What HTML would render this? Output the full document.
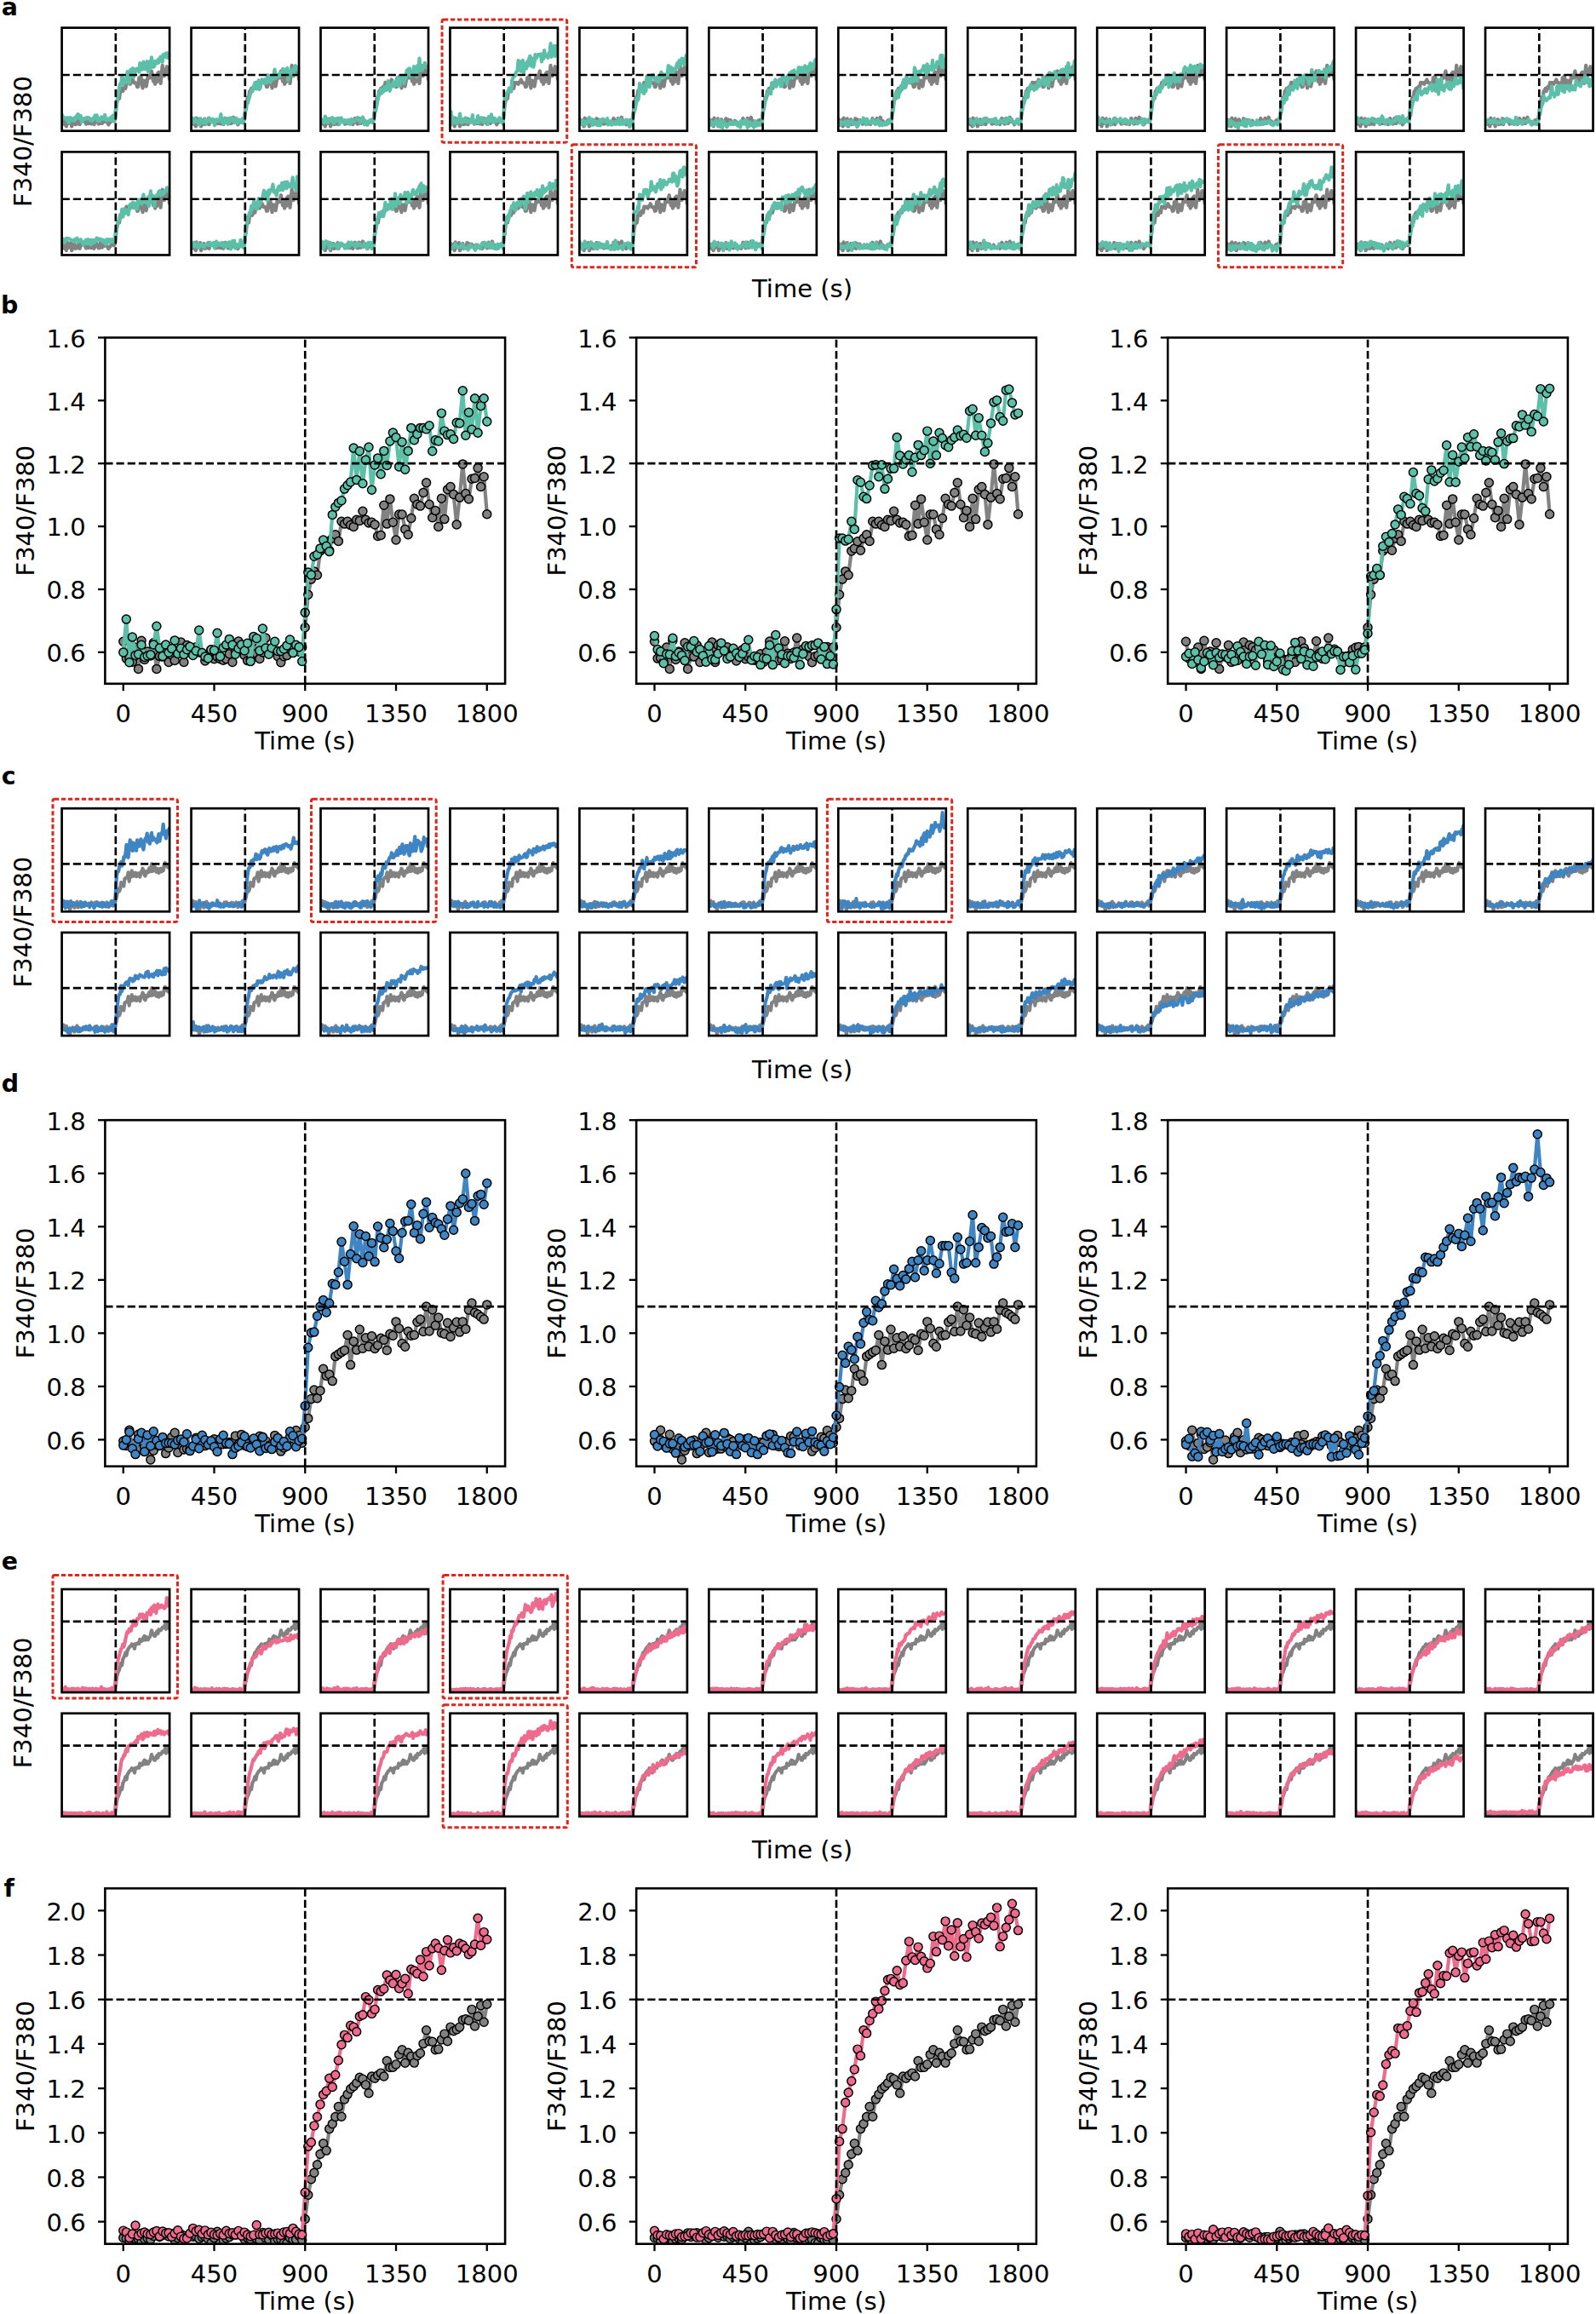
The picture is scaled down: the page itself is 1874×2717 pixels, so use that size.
<!DOCTYPE html>
<html><head><meta charset="utf-8"><title>Figure</title>
<style>html,body{margin:0;padding:0;background:#fff}svg{display:block}</style></head>
<body>
<svg width="1874" height="2717" viewBox="0 0 1874 2717" font-family='"DejaVu Sans","Liberation Sans",sans-serif' fill="#000">
<rect width="1874" height="2717" fill="#fff"/>
<defs>
<marker id="m828282" markerUnits="userSpaceOnUse" markerWidth="14" markerHeight="14" refX="7" refY="7" viewBox="0 0 14 14"><circle cx="7" cy="7" r="5" fill="#828282" stroke="#000" stroke-width="1.45"/></marker>
<marker id="m5cc0a9" markerUnits="userSpaceOnUse" markerWidth="14" markerHeight="14" refX="7" refY="7" viewBox="0 0 14 14"><circle cx="7" cy="7" r="5" fill="#5cc0a9" stroke="#000" stroke-width="1.45"/></marker>
<marker id="m3f85c4" markerUnits="userSpaceOnUse" markerWidth="14" markerHeight="14" refX="7" refY="7" viewBox="0 0 14 14"><circle cx="7" cy="7" r="5" fill="#3f85c4" stroke="#000" stroke-width="1.45"/></marker>
<marker id="mee6b8e" markerUnits="userSpaceOnUse" markerWidth="14" markerHeight="14" refX="7" refY="7" viewBox="0 0 14 14"><circle cx="7" cy="7" r="5" fill="#ee6b8e" stroke="#000" stroke-width="1.45"/></marker>
<polyline id="ga" points="0,106.3 1.1,112.3 2.1,112 3.2,113.5 4.2,108.4 5.3,115.9 6.3,106 7.4,112.7 8.4,109.8 9.5,111.3 10.5,106.8 11.6,115.9 12.7,111.5 13.7,111.7 14.8,107.6 15.8,113.5 16.9,111.1 17.9,113 19,110.5 20,106.6 21.1,113.5 22.1,107.6 23.2,108.3 24.2,109.3 25.3,108.3 26.4,110.1 27.4,110.4 28.5,113.1 29.5,111.3 30.6,109.2 31.6,112.5 32.7,111.7 33.7,112.5 34.8,112.9 35.8,112.4 36.9,110.7 37.9,113.5 39,110 40.1,106.3 41.1,108.7 42.2,111.1 43.2,113 44.3,112.6 45.3,106.2 46.4,110.5 47.4,112.3 48.5,110.1 49.5,105.1 50.6,110.3 51.7,109 52.7,109.8 53.8,111.6 54.8,113.7 55.9,111.6 56.9,111.2 58,109.1 59,108.4 60.1,108.2 61.1,109.9 62.2,108.3 63.2,101.4 64.3,89.9 65.4,84.5 66.4,81.8 67.5,83.1 68.5,74.6 69.6,73.8 70.6,71.3 71.7,74.4 72.7,70.2 73.8,68.9 74.8,71.2 75.9,64.3 77,65.2 78,64.3 79.1,65.6 80.1,66.2 81.2,63.7 82.2,64.1 83.3,60.8 84.3,63.7 85.4,64.8 86.4,64.6 87.5,65.4 88.5,69.5 89.6,69.1 90.7,58.7 91.7,65.2 92.8,56.5 93.8,64.6 94.9,70.8 95.9,61.9 97,61.9 98,67 99.1,68.9 100.1,63.2 101.2,56.3 102.3,58.3 103.3,58.9 104.4,54.3 105.4,50.8 106.5,58.3 107.5,63 108.6,60.5 109.6,66.2 110.7,56.3 111.7,63.5 112.8,53.2 113.9,52.2 114.9,54.8 116,65.4 117,55.9 118.1,44.3 119.1,54.6 120.2,56.5 121.2,49.4 122.3,49.2 123.3,45.6 124.4,52.2 125.4,48.7 126.5,61.8" fill="none" stroke="#828282" stroke-width="4.2" stroke-linejoin="round"/>
<polyline id="gc" points="0,112.3 1.1,113.9 2.1,108.5 3.2,113.7 4.2,113 5.3,109.9 6.3,115 7.4,114.4 8.4,112.8 9.5,118.8 10.5,115.6 11.6,113.6 12.7,113.9 13.7,111.9 14.8,116.6 15.8,114.6 16.9,110.8 17.9,109.4 19,116.3 20,111.9 21.1,115.2 22.1,114.9 23.2,115 24.2,114 25.3,111.1 26.4,111.7 27.4,112.4 28.5,113.9 29.5,113.2 30.6,113.4 31.6,111.6 32.7,114.5 33.7,113.2 34.8,113.4 35.8,113.3 36.9,112.7 37.9,112.8 39,110.4 40.1,113.4 41.1,110 42.2,113.8 43.2,114.2 44.3,113 45.3,112.5 46.4,112.6 47.4,110.5 48.5,110.8 49.5,112.2 50.6,113.9 51.7,113.4 52.7,110.3 53.8,112.7 54.8,115.9 55.9,114.6 56.9,112.7 58,110.8 59,111.4 60.1,108.6 61.1,110.3 62.2,112.9 63.2,107.4 64.3,104.3 65.4,97.5 66.4,94.4 67.5,97.3 68.5,94.6 69.6,87 70.6,89.4 71.7,89 72.7,91.3 73.8,82.6 74.8,81.9 75.9,81.1 77,80.5 78,75.2 79.1,85.6 80.1,77.4 81.2,80.4 82.2,73.2 83.3,79.8 84.3,76.1 85.4,79.2 86.4,75.5 87.5,79.9 88.5,78.7 89.6,76.3 90.7,76.9 91.7,80.5 92.8,74.8 93.8,75.4 94.9,70.5 95.9,72.8 97,78.2 98,79.3 99.1,73.9 100.1,75.4 101.2,75.2 102.3,70.6 103.3,69.7 104.4,74 105.4,65.2 106.5,73.8 107.5,66.3 108.6,71.8 109.6,69 110.7,74.4 111.7,74.8 112.8,70.9 113.9,75.7 114.9,72.7 116,70.6 117,74.2 118.1,70.5 119.1,73 120.2,66.4 121.2,64 122.3,67.4 123.3,67.9 124.4,68.8 125.4,69.7 126.5,64.6" fill="none" stroke="#828282" stroke-width="4.2" stroke-linejoin="round"/>
<polyline id="ge" points="0,119 1.1,119.2 2.1,120 3.2,119 4.2,119.3 5.3,119.4 6.3,120.4 7.4,119.4 8.4,119.2 9.5,119.6 10.5,118.4 11.6,117.4 12.7,118.7 13.7,118.1 14.8,117.3 15.8,118.6 16.9,117.6 17.9,119.8 19,119.1 20,117.8 21.1,118.4 22.1,119 23.2,118.1 24.2,118.6 25.3,118.5 26.4,119.3 27.4,118.8 28.5,118.7 29.5,119.4 30.6,120.8 31.6,119 32.7,116.9 33.7,120.8 34.8,119.8 35.8,119.2 36.9,118.7 37.9,118 39,118 40.1,117.8 41.1,117.7 42.2,119.5 43.2,119 44.3,119.4 45.3,118.6 46.4,119.3 47.4,119.8 48.5,117.2 49.5,119.1 50.6,119.6 51.7,118.2 52.7,120.1 53.8,119.4 54.8,119.6 55.9,120.8 56.9,120.8 58,119 59,119.6 60.1,119.6 61.1,118.3 62.2,119.8 63.2,112.6 64.3,104.4 65.4,99.1 66.4,96.9 67.5,94.2 68.5,90.5 69.6,86.9 70.6,89.3 71.7,81.9 72.7,80.2 73.8,77.8 74.8,74.3 75.9,77.7 77,71.8 78,70.2 79.1,68.3 80.1,67.4 81.2,66.3 82.2,64.4 83.3,64.9 84.3,66.9 85.4,69.8 86.4,64 87.5,64.7 88.5,63.7 89.6,62.9 90.7,64 91.7,58.7 92.8,61 93.8,60.9 94.9,59.9 95.9,56.6 97,54.9 98,59.5 99.1,56 100.1,57.2 101.2,59.4 102.3,57 103.3,56.2 104.4,52.9 105.4,48.3 106.5,52.1 107.5,52.2 108.6,54.9 109.6,54.8 110.7,51.5 111.7,49.6 112.8,52.1 113.9,47.2 114.9,48.6 116,48.1 117,47.2 118.1,44.8 119.1,44.5 120.2,45 121.2,41.2 122.3,46.9 123.3,43.6 124.4,39.9 125.4,45.6 126.5,39.4" fill="none" stroke="#828282" stroke-width="4.2" stroke-linejoin="round"/>
</defs>
<svg x="72.6" y="32.6" width="126.5" height="121.1" overflow="hidden">
<use href="#ga"/>
<polyline points="0,101.1 1.1,105.7 2.1,105.1 3.2,106 4.2,105.7 5.3,107.8 6.3,109 7.4,105.8 8.4,111.5 9.5,105.5 10.5,105.9 11.6,108.4 12.7,106.7 13.7,108.8 14.8,109.1 15.8,105 16.9,106.7 17.9,102.7 19,101.4 20,105.6 21.1,106.4 22.1,103.4 23.2,110.8 24.2,109.6 25.3,107.4 26.4,106.2 27.4,106.7 28.5,106.7 29.5,105.3 30.6,106.9 31.6,105.7 32.7,106.4 33.7,108.2 34.8,108.8 35.8,109.2 36.9,106 37.9,107.3 39,102.9 40.1,106.6 41.1,102.7 42.2,109.3 43.2,106.7 44.3,109.6 45.3,107.1 46.4,104.8 47.4,107.4 48.5,107.2 49.5,105.7 50.6,102.3 51.7,108.4 52.7,108.8 53.8,107.9 54.8,106.8 55.9,108.1 56.9,105.9 58,104.8 59,109.1 60.1,103 61.1,109.6 62.2,105.7 63.2,96.1 64.3,87.5 65.4,82.9 66.4,75.4 67.5,70 68.5,65.7 69.6,66.7 70.6,57.5 71.7,67.3 72.7,64.8 73.8,59.8 74.8,62.4 75.9,64 77,51.4 78,52.6 79.1,64.4 80.1,50.8 81.2,49.2 82.2,57.6 83.3,47.4 84.3,58 85.4,53.4 86.4,51.4 87.5,48.2 88.5,48 89.6,48.1 90.7,51.9 91.7,41.6 92.8,44.6 93.8,49 94.9,48.6 95.9,40 97,42.7 98,48.5 99.1,45.9 100.1,39.6 101.2,51.3 102.3,46.3 103.3,39.4 104.4,46.8 105.4,34.8 106.5,45.4 107.5,46.1 108.6,45.4 109.6,39.3 110.7,40.7 111.7,41.7 112.8,37.6 113.8,40.9 114.9,36.1 116,34 117,34.8 118.1,40.2 119.1,31.6 120.2,34.2 121.2,31 122.3,29.9 123.3,35 124.4,29.8 125.4,35.4 126.5,29.7" fill="none" stroke="#5cc0a9" stroke-width="4.2" stroke-linejoin="round" stroke-linecap="butt" />
</svg>
<line x1="72.6" y1="87.95" x2="199.1" y2="87.95" stroke="#000" stroke-width="2.65" stroke-dasharray="9.2 4"/>
<line x1="135.85" y1="153.7" x2="135.85" y2="32.6" stroke="#000" stroke-width="2.65" stroke-dasharray="9.2 4"/>
<rect x="72.6" y="32.6" width="126.5" height="121.1" fill="none" stroke="#000" stroke-width="2.7"/>
<svg x="224.55" y="32.6" width="126.5" height="121.1" overflow="hidden">
<use href="#ga"/>
<polyline points="0,105.4 1.1,107.1 2.1,106.8 3.2,111.1 4.2,106.2 5.3,108.4 6.3,110.2 7.4,111.1 8.4,109.4 9.5,114 10.5,106.9 11.6,109.1 12.7,110.2 13.7,111.5 14.8,110.3 15.8,106.8 16.9,112.9 17.9,108.8 19,110.1 20,109 21.1,105.9 22.1,107.8 23.2,110.8 24.2,110.5 25.3,107.1 26.4,108.7 27.4,114.6 28.5,108.2 29.5,107.5 30.6,109 31.6,109.7 32.7,108.4 33.7,106.9 34.8,101.5 35.8,110.4 36.9,109.5 38,113.2 39,105.9 40.1,108.2 41.1,110.6 42.2,106.5 43.2,112.6 44.3,107.3 45.3,110.4 46.4,105.7 47.4,107.5 48.5,106.9 49.5,109.4 50.6,111.4 51.7,106.5 52.7,106.1 53.8,110.8 54.8,111.9 55.9,107.9 56.9,109.2 58,108.6 59,111.3 60.1,106.7 61.1,111.8 62.2,105.8 63.2,98.1 64.3,96.1 65.4,88.4 66.4,88.4 67.5,83.9 68.5,81 69.6,76.9 70.6,73.4 71.7,74 72.7,72.4 73.8,67.4 74.8,64.7 75.9,67.7 77,71.8 78,69.6 79.1,61.7 80.1,72.3 81.2,70 82.2,63.8 83.3,61.6 84.3,64.6 85.4,63.2 86.4,60.8 87.5,64.9 88.5,64.9 89.6,55.6 90.7,56.7 91.7,57.1 92.8,64.2 93.8,59.7 94.9,57 95.9,60.8 97,55.3 98,49 99.1,59.4 100.1,57 101.2,55.7 102.3,57.3 103.3,54.3 104.4,56.2 105.4,53 106.5,54 107.5,48.2 108.6,49.3 109.6,53.4 110.7,52 111.7,48.6 112.8,47.5 113.8,61.9 114.9,51.9 116,53.2 117,49.5 118.1,51.4 119.1,53 120.2,56.1 121.2,46.3 122.3,44.7 123.3,48.7 124.4,46.6 125.4,49.3 126.5,48.8" fill="none" stroke="#5cc0a9" stroke-width="4.2" stroke-linejoin="round" stroke-linecap="butt" />
</svg>
<line x1="224.55" y1="87.95" x2="351.05" y2="87.95" stroke="#000" stroke-width="2.65" stroke-dasharray="9.2 4"/>
<line x1="287.8" y1="153.7" x2="287.8" y2="32.6" stroke="#000" stroke-width="2.65" stroke-dasharray="9.2 4"/>
<rect x="224.55" y="32.6" width="126.5" height="121.1" fill="none" stroke="#000" stroke-width="2.7"/>
<svg x="376.5" y="32.6" width="126.5" height="121.1" overflow="hidden">
<use href="#ga"/>
<polyline points="0,111.8 1.1,109.7 2.1,108.2 3.2,109.9 4.2,111.5 5.3,104 6.3,108.1 7.4,108.1 8.4,111.2 9.5,110.5 10.5,107.8 11.6,109.4 12.6,106.9 13.7,105.6 14.8,111.7 15.8,112.1 16.9,106.8 17.9,109.2 19,107.6 20,106.2 21.1,106.3 22.1,113 23.2,107.7 24.2,105.8 25.3,109.5 26.4,110.9 27.4,111.2 28.5,108.6 29.5,110.4 30.6,109.4 31.6,111.7 32.7,108.4 33.7,111.2 34.8,113.1 35.8,107.3 36.9,110.7 37.9,110.1 39,109 40.1,109.6 41.1,108.7 42.2,107.6 43.2,105.4 44.3,106.8 45.3,108.4 46.4,110.9 47.4,108.9 48.5,108.5 49.5,105.3 50.6,109.9 51.7,113.7 52.7,110.4 53.8,110.2 54.8,114 55.9,110 56.9,109.7 58,108.5 59,110.1 60.1,108.1 61.1,111.4 62.2,108.7 63.2,98.1 64.3,98.7 65.4,93.4 66.4,88.7 67.5,81 68.5,76.8 69.6,78 70.6,71.9 71.7,76.9 72.7,72.3 73.8,75 74.8,69.4 75.9,70.7 77,73.3 78,71.3 79.1,62.5 80.1,66.5 81.2,74.2 82.2,70.1 83.3,68.1 84.3,68.5 85.4,63.8 86.4,68.8 87.5,64.5 88.6,63.4 89.6,58.9 90.7,67.5 91.7,62.2 92.8,68.1 93.8,57.9 94.9,58.5 95.9,59.2 97,56.6 98,65.3 99.1,56 100.1,59.6 101.2,49.9 102.3,54.9 103.3,48.1 104.4,47.8 105.4,56.2 106.5,56.2 107.5,55.6 108.6,50.6 109.6,45.5 110.7,54.2 111.7,51.6 112.8,57.5 113.9,44.2 114.9,47.8 116,36 117,50.4 118.1,48.1 119.1,49.7 120.2,45.1 121.2,46.2 122.3,41.2 123.3,44.9 124.4,45.5 125.4,47.5 126.5,44.1" fill="none" stroke="#5cc0a9" stroke-width="4.2" stroke-linejoin="round" stroke-linecap="butt" />
</svg>
<line x1="376.5" y1="87.95" x2="503" y2="87.95" stroke="#000" stroke-width="2.65" stroke-dasharray="9.2 4"/>
<line x1="439.75" y1="153.7" x2="439.75" y2="32.6" stroke="#000" stroke-width="2.65" stroke-dasharray="9.2 4"/>
<rect x="376.5" y="32.6" width="126.5" height="121.1" fill="none" stroke="#000" stroke-width="2.7"/>
<svg x="528.45" y="32.6" width="126.5" height="121.1" overflow="hidden">
<use href="#ga"/>
<polyline points="0,110.1 1.1,98.5 2.1,113.6 3.2,104.8 4.2,111.1 5.3,110.8 6.3,107.6 7.4,111.8 8.4,111.3 9.5,111 10.5,107.4 11.6,101 12.6,108.7 13.7,111.5 14.8,107.5 15.8,110.2 16.9,108.8 17.9,105.9 19,110.6 20,108.7 21.1,110.9 22.1,109.1 23.2,108.1 24.2,111.2 25.3,109.6 26.4,102.4 27.4,110.3 28.5,111.6 29.5,112.2 30.6,109.1 31.6,109.4 32.7,103.4 33.7,111.6 34.8,108.5 35.8,107.5 36.9,105.5 38,107.6 39,110.8 40.1,108.8 41.1,107.5 42.2,109.5 43.2,106.9 44.3,113.3 45.3,104.6 46.4,105.2 47.4,109.6 48.5,101.8 49.5,108.7 50.6,110.8 51.7,108.6 52.7,106.3 53.8,109.7 54.8,109.7 55.9,109 56.9,107.7 58,105.7 59,110.3 60.1,107.5 61.1,108.2 62.2,113.3 63.2,96.2 64.3,82.1 65.4,83 66.4,76.5 67.5,76 68.5,73.8 69.6,70.8 70.6,73 71.7,74.9 72.7,62 73.8,59.2 74.8,57.8 75.9,57 77,53 78,51.6 79.1,50.5 80.1,38.6 81.2,49.8 82.2,39.7 83.3,51.1 84.3,42.8 85.4,38.3 86.4,53.3 87.5,44.6 88.5,42.2 89.6,47.8 90.7,39.6 91.7,44.7 92.8,36.2 93.8,33.2 94.9,34.9 95.9,45.1 97,36.6 98,46.1 99.1,39.6 100.1,31.6 101.2,35.9 102.3,33.8 103.3,31.6 104.4,31.6 105.4,32 106.5,30.8 107.5,39.7 108.6,35.9 109.6,36.2 110.7,26.4 111.7,32.7 112.8,34 113.9,33.8 114.9,35.4 116,29.7 117,29.9 118.1,18.6 119.1,34.2 120.2,26.2 121.2,32.1 122.3,21.2 123.3,33.4 124.4,23.9 125.4,21.2 126.5,29.4" fill="none" stroke="#5cc0a9" stroke-width="4.2" stroke-linejoin="round" stroke-linecap="butt" />
</svg>
<line x1="528.45" y1="87.95" x2="654.95" y2="87.95" stroke="#000" stroke-width="2.65" stroke-dasharray="9.2 4"/>
<line x1="591.7" y1="153.7" x2="591.7" y2="32.6" stroke="#000" stroke-width="2.65" stroke-dasharray="9.2 4"/>
<rect x="528.45" y="32.6" width="126.5" height="121.1" fill="none" stroke="#000" stroke-width="2.7"/>
<svg x="680.4" y="32.6" width="126.5" height="121.1" overflow="hidden">
<use href="#ga"/>
<polyline points="0,111.6 1.1,112.4 2.1,112.7 3.2,111 4.2,108.9 5.3,111.4 6.3,114.5 7.4,110.1 8.4,112.3 9.5,111.5 10.5,107.3 11.6,105.4 12.6,109.9 13.7,109 14.8,114.2 15.8,108 16.9,113.9 17.9,110.8 19,109.6 20,111.8 21.1,114.6 22.1,110.4 23.2,109.1 24.2,114.9 25.3,111.3 26.4,107.9 27.4,107.1 28.5,107.7 29.5,109.7 30.6,109.6 31.6,110.8 32.7,106.5 33.7,113.9 34.8,110.8 35.8,109.7 36.9,110.5 38,114 39,110.8 40.1,110.8 41.1,113 42.2,111.9 43.2,110.4 44.3,112.6 45.3,110.5 46.4,106.8 47.4,113.5 48.5,111.4 49.5,107.7 50.6,113.2 51.7,112.9 52.7,110.6 53.8,111.9 54.8,108 55.9,110.8 56.9,109 58,114.4 59,116.3 60.1,108.5 61.1,112.5 62.2,114 63.2,100.1 64.3,99.8 65.4,95 66.4,89.6 67.5,82.7 68.5,85.2 69.6,82 70.6,65.5 71.7,74 72.7,70 73.8,67.9 74.8,76.4 75.9,77.3 77,67.5 78,74.4 79.1,56.9 80.1,57.1 81.2,66 82.2,69.4 83.3,63.7 84.3,55.8 85.4,55.6 86.4,55.3 87.5,58.2 88.5,61 89.6,60.1 90.7,62.6 91.7,57.8 92.8,63.8 93.8,61.4 94.9,59.2 95.9,52.1 97,54.3 98,54.6 99.1,58.4 100.1,54.9 101.2,55.6 102.3,55.8 103.3,54.2 104.4,44.4 105.4,49 106.5,45.8 107.5,56.2 108.6,47.1 109.6,50.5 110.7,51.6 111.7,48.9 112.8,48.3 113.9,44.9 114.9,41.6 116,46.7 117,38.6 118.1,41 119.1,42.9 120.2,35.9 121.2,39 122.3,36.9 123.3,43.2 124.4,37.3 125.4,32.4 126.5,39.9" fill="none" stroke="#5cc0a9" stroke-width="4.2" stroke-linejoin="round" stroke-linecap="butt" />
</svg>
<line x1="680.4" y1="87.95" x2="806.9" y2="87.95" stroke="#000" stroke-width="2.65" stroke-dasharray="9.2 4"/>
<line x1="743.65" y1="153.7" x2="743.65" y2="32.6" stroke="#000" stroke-width="2.65" stroke-dasharray="9.2 4"/>
<rect x="680.4" y="32.6" width="126.5" height="121.1" fill="none" stroke="#000" stroke-width="2.7"/>
<svg x="832.35" y="32.6" width="126.5" height="121.1" overflow="hidden">
<use href="#ga"/>
<polyline points="0,107.3 1.1,114.3 2.1,111.1 3.2,110.6 4.2,114.7 5.3,113.4 6.3,111.5 7.4,111.7 8.4,108.6 9.5,112 10.5,115.3 11.6,112.3 12.6,108.7 13.7,116.4 14.8,111.4 15.8,117.5 16.9,109.5 17.9,111.2 19,113.6 20,114.1 21.1,116.6 22.1,114.1 23.2,112.7 24.2,113.1 25.3,110.8 26.4,113.3 27.4,112.2 28.5,110.4 29.5,111.9 30.6,112.9 31.6,113.3 32.7,110.3 33.7,115 34.8,111.9 35.8,111.4 36.9,117.1 38,109.5 39,111.3 40.1,111.8 41.1,112.9 42.2,108.6 43.2,111.7 44.3,108.5 45.3,117.2 46.4,111.3 47.4,115.3 48.5,110.7 49.5,114.3 50.6,112.8 51.7,115.2 52.7,117 53.8,109.6 54.8,115.5 55.9,111.3 56.9,113 58,114.7 59,111.7 60.1,112.8 61.1,114 62.2,113.3 63.2,101.1 64.3,96.1 65.4,91 66.4,85.4 67.5,81.5 68.5,79.6 69.6,74.1 70.6,75.6 71.7,74.1 72.7,77.6 73.8,64.8 74.8,68 75.9,66.4 77,68.8 78,60.9 79.1,69.1 80.1,63.2 81.2,62.9 82.2,61.7 83.3,63 84.3,68.8 85.4,68.6 86.4,57.1 87.5,56.2 88.5,61.6 89.6,59.7 90.7,62.6 91.7,66.1 92.8,58.2 93.8,57.4 94.9,53.4 95.9,58.9 97,51.6 98,51.5 99.1,57.6 100.1,49.7 101.2,54.1 102.3,52.8 103.3,53.7 104.4,54.3 105.4,46.5 106.5,47.4 107.5,56 108.6,46.7 109.6,54.5 110.7,47.8 111.7,50.8 112.8,44.8 113.9,52.1 114.9,55.1 116,46 117,46 118.1,49.9 119.1,41.6 120.2,42.5 121.2,48.7 122.3,47.2 123.3,45 124.4,38.9 125.4,37.4 126.5,41.6" fill="none" stroke="#5cc0a9" stroke-width="4.2" stroke-linejoin="round" stroke-linecap="butt" />
</svg>
<line x1="832.35" y1="87.95" x2="958.85" y2="87.95" stroke="#000" stroke-width="2.65" stroke-dasharray="9.2 4"/>
<line x1="895.6" y1="153.7" x2="895.6" y2="32.6" stroke="#000" stroke-width="2.65" stroke-dasharray="9.2 4"/>
<rect x="832.35" y="32.6" width="126.5" height="121.1" fill="none" stroke="#000" stroke-width="2.7"/>
<svg x="984.3" y="32.6" width="126.5" height="121.1" overflow="hidden">
<use href="#ga"/>
<polyline points="0,110 1.1,112.5 2.1,114.3 3.2,110.3 4.2,113.2 5.3,112 6.3,111.8 7.4,111.3 8.4,109.8 9.5,114.3 10.5,113 11.6,109.7 12.6,114.3 13.7,111.1 14.8,109.8 15.8,109.9 16.9,110.9 17.9,113 19,111.3 20,112.9 21.1,111.6 22.1,116.4 23.2,114.8 24.2,111.5 25.3,109.3 26.4,111.4 27.4,109 28.5,111 29.5,105.9 30.6,109.5 31.6,108.4 32.7,113.5 33.7,107 34.8,110.2 35.8,110 36.9,111.7 38,109.9 39,111.5 40.1,107.7 41.1,108.8 42.2,110.5 43.2,112.1 44.3,112.9 45.3,111.8 46.4,108 47.4,111.7 48.5,114.7 49.5,110.6 50.6,114 51.7,114.5 52.7,112 53.8,113.3 54.8,111.2 55.9,112.6 56.9,113.6 58,110.2 59,112.4 60.1,111.5 61.1,108 62.2,110.9 63.2,100.1 64.3,98.8 65.4,88.3 66.4,83.3 67.5,76.5 68.5,80 69.6,73.8 70.6,81.9 71.7,75.8 72.7,75 73.8,68.1 74.8,72.5 75.9,65.4 77,60.7 78,70.5 79.1,69.9 80.1,56.7 81.2,64.4 82.2,62.3 83.3,63.7 84.3,61.6 85.4,59 86.4,63.7 87.5,59.6 88.5,62.8 89.6,46.8 90.7,50.6 91.7,59.5 92.8,62.6 93.8,51.6 94.9,51.3 95.9,54.7 97,52.1 98,49.6 99.1,49.8 100.1,44.7 101.2,45 102.3,53.8 103.3,49 104.4,42.7 105.4,52.7 106.5,46.1 107.5,45.7 108.6,45.4 109.6,49.5 110.7,38.3 111.7,49.2 112.8,45.7 113.8,46.8 114.9,46.7 116,40 117,42.3 118.1,40 119.1,42 120.2,32.6 121.2,46.2 122.3,32.6 123.3,46.6 124.4,45.6 125.4,37.3 126.5,37" fill="none" stroke="#5cc0a9" stroke-width="4.2" stroke-linejoin="round" stroke-linecap="butt" />
</svg>
<line x1="984.3" y1="87.95" x2="1110.8" y2="87.95" stroke="#000" stroke-width="2.65" stroke-dasharray="9.2 4"/>
<line x1="1047.55" y1="153.7" x2="1047.55" y2="32.6" stroke="#000" stroke-width="2.65" stroke-dasharray="9.2 4"/>
<rect x="984.3" y="32.6" width="126.5" height="121.1" fill="none" stroke="#000" stroke-width="2.7"/>
<svg x="1136.25" y="32.6" width="126.5" height="121.1" overflow="hidden">
<use href="#ga"/>
<polyline points="0,112.4 1.1,109.6 2.1,107.6 3.2,107.6 4.2,111.4 5.3,109.8 6.3,111.2 7.4,114.4 8.4,109.9 9.5,108.1 10.5,107.2 11.6,108.4 12.7,111.3 13.7,110.7 14.8,112 15.8,109.2 16.9,112.6 17.9,108.9 19,106.9 20,107.4 21.1,109.6 22.1,106.1 23.2,109.3 24.2,110.5 25.3,109.3 26.4,110.5 27.4,110.3 28.5,107.9 29.5,108.5 30.6,110.3 31.6,107.2 32.7,106.6 33.7,113.2 34.8,110 35.8,112.1 36.9,110.1 38,108.8 39,108.7 40.1,111.5 41.1,111.1 42.2,110.7 43.2,107.1 44.3,107.1 45.3,112 46.4,107.1 47.4,107.4 48.5,106.4 49.5,109.1 50.6,107.5 51.7,107.2 52.7,110.7 53.8,110.7 54.8,110.5 55.9,112.4 56.9,111.4 58,107.5 59,107.5 60.1,113.6 61.1,111.5 62.2,110.5 63.2,99.1 64.3,96.4 65.4,90 66.4,88.1 67.5,82.7 68.5,75.7 69.6,77.8 70.6,81.5 71.7,72.1 72.7,72.4 73.8,67.2 74.8,71.1 75.9,68.8 77,70.8 78,73.1 79.1,70.7 80.1,68 81.2,71.6 82.2,65.7 83.3,62.3 84.3,68.5 85.4,63.4 86.4,66 87.5,64.7 88.5,56.5 89.6,65.5 90.7,67.2 91.7,61.3 92.8,60.7 93.8,59.6 94.9,68.3 95.9,52.8 97,59.9 98,53.5 99.1,60.8 100.1,57.1 101.2,55.7 102.3,51.6 103.3,58.8 104.4,55.4 105.4,58.3 106.5,53.6 107.5,59 108.6,56.9 109.6,49.7 110.7,53.2 111.7,48.9 112.8,49.2 113.8,50 114.9,52.1 116,45.5 117,58 118.1,41.6 119.1,58.5 120.2,48.6 121.2,51.2 122.3,50.8 123.3,52.3 124.4,49.2 125.4,39 126.5,45.1" fill="none" stroke="#5cc0a9" stroke-width="4.2" stroke-linejoin="round" stroke-linecap="butt" />
</svg>
<line x1="1136.25" y1="87.95" x2="1262.75" y2="87.95" stroke="#000" stroke-width="2.65" stroke-dasharray="9.2 4"/>
<line x1="1199.5" y1="153.7" x2="1199.5" y2="32.6" stroke="#000" stroke-width="2.65" stroke-dasharray="9.2 4"/>
<rect x="1136.25" y="32.6" width="126.5" height="121.1" fill="none" stroke="#000" stroke-width="2.7"/>
<svg x="1288.2" y="32.6" width="126.5" height="121.1" overflow="hidden">
<use href="#ga"/>
<polyline points="0,110.5 1.1,104.7 2.1,112.2 3.2,108.7 4.2,108.5 5.3,107.9 6.3,109.5 7.4,110.3 8.4,110.5 9.5,111.9 10.5,110.4 11.6,110.8 12.7,108.3 13.7,110.3 14.8,109 15.8,114 16.9,110.9 17.9,110.2 19,110.4 20,109.4 21.1,106.1 22.1,107 23.2,111.1 24.2,108.2 25.3,109.5 26.4,109 27.4,106.6 28.5,109.7 29.5,108.5 30.6,111.9 31.6,111.4 32.7,107.2 33.7,107.6 34.8,111.2 35.8,109.3 36.9,112.2 38,110.6 39,109.2 40.1,109.9 41.1,110 42.2,111.6 43.2,109.5 44.3,110.1 45.3,109.4 46.4,110 47.4,112.7 48.5,110.4 49.5,110.1 50.6,111.1 51.7,110.5 52.7,106.9 53.8,113.8 54.8,108.9 55.9,107.3 56.9,108 58,110.7 59,110.6 60.1,109.1 61.1,110.9 62.2,109.3 63.2,99.1 64.3,95.3 65.4,85.5 66.4,84 67.5,79.5 68.5,77.4 69.6,78.6 70.6,73.2 71.7,71 72.7,69.8 73.8,75.2 74.8,69.3 75.9,70.7 77,69.1 78,62 79.1,64.8 80.1,63.2 81.2,57.7 82.2,62.7 83.3,55.4 84.3,69.7 85.4,63 86.4,66 87.5,57.4 88.5,56.3 89.6,61.2 90.7,53.2 91.7,64 92.8,59.7 93.8,59 94.9,62.4 95.9,59.8 97,63.3 98,54.6 99.1,54.4 100.1,56.4 101.2,53.4 102.3,48 103.3,46.2 104.4,48.7 105.4,50.1 106.5,48 107.5,54.4 108.6,52.6 109.6,43.9 110.7,51.7 111.7,54.8 112.8,45.7 113.8,47.3 114.9,45.2 116,45.7 117,51.8 118.1,53.3 119.1,46.6 120.2,47.5 121.2,42.9 122.3,45.2 123.3,46.4 124.4,44.7 125.4,46.3 126.5,46.7" fill="none" stroke="#5cc0a9" stroke-width="4.2" stroke-linejoin="round" stroke-linecap="butt" />
</svg>
<line x1="1288.2" y1="87.95" x2="1414.7" y2="87.95" stroke="#000" stroke-width="2.65" stroke-dasharray="9.2 4"/>
<line x1="1351.45" y1="153.7" x2="1351.45" y2="32.6" stroke="#000" stroke-width="2.65" stroke-dasharray="9.2 4"/>
<rect x="1288.2" y="32.6" width="126.5" height="121.1" fill="none" stroke="#000" stroke-width="2.7"/>
<svg x="1440.15" y="32.6" width="126.5" height="121.1" overflow="hidden">
<use href="#ga"/>
<polyline points="0,111.4 1.1,113.8 2.1,109 3.2,115.5 4.2,109.5 5.3,109.6 6.3,111.8 7.4,111.1 8.4,114 9.5,112 10.5,115.4 11.6,113.9 12.7,112.6 13.7,117.9 14.8,112 15.8,112.9 16.9,112.4 17.9,113.7 19,109.7 20,113.7 21.1,115.3 22.1,108.1 23.2,115.7 24.2,112.2 25.3,111.6 26.4,108.6 27.4,108.6 28.5,114.8 29.5,110.9 30.6,113.9 31.6,111.9 32.7,113.2 33.7,113.5 34.8,113.8 35.8,108.6 36.9,113.7 38,111.6 39,111.7 40.1,113.6 41.1,110.9 42.2,113 43.2,110.5 44.3,112.2 45.3,109.9 46.4,110.1 47.4,112.1 48.5,110.6 49.5,109.5 50.6,109.6 51.7,112.8 52.7,113.6 53.8,112.4 54.8,114.5 55.9,111.1 56.9,112.8 58,111.2 59,111.8 60.1,113.9 61.1,111.8 62.2,107.8 63.2,101.1 64.3,99.1 65.4,88.8 66.4,83.3 67.5,88.2 68.5,80.5 69.6,78.8 70.6,84.3 71.7,71.9 72.7,74.6 73.8,78.2 74.8,69 75.9,71.1 77,70.3 78,73.1 79.1,70.5 80.1,61.9 81.2,68.1 82.2,65.4 83.3,71.3 84.3,60.2 85.4,60.5 86.4,56.7 87.5,63.9 88.5,59.5 89.6,66.4 90.7,56.8 91.7,55.7 92.8,56.4 93.8,55.3 94.9,58.5 95.9,61 97,66.2 98,58.2 99.1,62.5 100.1,49.4 101.2,54.3 102.3,61.2 103.3,61.9 104.4,57.8 105.4,56 106.5,55.3 107.5,51.5 108.6,50.3 109.6,54.1 110.7,52.2 111.7,56 112.8,52.1 113.8,53.1 114.9,48.9 116,58.7 117,52.6 118.1,48.7 119.1,51.8 120.2,46 121.2,48.1 122.3,50.2 123.3,45.2 124.4,43.8 125.4,39.7 126.5,42.9" fill="none" stroke="#5cc0a9" stroke-width="4.2" stroke-linejoin="round" stroke-linecap="butt" />
</svg>
<line x1="1440.15" y1="87.95" x2="1566.65" y2="87.95" stroke="#000" stroke-width="2.65" stroke-dasharray="9.2 4"/>
<line x1="1503.4" y1="153.7" x2="1503.4" y2="32.6" stroke="#000" stroke-width="2.65" stroke-dasharray="9.2 4"/>
<rect x="1440.15" y="32.6" width="126.5" height="121.1" fill="none" stroke="#000" stroke-width="2.7"/>
<svg x="1592.1" y="32.6" width="126.5" height="121.1" overflow="hidden">
<use href="#ga"/>
<polyline points="0,111.6 1.1,108.2 2.1,105.8 3.2,109.9 4.2,110.8 5.3,110.1 6.3,109.2 7.4,109.9 8.4,110.7 9.5,111.7 10.5,108.6 11.6,110.4 12.7,112.3 13.7,107.4 14.8,111.4 15.8,109.3 16.9,108 17.9,108.2 19,106.3 20,108.4 21.1,110 22.1,109.2 23.2,111.2 24.2,109.3 25.3,107.8 26.4,107.1 27.4,112.8 28.5,108 29.5,109.8 30.6,103.8 31.6,105.7 32.7,110.5 33.7,111.1 34.8,112.7 35.8,108.3 36.9,109.4 38,107.9 39,109.1 40.1,112.9 41.1,110.9 42.2,112 43.2,108.7 44.3,109.8 45.3,109.8 46.4,109.8 47.4,104.8 48.5,107.5 49.5,106.6 50.6,104.5 51.7,111.9 52.7,107.9 53.8,109.2 54.8,103.4 55.9,109.2 56.9,111.2 58,107.9 59,109.2 60.1,106.6 61.1,109.5 62.2,110.4 63.2,98.1 64.3,102.9 65.4,93.3 66.4,89.3 67.5,85.1 68.5,82.2 69.6,80.9 70.6,81.9 71.7,84.8 72.7,74.8 73.8,75.3 74.8,71.7 75.9,74.4 77,78.7 78,76.4 79.1,76.7 80.1,73.7 81.2,71.8 82.2,72.9 83.3,76.5 84.3,74.2 85.4,69.8 86.4,69.9 87.5,71.1 88.5,66.4 89.6,73.8 90.7,70 91.7,67.3 92.8,71.9 93.8,74.3 94.9,72.5 95.9,60.8 97,78 98,67.1 99.1,70 100.1,59.9 101.2,72.4 102.3,68.4 103.3,74.1 104.4,69.9 105.4,66.7 106.5,67 107.5,63.8 108.6,70.6 109.6,71.7 110.7,64 111.7,72.2 112.8,67.8 113.8,65.8 114.9,68.6 116,60.8 117,59.2 118.1,63.1 119.1,65.8 120.2,61.7 121.2,64.4 122.3,64.6 123.3,57.9 124.4,64.5 125.4,60.2 126.5,72.4" fill="none" stroke="#5cc0a9" stroke-width="4.2" stroke-linejoin="round" stroke-linecap="butt" />
</svg>
<line x1="1592.1" y1="87.95" x2="1718.6" y2="87.95" stroke="#000" stroke-width="2.65" stroke-dasharray="9.2 4"/>
<line x1="1655.35" y1="153.7" x2="1655.35" y2="32.6" stroke="#000" stroke-width="2.65" stroke-dasharray="9.2 4"/>
<rect x="1592.1" y="32.6" width="126.5" height="121.1" fill="none" stroke="#000" stroke-width="2.7"/>
<svg x="1744.05" y="32.6" width="126.5" height="121.1" overflow="hidden">
<use href="#ga"/>
<polyline points="0,106.8 1.1,113 2.1,108.8 3.2,109 4.2,109.3 5.3,108.8 6.3,111.6 7.4,110.7 8.4,111.2 9.5,107.8 10.5,107.3 11.6,111.3 12.7,109.9 13.7,112 14.8,111.2 15.8,111.9 16.9,110.4 17.9,110.8 19,108.5 20,109 21.1,112 22.1,108.8 23.2,110.1 24.2,109.8 25.3,106.6 26.4,110 27.4,107.6 28.5,108 29.5,108.6 30.6,111.7 31.6,109.7 32.7,111.6 33.7,113.4 34.8,111 35.8,105.2 36.9,107 38,112.7 39,109.7 40.1,111.9 41.1,109.5 42.2,110.1 43.2,112.3 44.3,109.6 45.3,110.2 46.4,110.7 47.4,109.8 48.5,110.8 49.5,109.4 50.6,107.7 51.7,108.9 52.7,110.2 53.8,113.6 54.8,110.8 55.9,110.3 56.9,111.3 58,111.3 59,113 60.1,111.1 61.1,113.4 62.2,110.3 63.2,99.1 64.3,101.6 65.4,93.7 66.4,91.3 67.5,88.3 68.5,79.9 69.6,84.5 70.6,84.2 71.7,85.3 72.7,84 73.8,82.5 74.8,81.6 75.9,82.3 77,75.7 78,69 79.1,77.6 80.1,78 81.2,80.9 82.2,77.4 83.3,76.9 84.3,68.8 85.4,78.2 86.4,73.8 87.5,68.6 88.5,70.1 89.6,68.1 90.7,74.2 91.7,68 92.8,75.5 93.8,69.5 94.9,68.5 95.9,71.5 97,67.6 98,71.9 99.1,73.9 100.1,69.6 101.2,67.8 102.3,72.5 103.3,68.8 104.4,70.9 105.4,72.8 106.5,61.7 107.5,63.7 108.6,66 109.6,67.1 110.7,67.1 111.7,68.8 112.8,64.2 113.8,61.7 114.9,63.9 116,61.7 117,58.3 118.1,63.8 119.1,56.3 120.2,64.5 121.2,60.3 122.3,68.7 123.3,61.3 124.4,62.8 125.4,68.1 126.5,58.6" fill="none" stroke="#5cc0a9" stroke-width="4.2" stroke-linejoin="round" stroke-linecap="butt" />
</svg>
<line x1="1744.05" y1="87.95" x2="1870.55" y2="87.95" stroke="#000" stroke-width="2.65" stroke-dasharray="9.2 4"/>
<line x1="1807.3" y1="153.7" x2="1807.3" y2="32.6" stroke="#000" stroke-width="2.65" stroke-dasharray="9.2 4"/>
<rect x="1744.05" y="32.6" width="126.5" height="121.1" fill="none" stroke="#000" stroke-width="2.7"/>
<svg x="72.6" y="178.35" width="126.5" height="121.1" overflow="hidden">
<use href="#ga"/>
<polyline points="0,104.4 1.1,102 2.1,103.6 3.2,106.4 4.2,104.6 5.3,101.5 6.3,101.7 7.4,101.6 8.4,101.9 9.5,102.5 10.5,103.3 11.6,103.8 12.7,103.7 13.7,104.6 14.8,105.2 15.8,102.5 16.9,103.8 17.9,101.4 19,106.1 20,104 21.1,103.6 22.1,102.8 23.2,105.2 24.2,105.4 25.3,109.6 26.4,106.8 27.4,104.6 28.5,103.3 29.5,107.6 30.6,102.7 31.6,107.8 32.7,103.7 33.7,108.4 34.8,103.4 35.8,107.6 36.9,103.5 37.9,106.4 39,106.2 40.1,103.1 41.1,101.2 42.2,102 43.2,103.4 44.3,102.1 45.3,102.4 46.4,104.1 47.4,103.2 48.5,105.9 49.5,103.9 50.6,104.1 51.7,108.5 52.7,102.7 53.8,106.3 54.8,103 55.9,102.8 56.9,106 58,105 59,102.9 60.1,105.5 61.1,103.6 62.2,104.6 63.2,93.1 64.3,90.8 65.4,85 66.4,81.2 67.5,80 68.5,74 69.6,76.9 70.6,67.5 71.7,76.4 72.7,66.9 73.8,72.4 74.8,68.2 75.9,71.3 77,68.7 78,73.7 79.1,66.7 80.1,61.7 81.2,62.9 82.2,60.9 83.3,59.3 84.3,65.8 85.4,60.3 86.4,62.5 87.5,60.4 88.5,67 89.6,55.9 90.7,56.2 91.7,58.8 92.8,59.9 93.8,61.1 94.9,54.4 95.9,50.1 97,58 98,57.4 99.1,60.2 100.1,59.5 101.2,53.1 102.3,63.6 103.3,54.1 104.4,46 105.4,57.2 106.5,58 107.5,51.7 108.6,63.5 109.6,56.4 110.7,53 111.7,50.5 112.8,49.7 113.8,46.9 114.9,45.8 116,50.9 117,49.6 118.1,47 119.1,49.6 120.2,46.8 121.2,46.8 122.3,46.1 123.3,42 124.4,45.5 125.4,43.5 126.5,41.6" fill="none" stroke="#5cc0a9" stroke-width="4.2" stroke-linejoin="round" stroke-linecap="butt" />
</svg>
<line x1="72.6" y1="233.7" x2="199.1" y2="233.7" stroke="#000" stroke-width="2.65" stroke-dasharray="9.2 4"/>
<line x1="135.85" y1="299.45" x2="135.85" y2="178.35" stroke="#000" stroke-width="2.65" stroke-dasharray="9.2 4"/>
<rect x="72.6" y="178.35" width="126.5" height="121.1" fill="none" stroke="#000" stroke-width="2.7"/>
<svg x="224.55" y="178.35" width="126.5" height="121.1" overflow="hidden">
<use href="#ga"/>
<polyline points="0,109.1 1.1,107.3 2.1,110.5 3.2,106.3 4.2,108.9 5.3,111.5 6.3,111.1 7.4,107.6 8.4,112 9.5,111.8 10.5,110.6 11.6,108.7 12.7,108.6 13.7,110.4 14.8,112.1 15.8,109.8 16.9,109.5 17.9,108.5 19,109 20,109.4 21.1,109.6 22.1,106.4 23.2,110 24.2,109.1 25.3,109.8 26.4,106.6 27.4,112.9 28.5,111 29.5,105.1 30.6,109.8 31.6,107.6 32.7,107.3 33.7,109.3 34.8,109.4 35.8,106.8 36.9,109.9 38,106.9 39,112.1 40.1,110.6 41.1,107.2 42.2,110.7 43.2,106.5 44.3,106.1 45.3,109 46.4,114 47.4,109 48.5,104.6 49.5,108.8 50.6,104.2 51.7,113.2 52.7,109.5 53.8,108.6 54.8,111.7 55.9,109.3 56.9,111 58,103.5 59,109.7 60.1,109.1 61.1,112.2 62.2,112.7 63.2,98.1 64.3,95.8 65.4,82.6 66.4,76.1 67.5,75.6 68.5,71.1 69.6,72 70.6,63.4 71.7,67.9 72.7,62.1 73.8,57.3 74.8,65.5 75.9,60.5 77,67.4 78,62.7 79.1,54.7 80.1,62.9 81.2,59.1 82.2,57 83.3,55.1 84.3,50.6 85.4,45.4 86.4,47 87.5,48.4 88.5,56.1 89.6,57 90.7,45.3 91.7,49.5 92.8,44.5 93.8,45.4 94.9,43.5 95.9,38.3 97,47.1 98,45.4 99.1,48.2 100.1,51.1 101.2,46.2 102.3,41.5 103.3,40.4 104.4,44.7 105.4,42.6 106.5,36.4 107.5,44.7 108.6,41.2 109.6,35.5 110.7,42 111.7,42.9 112.8,35.3 113.8,40 114.9,41 116,37.7 117,40.4 118.1,37.5 119.1,30.1 120.2,41.1 121.2,37.6 122.3,39.2 123.3,45.6 124.4,29.1 125.4,34.3 126.5,35.3" fill="none" stroke="#5cc0a9" stroke-width="4.2" stroke-linejoin="round" stroke-linecap="butt" />
</svg>
<line x1="224.55" y1="233.7" x2="351.05" y2="233.7" stroke="#000" stroke-width="2.65" stroke-dasharray="9.2 4"/>
<line x1="287.8" y1="299.45" x2="287.8" y2="178.35" stroke="#000" stroke-width="2.65" stroke-dasharray="9.2 4"/>
<rect x="224.55" y="178.35" width="126.5" height="121.1" fill="none" stroke="#000" stroke-width="2.7"/>
<svg x="376.5" y="178.35" width="126.5" height="121.1" overflow="hidden">
<use href="#ga"/>
<polyline points="0,107.7 1.1,111.1 2.1,105.5 3.2,113.1 4.2,110.9 5.3,107.8 6.3,104.9 7.4,106.4 8.4,105.9 9.5,108.6 10.5,114.1 11.6,106.9 12.6,108.6 13.7,110.1 14.8,110 15.8,110.1 16.9,108.4 17.9,108.6 19,109.4 20,113.4 21.1,107.8 22.1,108.4 23.2,110.7 24.2,107.2 25.3,109.6 26.4,109.4 27.4,109.4 28.5,112.4 29.5,109.7 30.6,111.1 31.6,113 32.7,106.1 33.7,111.1 34.8,109.3 35.8,106.2 36.9,106.9 37.9,107.5 39,109.7 40.1,110.2 41.1,111.6 42.2,107 43.2,108.3 44.3,110.1 45.3,107.9 46.4,108.4 47.4,109.7 48.5,110.9 49.5,110.3 50.6,111.6 51.7,107.2 52.7,108.6 53.8,110 54.8,113.6 55.9,106.4 56.9,106.5 58,108.8 59,106.6 60.1,113.8 61.1,107.5 62.2,110.6 63.2,98.1 64.3,93.1 65.4,87.6 66.4,79.1 67.5,77.1 68.5,71.4 69.6,74.5 70.6,75.8 71.7,70.5 72.7,70.7 73.8,75.7 74.8,69 75.9,59.4 77,65.2 78,67.9 79.1,62.5 80.1,65.2 81.2,66.2 82.2,57.1 83.3,55 84.3,67.6 85.4,55.8 86.4,60 87.5,49 88.6,63.9 89.6,54.2 90.7,59.5 91.7,53.7 92.8,60.9 93.8,50.3 94.9,56 95.9,56 97,54.8 98,54.1 99.1,47.6 100.1,56.9 101.2,59.8 102.3,47.5 103.3,54.7 104.4,54.1 105.4,57.6 106.5,51.9 107.5,47.3 108.6,44.5 109.6,49.7 110.7,49.6 111.7,47.3 112.8,49.4 113.9,44.2 114.9,45.9 116,40 117,40.3 118.1,37 119.1,48 120.2,42.1 121.2,40.1 122.3,46.6 123.3,42.1 124.4,41.8 125.4,45.3 126.5,41.6" fill="none" stroke="#5cc0a9" stroke-width="4.2" stroke-linejoin="round" stroke-linecap="butt" />
</svg>
<line x1="376.5" y1="233.7" x2="503" y2="233.7" stroke="#000" stroke-width="2.65" stroke-dasharray="9.2 4"/>
<line x1="439.75" y1="299.45" x2="439.75" y2="178.35" stroke="#000" stroke-width="2.65" stroke-dasharray="9.2 4"/>
<rect x="376.5" y="178.35" width="126.5" height="121.1" fill="none" stroke="#000" stroke-width="2.7"/>
<svg x="528.45" y="178.35" width="126.5" height="121.1" overflow="hidden">
<use href="#ga"/>
<polyline points="0,114.4 1.1,113.8 2.1,111.2 3.2,112.4 4.2,110.9 5.3,111.2 6.3,107.8 7.4,111.6 8.4,111.2 9.5,111.8 10.5,111.4 11.6,111.8 12.6,110.3 13.7,108.5 14.8,112.3 15.8,110 16.9,112.7 17.9,112.7 19,112.5 20,112.4 21.1,115.1 22.1,110 23.2,112.8 24.2,109.2 25.3,111.3 26.4,111.4 27.4,112.3 28.5,112.1 29.5,115.4 30.6,109.7 31.6,112.5 32.7,109.2 33.7,112.3 34.8,112.1 35.8,113.5 36.9,110.1 38,106.7 39,107.8 40.1,106.8 41.1,110.1 42.2,112.3 43.2,107.3 44.3,110.6 45.3,107.8 46.4,111.9 47.4,111.2 48.5,107.3 49.5,112.8 50.6,107.6 51.7,112.4 52.7,113.6 53.8,112.2 54.8,113.3 55.9,108.3 56.9,113.3 58,109.8 59,109.2 60.1,111 61.1,107 62.2,113.4 63.2,100.1 64.3,96.9 65.4,84 66.4,76.4 67.5,77.1 68.5,80.2 69.6,74.9 70.6,69.3 71.7,66.9 72.7,63.2 73.8,64.4 74.8,59.9 75.9,68.2 77,68.4 78,62 79.1,59.6 80.1,60.4 81.2,58.4 82.2,63.3 83.3,58.9 84.3,54.8 85.4,58.9 86.4,52.2 87.5,53.1 88.5,66.8 89.6,58.8 90.7,48.4 91.7,58.7 92.8,52.2 93.8,51.3 94.9,47 95.9,55.5 97,53.4 98,53.1 99.1,48.3 100.1,47.3 101.2,50.7 102.3,44.6 103.3,45.5 104.4,54 105.4,51.4 106.5,44.5 107.5,52.5 108.6,39.9 109.6,48.3 110.7,43.6 111.7,46.6 112.8,45.4 113.9,42.4 114.9,41.9 116,42.4 117,36.5 118.1,40.1 119.1,43.5 120.2,37.7 121.2,39.4 122.3,41 123.3,42.8 124.4,33.4 125.4,34.2 126.5,39.4" fill="none" stroke="#5cc0a9" stroke-width="4.2" stroke-linejoin="round" stroke-linecap="butt" />
</svg>
<line x1="528.45" y1="233.7" x2="654.95" y2="233.7" stroke="#000" stroke-width="2.65" stroke-dasharray="9.2 4"/>
<line x1="591.7" y1="299.45" x2="591.7" y2="178.35" stroke="#000" stroke-width="2.65" stroke-dasharray="9.2 4"/>
<rect x="528.45" y="178.35" width="126.5" height="121.1" fill="none" stroke="#000" stroke-width="2.7"/>
<svg x="680.4" y="178.35" width="126.5" height="121.1" overflow="hidden">
<use href="#ga"/>
<polyline points="0,104.4 1.1,109.1 2.1,109.9 3.2,113.9 4.2,110.7 5.3,110.9 6.3,105.1 7.4,111.5 8.4,110.2 9.5,111.1 10.5,113 11.6,108.1 12.6,108.2 13.7,106.1 14.8,110 15.8,109.1 16.9,111.3 17.9,113.5 19,107.9 20,112.5 21.1,112.7 22.1,110.5 23.2,106.8 24.2,109.6 25.3,112.3 26.4,111.7 27.4,108.7 28.5,110.4 29.5,111.8 30.6,110.6 31.6,108.5 32.7,105.7 33.7,112.8 34.8,111.5 35.8,111.9 36.9,114.5 38,112.1 39,112.3 40.1,107.6 41.1,114.5 42.2,104 43.2,108.7 44.3,110.9 45.3,113.9 46.4,111.4 47.4,111.4 48.5,112 49.5,110 50.6,114.5 51.7,110.7 52.7,107.9 53.8,108.2 54.8,107.7 55.9,107.6 56.9,106.8 58,112.6 59,108.2 60.1,114.2 61.1,111.4 62.2,114.3 63.2,95.1 64.3,70.2 65.4,70.2 66.4,71.1 67.5,70.6 68.5,64.3 69.6,67 70.6,49.9 71.7,50.6 72.7,55.7 73.8,56.4 74.8,51.7 75.9,44.7 77,44.5 78,48.7 79.1,44.5 80.1,53 81.2,49.4 82.2,45.8 83.3,45.8 84.3,34.9 85.4,41.3 86.4,44.3 87.5,42.7 88.5,41.2 89.6,47 90.7,41.9 91.7,37.5 92.8,41.2 93.8,39.4 94.9,32.7 95.9,44 97,36.2 98,41.2 99.1,33.4 100.1,35.2 101.2,37.7 102.3,38.3 103.3,35.9 104.4,34.9 105.4,32.4 106.5,34.3 107.5,33.9 108.6,35.1 109.6,25.7 110.7,25 111.7,34.2 112.8,28.1 113.9,34.2 114.9,40 116,36.9 117,29.9 118.1,22.6 119.1,21.9 120.2,27.7 121.2,29.2 122.3,18.4 123.3,18.1 124.4,22.8 125.4,27 126.5,26.4" fill="none" stroke="#5cc0a9" stroke-width="4.2" stroke-linejoin="round" stroke-linecap="butt" />
</svg>
<line x1="680.4" y1="233.7" x2="806.9" y2="233.7" stroke="#000" stroke-width="2.65" stroke-dasharray="9.2 4"/>
<line x1="743.65" y1="299.45" x2="743.65" y2="178.35" stroke="#000" stroke-width="2.65" stroke-dasharray="9.2 4"/>
<rect x="680.4" y="178.35" width="126.5" height="121.1" fill="none" stroke="#000" stroke-width="2.7"/>
<svg x="832.35" y="178.35" width="126.5" height="121.1" overflow="hidden">
<use href="#ga"/>
<polyline points="0,109.8 1.1,108.7 2.1,108.9 3.2,109.7 4.2,109.6 5.3,112.4 6.3,105.3 7.4,109.3 8.4,109.3 9.5,107.7 10.5,108.5 11.6,109.6 12.6,110.6 13.7,108.2 14.8,107.2 15.8,107.8 16.9,115.7 17.9,110.9 19,111.9 20,107.7 21.1,110.6 22.1,107.6 23.2,108.7 24.2,115 25.3,111.4 26.4,105 27.4,110.7 28.5,110.5 29.5,110.7 30.6,107 31.6,112.2 32.7,109 33.7,114.3 34.8,111.6 35.8,112.5 36.9,110.7 38,110.8 39,110.5 40.1,108.3 41.1,111.3 42.2,107.9 43.2,106.1 44.3,111.9 45.3,108.6 46.4,109.2 47.4,110.5 48.5,106.4 49.5,111.9 50.6,112.3 51.7,104.5 52.7,107.2 53.8,109.7 54.8,114.8 55.9,107 56.9,110.5 58,110.8 59,110.8 60.1,109.4 61.1,109.6 62.2,113.6 63.2,99.1 64.3,96.7 65.4,91.1 66.4,83.6 67.5,79.6 68.5,80.2 69.6,72.9 70.6,79.4 71.7,69.9 72.7,70.1 73.8,67.2 74.8,63.4 75.9,65.9 77,59.7 78,66.1 79.1,66.2 80.1,60.2 81.2,60.6 82.2,65.6 83.3,63.5 84.3,60.1 85.4,67.9 86.4,53.1 87.5,56.4 88.5,57.2 89.6,52.8 90.7,51.7 91.7,60.3 92.8,57.9 93.8,50.8 94.9,55.8 95.9,58.3 97,55.2 98,50.3 99.1,54.7 100.1,56.9 101.2,49.4 102.3,48 103.3,49.4 104.4,50.4 105.4,44.1 106.5,49.8 107.5,44.9 108.6,42.3 109.6,41.3 110.7,44.7 111.7,47.1 112.8,49.4 113.9,51.2 114.9,44.7 116,47.3 117,51.2 118.1,46.3 119.1,46.6 120.2,44.6 121.2,48.6 122.3,43.7 123.3,42 124.4,45.2 125.4,38.8 126.5,45.8" fill="none" stroke="#5cc0a9" stroke-width="4.2" stroke-linejoin="round" stroke-linecap="butt" />
</svg>
<line x1="832.35" y1="233.7" x2="958.85" y2="233.7" stroke="#000" stroke-width="2.65" stroke-dasharray="9.2 4"/>
<line x1="895.6" y1="299.45" x2="895.6" y2="178.35" stroke="#000" stroke-width="2.65" stroke-dasharray="9.2 4"/>
<rect x="832.35" y="178.35" width="126.5" height="121.1" fill="none" stroke="#000" stroke-width="2.7"/>
<svg x="984.3" y="178.35" width="126.5" height="121.1" overflow="hidden">
<use href="#ga"/>
<polyline points="0,111.1 1.1,108.4 2.1,109.7 3.2,112.8 4.2,112.3 5.3,110.7 6.3,111.3 7.4,112.3 8.4,110.8 9.5,113.4 10.5,112.2 11.6,108.3 12.6,111.7 13.7,111.3 14.8,109.9 15.8,115.5 16.9,107.3 17.9,110.2 19,106.7 20,108.2 21.1,110.1 22.1,110.3 23.2,112.5 24.2,109.3 25.3,113.4 26.4,110.6 27.4,112.3 28.5,110.9 29.5,112.4 30.6,109.2 31.6,111.3 32.7,112.2 33.7,108.8 34.8,112.8 35.8,111.1 36.9,112.9 38,107.5 39,112.5 40.1,114 41.1,108.4 42.2,113.8 43.2,112.8 44.3,106.2 45.3,109.8 46.4,111.9 47.4,111.7 48.5,113.3 49.5,111 50.6,109.4 51.7,112.8 52.7,113.3 53.8,110.9 54.8,110.6 55.9,113 56.9,114.6 58,109.3 59,110.4 60.1,110.7 61.1,107.1 62.2,110.8 63.2,100.1 64.3,98 65.4,91 66.4,82.8 67.5,75.2 68.5,85.1 69.6,80.6 70.6,77.9 71.7,75.1 72.7,69.4 73.8,67.9 74.8,70.1 75.9,64.2 77,65.7 78,68.1 79.1,57.3 80.1,55.9 81.2,66.8 82.2,68.2 83.3,58.6 84.3,59.6 85.4,60.7 86.4,68.2 87.5,56.3 88.5,49.9 89.6,53.9 90.7,60.9 91.7,57.6 92.8,52.9 93.8,56.2 94.9,53.6 95.9,62 97,47.7 98,51.4 99.1,54.4 100.1,55.8 101.2,51 102.3,51.6 103.3,56.9 104.4,52.1 105.4,53.7 106.5,49 107.5,44.4 108.6,50.9 109.6,45.5 110.7,48.4 111.7,48 112.8,41.3 113.8,43.6 114.9,48.9 116,46.6 117,49.8 118.1,53.1 119.1,42.3 120.2,36.6 121.2,46.1 122.3,33.2 123.3,32.2 124.4,36.4 125.4,40 126.5,35.9" fill="none" stroke="#5cc0a9" stroke-width="4.2" stroke-linejoin="round" stroke-linecap="butt" />
</svg>
<line x1="984.3" y1="233.7" x2="1110.8" y2="233.7" stroke="#000" stroke-width="2.65" stroke-dasharray="9.2 4"/>
<line x1="1047.55" y1="299.45" x2="1047.55" y2="178.35" stroke="#000" stroke-width="2.65" stroke-dasharray="9.2 4"/>
<rect x="984.3" y="178.35" width="126.5" height="121.1" fill="none" stroke="#000" stroke-width="2.7"/>
<svg x="1136.25" y="178.35" width="126.5" height="121.1" overflow="hidden">
<use href="#ga"/>
<polyline points="0,110.8 1.1,106.6 2.1,112 3.2,106 4.2,109.7 5.3,111.2 6.3,114 7.4,110.2 8.4,111.5 9.5,111.3 10.5,108.2 11.6,109.1 12.7,110.2 13.7,111.4 14.8,112.8 15.8,110.9 16.9,111.9 17.9,112 19,104 20,110 21.1,114.5 22.1,110.7 23.2,107.6 24.2,109.3 25.3,112.1 26.4,110.6 27.4,113.6 28.5,110.8 29.5,110.5 30.6,113 31.6,111.8 32.7,112.7 33.7,113.1 34.8,113.1 35.8,111.5 36.9,108.2 38,109.4 39,109.6 40.1,111.2 41.1,112.7 42.2,109.4 43.2,112.1 44.3,108.5 45.3,113.5 46.4,108.9 47.4,112.4 48.5,108 49.5,109.1 50.6,112.9 51.7,112 52.7,113.6 53.8,106.4 54.8,112.8 55.9,113 56.9,110.2 58,108.6 59,112.6 60.1,111.6 61.1,109.6 62.2,114.6 63.2,100.1 64.3,96.1 65.4,90.7 66.4,81.2 67.5,78.8 68.5,77.5 69.6,70.9 70.6,74.5 71.7,62.3 72.7,69.4 73.8,70.7 74.8,66.9 75.9,61.2 77,58.7 78,59.4 79.1,64.5 80.1,58.7 81.2,60.4 82.2,59.1 83.3,63 84.3,57.9 85.4,55.9 86.4,60.9 87.5,56.7 88.5,55.4 89.6,51.9 90.7,57.9 91.7,49.3 92.8,56.3 93.8,52.9 94.9,52.4 95.9,44.6 97,43.7 98,48.2 99.1,50.8 100.1,41.8 101.2,44.2 102.3,43 103.3,50.8 104.4,38.8 105.4,48.6 106.5,45 107.5,43.3 108.6,46.3 109.6,37.3 110.7,41.2 111.7,30.4 112.8,31.7 113.8,41.7 114.9,40.6 116,39.9 117,42.6 118.1,32.6 119.1,42.9 120.2,34.6 121.2,40.7 122.3,32.8 123.3,32.2 124.4,32.7 125.4,30.1 126.5,23.7" fill="none" stroke="#5cc0a9" stroke-width="4.2" stroke-linejoin="round" stroke-linecap="butt" />
</svg>
<line x1="1136.25" y1="233.7" x2="1262.75" y2="233.7" stroke="#000" stroke-width="2.65" stroke-dasharray="9.2 4"/>
<line x1="1199.5" y1="299.45" x2="1199.5" y2="178.35" stroke="#000" stroke-width="2.65" stroke-dasharray="9.2 4"/>
<rect x="1136.25" y="178.35" width="126.5" height="121.1" fill="none" stroke="#000" stroke-width="2.7"/>
<svg x="1288.2" y="178.35" width="126.5" height="121.1" overflow="hidden">
<use href="#ga"/>
<polyline points="0,110.6 1.1,110.7 2.1,111.4 3.2,111.1 4.2,110.8 5.3,107.5 6.3,106.5 7.4,109.3 8.4,110.1 9.5,108.7 10.5,106.3 11.6,113 12.7,109.2 13.7,110.5 14.8,107 15.8,114.4 16.9,111.8 17.9,111.7 19,109.9 20,111.2 21.1,109 22.1,108.8 23.2,107.5 24.2,108.3 25.3,116.9 26.4,107.5 27.4,107.7 28.5,109 29.5,112.8 30.6,114.2 31.6,109 32.7,109.2 33.7,110.6 34.8,109.9 35.8,106.3 36.9,107.8 38,115.5 39,110.3 40.1,112.2 41.1,115.5 42.2,107.8 43.2,109.6 44.3,108.5 45.3,110 46.4,113.1 47.4,109 48.5,109.4 49.5,109.5 50.6,112.2 51.7,112.1 52.7,108.2 53.8,108 54.8,108.5 55.9,108.7 56.9,110.1 58,107 59,108.6 60.1,107.7 61.1,110.2 62.2,111.6 63.2,99.1 64.3,94.1 65.4,78.6 66.4,71.2 67.5,70.2 68.5,62.3 69.6,65.5 70.6,67.1 71.7,61.1 72.7,60.6 73.8,52.8 74.8,58.7 75.9,54.2 77,52.5 78,52.4 79.1,60.8 80.1,50.8 81.2,50.8 82.2,42.4 83.3,52.1 84.3,45.2 85.4,41.9 86.4,50 87.5,44.4 88.5,45.2 89.6,46.7 90.7,43.9 91.7,41.9 92.8,40 93.8,39.1 94.9,51.2 95.9,42.6 97,38.5 98,39.4 99.1,48.6 100.1,39.4 101.2,42.1 102.3,36.5 103.3,46.2 104.4,39.9 105.4,44.5 106.5,41.7 107.5,41.8 108.6,36.7 109.6,39.5 110.7,45.3 111.7,34.3 112.8,37.9 113.8,40.8 114.9,42 116,39.9 117,37.1 118.1,36.2 119.1,40.2 120.2,32.6 121.2,40.6 122.3,33.6 123.3,35.7 124.4,35.6 125.4,34.8 126.5,34.9" fill="none" stroke="#5cc0a9" stroke-width="4.2" stroke-linejoin="round" stroke-linecap="butt" />
</svg>
<line x1="1288.2" y1="233.7" x2="1414.7" y2="233.7" stroke="#000" stroke-width="2.65" stroke-dasharray="9.2 4"/>
<line x1="1351.45" y1="299.45" x2="1351.45" y2="178.35" stroke="#000" stroke-width="2.65" stroke-dasharray="9.2 4"/>
<rect x="1288.2" y="178.35" width="126.5" height="121.1" fill="none" stroke="#000" stroke-width="2.7"/>
<svg x="1440.15" y="178.35" width="126.5" height="121.1" overflow="hidden">
<use href="#ga"/>
<polyline points="0,111.6 1.1,110.5 2.1,114.2 3.2,110.1 4.2,112.8 5.3,115.6 6.3,113.3 7.4,110.3 8.4,110.9 9.5,114.5 10.5,110.2 11.6,112 12.7,110.7 13.7,110.9 14.8,112.3 15.8,110.9 16.9,113.2 17.9,108 19,110 20,111.6 21.1,114.1 22.1,111.6 23.2,111.4 24.2,114.7 25.3,106.4 26.4,110.8 27.4,107.6 28.5,114.4 29.5,107.8 30.6,115 31.6,113.3 32.7,110.4 33.7,116.1 34.8,116.6 35.8,114.4 36.9,109.7 38,106.7 39,109.5 40.1,112.4 41.1,109.8 42.2,114.5 43.2,110.5 44.3,115 45.3,111.8 46.4,111.4 47.4,109.8 48.5,112.5 49.5,108.8 50.6,110.6 51.7,109.7 52.7,109.8 53.8,116.2 54.8,111.7 55.9,111.7 56.9,113.6 58,111.3 59,116.1 60.1,110.4 61.1,110.5 62.2,109.2 63.2,103.5 64.3,83.6 65.4,83.1 66.4,80.8 67.5,83.1 68.5,73 69.6,69.7 70.6,71.6 71.7,68.6 72.7,65.4 73.8,60.1 74.8,62 75.9,55.7 77,56.4 78,58.1 79.1,47.1 80.1,54.6 81.2,55.3 82.2,59.7 83.3,60.8 84.3,49.5 85.4,46.3 86.4,50.2 87.5,49.3 88.5,47.3 89.6,46.5 90.7,37.7 91.7,50.5 92.8,41.1 93.8,50.6 94.9,43.4 95.9,38.3 97,42.2 98,34.9 99.1,38.2 100.1,33.8 101.2,38.2 102.3,41.2 103.3,39.6 104.4,43 105.4,39.7 106.5,40.2 107.5,42.8 108.6,36.6 109.6,33.5 110.7,44.1 111.7,36.2 112.8,35.3 113.8,35.2 114.9,30.8 116,31.2 117,27 118.1,30.6 119.1,28.5 120.2,32.9 121.2,26.9 122.3,27.5 123.3,17.9 124.4,29.4 125.4,19.5 126.5,17.8" fill="none" stroke="#5cc0a9" stroke-width="4.2" stroke-linejoin="round" stroke-linecap="butt" />
</svg>
<line x1="1440.15" y1="233.7" x2="1566.65" y2="233.7" stroke="#000" stroke-width="2.65" stroke-dasharray="9.2 4"/>
<line x1="1503.4" y1="299.45" x2="1503.4" y2="178.35" stroke="#000" stroke-width="2.65" stroke-dasharray="9.2 4"/>
<rect x="1440.15" y="178.35" width="126.5" height="121.1" fill="none" stroke="#000" stroke-width="2.7"/>
<svg x="1592.1" y="178.35" width="126.5" height="121.1" overflow="hidden">
<use href="#ga"/>
<polyline points="0,112.5 1.1,107.9 2.1,109.5 3.2,113.4 4.2,111.4 5.3,106.5 6.3,115.4 7.4,111 8.4,107.3 9.5,112 10.5,111.6 11.6,110.3 12.7,106.8 13.7,111.5 14.8,111.1 15.8,111 16.9,105.2 17.9,105.3 19,107.9 20,109.2 21.1,108.5 22.1,106.8 23.2,112.2 24.2,107.5 25.3,112.9 26.4,111.5 27.4,108.1 28.5,113.2 29.5,110.4 30.6,112 31.6,110.7 32.7,116.3 33.7,114 34.8,111.6 35.8,108 36.9,110.5 38,110.1 39,108.6 40.1,112 41.1,109.5 42.2,111.9 43.2,113.9 44.3,111 45.3,108.8 46.4,109.3 47.4,110.1 48.5,104.8 49.5,109.2 50.6,107.9 51.7,105.2 52.7,112.9 53.8,112.4 54.8,106.3 55.9,111.8 56.9,110 58,107.7 59,108.1 60.1,106.2 61.1,106.8 62.2,107.7 63.2,99.1 64.3,95.6 65.4,88.5 66.4,87.5 67.5,76.5 68.5,75.5 69.6,75.8 70.6,75.2 71.7,77.8 72.7,70.8 73.8,68.6 74.8,72.8 75.9,63.7 77,72 78,75.3 79.1,61.6 80.1,66.7 81.2,64.9 82.2,67 83.3,69.5 84.3,57.2 85.4,64.4 86.4,54.2 87.5,57.1 88.5,61 89.6,63.6 90.7,61.6 91.7,63 92.8,49 93.8,56.2 94.9,51.7 95.9,61 97,54.5 98,50 99.1,55.6 100.1,49.5 101.2,57.6 102.3,58.2 103.3,50.6 104.4,53.2 105.4,48.5 106.5,58.7 107.5,47.2 108.6,39 109.6,49.2 110.7,48.4 111.7,47.3 112.8,55.2 113.8,45.3 114.9,53.1 116,47.8 117,40.5 118.1,48.1 119.1,42.5 120.2,39.9 121.2,42.4 122.3,48.6 123.3,43.9 124.4,34.1 125.4,49.8 126.5,42.2" fill="none" stroke="#5cc0a9" stroke-width="4.2" stroke-linejoin="round" stroke-linecap="butt" />
</svg>
<line x1="1592.1" y1="233.7" x2="1718.6" y2="233.7" stroke="#000" stroke-width="2.65" stroke-dasharray="9.2 4"/>
<line x1="1655.35" y1="299.45" x2="1655.35" y2="178.35" stroke="#000" stroke-width="2.65" stroke-dasharray="9.2 4"/>
<rect x="1592.1" y="178.35" width="126.5" height="121.1" fill="none" stroke="#000" stroke-width="2.7"/>
<text x="942" y="349.05" text-anchor="middle" font-size="29" font-weight="normal">Time (s)</text>
<text x="37.2" y="166.03" text-anchor="middle" font-size="29" font-weight="normal" transform="rotate(-90 37.2 166.03)">F340/F380</text>
<svg x="72.6" y="949.2" width="126.5" height="121.1" overflow="hidden">
<use href="#gc"/>
<polyline points="0,113.8 1.1,111.8 2.1,109.1 3.2,114.9 4.2,116.9 5.3,111.5 6.3,109.4 7.4,116 8.4,110.1 9.5,114 10.5,108.9 11.6,112.1 12.7,113.8 13.7,110.9 14.8,113 15.8,112.9 16.9,113 17.9,113.5 19,112 20,111.7 21.1,112.5 22.1,109.8 23.2,115.7 24.2,114 25.3,111.6 26.4,114.9 27.4,110.3 28.5,111.9 29.5,113.5 30.6,112.2 31.6,114.3 32.7,115.9 33.7,111.6 34.8,110.3 35.8,113 36.9,113.2 37.9,116.9 39,114.7 40.1,114 41.1,112.7 42.2,110.6 43.2,114.2 44.3,114.6 45.3,111.4 46.4,113.4 47.4,115.7 48.5,110.9 49.5,114.8 50.6,114.2 51.7,115.1 52.7,112.5 53.8,111.2 54.8,113.9 55.9,112.4 56.9,114.1 58,108.9 59,110.4 60.1,114.3 61.1,112.2 62.2,111.4 63.2,100 64.3,79.6 65.4,74.3 66.4,74.2 67.5,68.6 68.5,65.2 69.6,63 70.6,67.3 71.7,64.1 72.7,57.2 73.8,57.6 74.8,53.2 75.9,42.6 77,49.5 78,57.6 79.1,46.9 80.1,37.1 81.2,48.4 82.2,39.9 83.3,49.8 84.3,40.6 85.4,47.6 86.4,42.9 87.5,49.6 88.5,37.2 89.6,41.2 90.7,44.5 91.7,41.7 92.8,36.1 93.8,38.8 94.9,45.8 95.9,48.3 97,39.4 98,35.4 99.1,35.2 100.1,29.4 101.2,39.4 102.3,36.8 103.3,41.5 104.4,32.8 105.4,28.7 106.5,37.5 107.5,34.1 108.6,35.9 109.6,36.3 110.7,38.1 111.7,40.2 112.8,34.7 113.8,30 114.9,38.5 116,32.2 117,29.1 118.1,27.7 119.1,18.6 120.2,30.5 121.2,29.3 122.3,35.2 123.3,26.5 124.4,26 125.4,29.5 126.5,22.1" fill="none" stroke="#3f85c4" stroke-width="4.2" stroke-linejoin="round" stroke-linecap="butt" />
</svg>
<line x1="72.6" y1="1014.41" x2="199.1" y2="1014.41" stroke="#000" stroke-width="2.65" stroke-dasharray="9.2 4"/>
<line x1="135.85" y1="1070.3" x2="135.85" y2="949.2" stroke="#000" stroke-width="2.65" stroke-dasharray="9.2 4"/>
<rect x="72.6" y="949.2" width="126.5" height="121.1" fill="none" stroke="#000" stroke-width="2.7"/>
<svg x="224.55" y="949.2" width="126.5" height="121.1" overflow="hidden">
<use href="#gc"/>
<polyline points="0,114.5 1.1,113.2 2.1,114.9 3.2,112.6 4.2,112.6 5.3,113.9 6.3,118.1 7.4,112.8 8.4,113.9 9.5,108.2 10.5,114.8 11.6,113.9 12.7,113 13.7,111 14.8,111 15.8,112.9 16.9,114.1 17.9,114.7 19,113.5 20,112.4 21.1,117.6 22.1,113.9 23.2,113.8 24.2,111.5 25.3,113.9 26.4,113.4 27.4,112.7 28.5,113.6 29.5,114.1 30.6,108 31.6,113.1 32.7,115 33.7,111.4 34.8,115.6 35.8,114.6 36.9,114 38,115.6 39,113.3 40.1,114.1 41.1,113.7 42.2,113.2 43.2,111.7 44.3,114.8 45.3,112 46.4,114.4 47.4,114.6 48.5,114 49.5,115.2 50.6,114.8 51.7,112.6 52.7,112.5 53.8,112.3 54.8,112.6 55.9,110.8 56.9,113.1 58,114.2 59,115.6 60.1,115.4 61.1,111 62.2,112.5 63.2,103.9 64.3,97.3 65.4,84.7 66.4,75.6 67.5,70.1 68.5,69.7 69.6,66.9 70.6,61.8 71.7,67 72.7,60.1 73.8,60.6 74.8,59.5 75.9,53.7 77,60 78,55 79.1,58.7 80.1,59.4 81.2,57.9 82.2,52.6 83.3,49.8 84.3,52.2 85.4,50.5 86.4,48.1 87.5,48.4 88.5,52.7 89.6,54.6 90.7,51.3 91.7,46.8 92.8,49.5 93.8,50.4 94.9,47.2 95.9,49.6 97,45.5 98,49.2 99.1,49.1 100.1,44.8 101.2,51.1 102.3,47.7 103.3,45.2 104.4,44.7 105.4,47.7 106.5,46.4 107.5,43.3 108.6,46.3 109.6,43.1 110.7,41.9 111.7,41.9 112.8,43.1 113.8,44.8 114.9,43.7 116,43.8 117,47.6 118.1,43 119.1,41.4 120.2,34.3 121.2,40.9 122.3,40.1 123.3,39.7 124.4,41.2 125.4,39.5 126.5,40.6" fill="none" stroke="#3f85c4" stroke-width="4.2" stroke-linejoin="round" stroke-linecap="butt" />
</svg>
<line x1="224.55" y1="1014.41" x2="351.05" y2="1014.41" stroke="#000" stroke-width="2.65" stroke-dasharray="9.2 4"/>
<line x1="287.8" y1="1070.3" x2="287.8" y2="949.2" stroke="#000" stroke-width="2.65" stroke-dasharray="9.2 4"/>
<rect x="224.55" y="949.2" width="126.5" height="121.1" fill="none" stroke="#000" stroke-width="2.7"/>
<svg x="376.5" y="949.2" width="126.5" height="121.1" overflow="hidden">
<use href="#gc"/>
<polyline points="0,110 1.1,114.1 2.1,111.9 3.2,112.4 4.2,114.7 5.3,113.2 6.3,113.2 7.4,116.5 8.4,111.3 9.5,112.1 10.5,114.3 11.6,113.5 12.6,112.2 13.7,113.7 14.8,113.6 15.8,115.9 16.9,110.5 17.9,113 19,112.6 20,116 21.1,110.1 22.1,112.9 23.2,113.9 24.2,109.4 25.3,113.3 26.4,115.9 27.4,113.9 28.5,116.9 29.5,111.2 30.6,114 31.6,114.6 32.7,111.2 33.7,116.3 34.8,112.2 35.8,116.9 36.9,114.4 37.9,115.4 39,110.5 40.1,109.9 41.1,113.8 42.2,111.6 43.2,113.5 44.3,112.1 45.3,114.6 46.4,116.4 47.4,116.5 48.5,112.5 49.5,109 50.6,112.7 51.7,114.2 52.7,109.6 53.8,112.7 54.8,108.8 55.9,112.7 56.9,113.4 58,113.8 59,115.9 60.1,112.2 61.1,113.4 62.2,111 63.2,103.3 64.3,93.3 65.4,82.3 66.4,85 67.5,79.2 68.5,80.4 69.6,83.6 70.6,75.7 71.7,78.2 72.7,70.9 73.8,67.1 74.8,69.8 75.9,70.1 77,63.2 78,65.5 79.1,64.3 80.1,59.8 81.2,57.4 82.2,57.7 83.3,52.2 84.3,55.5 85.4,57.9 86.4,54.3 87.5,55.6 88.6,52 89.6,49.5 90.7,55 91.7,49 92.8,45.7 93.8,52.6 94.9,49 95.9,42.1 97,49 98,53.6 99.1,50.2 100.1,44 101.2,44 102.3,44 103.3,53.3 104.4,55.3 105.4,41 106.5,45.2 107.5,50.3 108.6,49.9 109.6,42.4 110.7,33.2 111.7,49.9 112.8,44.4 113.9,37.6 114.9,38.6 116,41.2 117,40.6 118.1,50.3 119.1,47.9 120.2,44.4 121.2,34 122.3,39.1 123.3,38.8 124.4,36.2 125.4,44.4 126.5,36.8" fill="none" stroke="#3f85c4" stroke-width="4.2" stroke-linejoin="round" stroke-linecap="butt" />
</svg>
<line x1="376.5" y1="1014.41" x2="503" y2="1014.41" stroke="#000" stroke-width="2.65" stroke-dasharray="9.2 4"/>
<line x1="439.75" y1="1070.3" x2="439.75" y2="949.2" stroke="#000" stroke-width="2.65" stroke-dasharray="9.2 4"/>
<rect x="376.5" y="949.2" width="126.5" height="121.1" fill="none" stroke="#000" stroke-width="2.7"/>
<svg x="528.45" y="949.2" width="126.5" height="121.1" overflow="hidden">
<use href="#gc"/>
<polyline points="0,114.2 1.1,113.1 2.1,112.1 3.2,114.4 4.2,114.8 5.3,113 6.3,110 7.4,114.1 8.4,113.8 9.5,109.4 10.5,114.3 11.6,112.8 12.6,111.5 13.7,113.3 14.8,112.7 15.8,114.6 16.9,112.5 17.9,113.6 19,115.2 20,112 21.1,116.2 22.1,113.4 23.2,114.3 24.2,111.1 25.3,113 26.4,112.2 27.4,110.2 28.5,115.5 29.5,113.6 30.6,112.6 31.6,115.9 32.7,109.7 33.7,114.1 34.8,114 35.8,114.2 36.9,113.2 38,111.2 39,113.7 40.1,115.8 41.1,114.2 42.2,112.3 43.2,114.7 44.3,115.6 45.3,113 46.4,109.9 47.4,114.2 48.5,109.7 49.5,113 50.6,115 51.7,115.7 52.7,111.1 53.8,114.9 54.8,114.1 55.9,114.3 56.9,113.8 58,113.9 59,116.5 60.1,113.1 61.1,114.6 62.2,115.5 63.2,103.9 64.3,96.2 65.4,87.3 66.4,81.2 67.5,75.5 68.5,71.7 69.6,70.1 70.6,63.6 71.7,65.9 72.7,59.3 73.8,64.3 74.8,65.4 75.9,57.3 77,62.8 78,58.1 79.1,57.6 80.1,61.3 81.2,55.1 82.2,58.5 83.3,58.1 84.3,57.4 85.4,57.4 86.4,55.9 87.5,53.8 88.5,53.3 89.6,57.6 90.7,56.7 91.7,51.1 92.8,49.1 93.8,49.9 94.9,51.6 95.9,50.4 97,54.4 98,47.6 99.1,49.3 100.1,47.7 101.2,51.4 102.3,45 103.3,48.9 104.4,49.5 105.4,46.4 106.5,48.5 107.5,47.3 108.6,45.6 109.6,44.6 110.7,48.3 111.7,46.1 112.8,44.3 113.9,46 114.9,45.7 116,42.2 117,45.5 118.1,41.9 119.1,42.3 120.2,43.1 121.2,41.2 122.3,41.2 123.3,43.3 124.4,44.6 125.4,42.6 126.5,43.4" fill="none" stroke="#3f85c4" stroke-width="4.2" stroke-linejoin="round" stroke-linecap="butt" />
</svg>
<line x1="528.45" y1="1014.41" x2="654.95" y2="1014.41" stroke="#000" stroke-width="2.65" stroke-dasharray="9.2 4"/>
<line x1="591.7" y1="1070.3" x2="591.7" y2="949.2" stroke="#000" stroke-width="2.65" stroke-dasharray="9.2 4"/>
<rect x="528.45" y="949.2" width="126.5" height="121.1" fill="none" stroke="#000" stroke-width="2.7"/>
<svg x="680.4" y="949.2" width="126.5" height="121.1" overflow="hidden">
<use href="#gc"/>
<polyline points="0,113.9 1.1,112 2.1,111.9 3.2,115.5 4.2,112.3 5.3,110.7 6.3,114.7 7.4,113.8 8.4,114.4 9.5,113.8 10.5,115.9 11.6,112.1 12.6,112.9 13.7,116.7 14.8,112.5 15.8,112.9 16.9,112.6 17.9,114.3 19,113.1 20,112.6 21.1,110.4 22.1,112.1 23.2,113.5 24.2,112.9 25.3,112.9 26.4,111.6 27.4,114.9 28.5,111.2 29.5,112.5 30.6,114.8 31.6,112.7 32.7,113.3 33.7,116 34.8,114.3 35.8,112.2 36.9,114 38,115 39,112 40.1,111.7 41.1,112.2 42.2,111.6 43.2,111.6 44.3,114.5 45.3,114.6 46.4,115.6 47.4,112.3 48.5,113.8 49.5,115.8 50.6,110.3 51.7,112.4 52.7,109.5 53.8,112.8 54.8,113 55.9,113.3 56.9,114.1 58,112.2 59,112.9 60.1,110.4 61.1,112.8 62.2,114.3 63.2,103.9 64.3,99.6 65.4,89.5 66.4,82.4 67.5,78.6 68.5,75.3 69.6,74.2 70.6,70.4 71.7,69.4 72.7,68.2 73.8,61.2 74.8,65.8 75.9,70.9 77,64.2 78,65.6 79.1,58 80.1,65.8 81.2,63.2 82.2,63.5 83.3,63 84.3,63 85.4,64.8 86.4,60.8 87.5,61.1 88.5,57.5 89.6,60 90.7,58.9 91.7,56.7 92.8,56.4 93.8,60.4 94.9,59.5 95.9,56 97,60.2 98,61.5 99.1,60.1 100.1,52.8 101.2,57 102.3,56 103.3,59.2 104.4,52.3 105.4,50.4 106.5,59 107.5,51.8 108.6,56.7 109.6,52.5 110.7,52.4 111.7,51.7 112.8,55.2 113.9,49.3 114.9,48.6 116,52.8 117,53.7 118.1,49.9 119.1,48.6 120.2,51.3 121.2,52.4 122.3,50.2 123.3,48.8 124.4,49.2 125.4,49.5 126.5,47.9" fill="none" stroke="#3f85c4" stroke-width="4.2" stroke-linejoin="round" stroke-linecap="butt" />
</svg>
<line x1="680.4" y1="1014.41" x2="806.9" y2="1014.41" stroke="#000" stroke-width="2.65" stroke-dasharray="9.2 4"/>
<line x1="743.65" y1="1070.3" x2="743.65" y2="949.2" stroke="#000" stroke-width="2.65" stroke-dasharray="9.2 4"/>
<rect x="680.4" y="949.2" width="126.5" height="121.1" fill="none" stroke="#000" stroke-width="2.7"/>
<svg x="832.35" y="949.2" width="126.5" height="121.1" overflow="hidden">
<use href="#gc"/>
<polyline points="0,116.2 1.1,112.3 2.1,114.6 3.2,112.8 4.2,113.2 5.3,112.3 6.3,113.7 7.4,115.4 8.4,114.4 9.5,114.2 10.5,113.9 11.6,111.6 12.6,113.5 13.7,110.6 14.8,110.4 15.8,115.5 16.9,115.5 17.9,113.6 19,110.5 20,113.3 21.1,113.7 22.1,114.2 23.2,110.9 24.2,114 25.3,113.9 26.4,115.1 27.4,112.9 28.5,112.1 29.5,114.8 30.6,111.9 31.6,114.6 32.7,113.8 33.7,114.2 34.8,114.3 35.8,114.8 36.9,112 38,112.8 39,114.2 40.1,113.8 41.1,116.7 42.2,113.4 43.2,116.1 44.3,113.7 45.3,112.7 46.4,113.8 47.4,113.2 48.5,115.1 49.5,116.5 50.6,114.5 51.7,115.8 52.7,112.3 53.8,113.7 54.8,112.9 55.9,114.2 56.9,113.8 58,111.4 59,113.6 60.1,110.4 61.1,111.2 62.2,113.6 63.2,103.9 64.3,95.3 65.4,80.9 66.4,76 67.5,72.5 68.5,65.9 69.6,63.7 70.6,64.6 71.7,62.7 72.7,60.3 73.8,59.4 74.8,56.1 75.9,62.9 77,53.7 78,52.2 79.1,56 80.1,53.8 81.2,51.7 82.2,51.8 83.3,51.2 84.3,47.2 85.4,45.9 86.4,49.4 87.5,51.3 88.5,47.5 89.6,47.7 90.7,50.2 91.7,49.6 92.8,46.2 93.8,44 94.9,48.7 95.9,52.3 97,48.1 98,49 99.1,44.7 100.1,49 101.2,47.2 102.3,45.6 103.3,44.3 104.4,47.9 105.4,47.6 106.5,45.7 107.5,42.9 108.6,45.6 109.6,46.7 110.7,44.9 111.7,46.5 112.8,42.8 113.9,43 114.9,41.1 116,48.1 117,42.7 118.1,43.5 119.1,42 120.2,43.7 121.2,42.5 122.3,44.3 123.3,40 124.4,39.3 125.4,45.6 126.5,38.6" fill="none" stroke="#3f85c4" stroke-width="4.2" stroke-linejoin="round" stroke-linecap="butt" />
</svg>
<line x1="832.35" y1="1014.41" x2="958.85" y2="1014.41" stroke="#000" stroke-width="2.65" stroke-dasharray="9.2 4"/>
<line x1="895.6" y1="1070.3" x2="895.6" y2="949.2" stroke="#000" stroke-width="2.65" stroke-dasharray="9.2 4"/>
<rect x="832.35" y="949.2" width="126.5" height="121.1" fill="none" stroke="#000" stroke-width="2.7"/>
<svg x="984.3" y="949.2" width="126.5" height="121.1" overflow="hidden">
<use href="#gc"/>
<polyline points="0,113.5 1.1,111.4 2.1,117.6 3.2,116.5 4.2,117.7 5.3,108.9 6.3,110.1 7.4,109.1 8.4,112 9.5,110.3 10.5,116.1 11.6,109.7 12.6,115.9 13.7,115 14.8,114.4 15.8,115.3 16.9,111.9 17.9,114.1 19,113.8 20,114.1 21.1,106 22.1,114.9 23.2,114 24.2,112.8 25.3,117 26.4,113.8 27.4,112.6 28.5,111.3 29.5,113.3 30.6,115 31.6,110.7 32.7,114.1 33.7,113.6 34.8,113.3 35.8,113.8 36.9,114.8 38,112.7 39,116 40.1,114.7 41.1,114.5 42.2,115.6 43.2,113.5 44.3,113.4 45.3,113.5 46.4,114 47.4,112.5 48.5,110.2 49.5,111 50.6,117.7 51.7,111.3 52.7,117.5 53.8,117.3 54.8,113.4 55.9,116.4 56.9,110.5 58,112.2 59,115.3 60.1,117 61.1,113 62.2,111.1 63.2,103.6 64.3,96.1 65.4,94.6 66.4,85.1 67.5,82.4 68.5,77.2 69.6,79.2 70.6,73.4 71.7,70.5 72.7,68.7 73.8,64.6 74.8,68.2 75.9,63.8 77,60.1 78,59.7 79.1,55.2 80.1,55.5 81.2,53 82.2,53.3 83.3,48 84.3,48.2 85.4,49.6 86.4,48.5 87.5,49.6 88.5,47.1 89.6,44.4 90.7,42.4 91.7,38.1 92.8,41.2 93.8,41.7 94.9,39.7 95.9,44.2 97,40.2 98,34.3 99.1,42.4 100.1,31 101.2,29 102.3,31 103.3,38.6 104.4,26.7 105.4,29.1 106.5,28.9 107.5,33.5 108.6,26.9 109.6,20 110.7,29.1 111.7,25.4 112.8,22.5 113.8,16.7 114.9,21.5 116,20 117,20.3 118.1,19.7 119.1,26.7 120.2,20.2 121.2,17.2 122.3,4.9 123.3,18.3 124.4,22.7 125.4,20.3 126.5,21.7" fill="none" stroke="#3f85c4" stroke-width="4.2" stroke-linejoin="round" stroke-linecap="butt" />
</svg>
<line x1="984.3" y1="1014.41" x2="1110.8" y2="1014.41" stroke="#000" stroke-width="2.65" stroke-dasharray="9.2 4"/>
<line x1="1047.55" y1="1070.3" x2="1047.55" y2="949.2" stroke="#000" stroke-width="2.65" stroke-dasharray="9.2 4"/>
<rect x="984.3" y="949.2" width="126.5" height="121.1" fill="none" stroke="#000" stroke-width="2.7"/>
<svg x="1136.25" y="949.2" width="126.5" height="121.1" overflow="hidden">
<use href="#gc"/>
<polyline points="0,112.3 1.1,112.9 2.1,110.2 3.2,115.5 4.2,114.6 5.3,112.5 6.3,114.7 7.4,114.7 8.4,111 9.5,113.7 10.5,114.5 11.6,110.6 12.7,115.8 13.7,113.8 14.8,114.8 15.8,112.8 16.9,112.4 17.9,115.8 19,113.1 20,109.2 21.1,114.6 22.1,113.9 23.2,116.1 24.2,112.7 25.3,115.4 26.4,112.5 27.4,112.8 28.5,111.4 29.5,115 30.6,111.4 31.6,113.9 32.7,112.6 33.7,110.1 34.8,115.6 35.8,115.4 36.9,113.7 38,108.7 39,112.3 40.1,110.9 41.1,112.6 42.2,113.7 43.2,111.9 44.3,111.9 45.3,111.7 46.4,116.2 47.4,109.6 48.5,115.3 49.5,111.8 50.6,111.7 51.7,113.4 52.7,111.2 53.8,116 54.8,114.3 55.9,114.6 56.9,113 58,111 59,109.1 60.1,113.3 61.1,112.1 62.2,115.7 63.2,103.9 64.3,98.3 65.4,85.9 66.4,81.5 67.5,73.5 68.5,75.5 69.6,72.9 70.6,67.6 71.7,74.6 72.7,67.5 73.8,68.4 74.8,66.3 75.9,65.2 77,60.7 78,64.5 79.1,58.2 80.1,61.4 81.2,66.9 82.2,59.1 83.3,59.1 84.3,59.6 85.4,58.9 86.4,59.2 87.5,57.2 88.5,54.5 89.6,56.7 90.7,59.5 91.7,54.8 92.8,57.9 93.8,55.4 94.9,54.4 95.9,58.6 97,55.8 98,54.9 99.1,58.9 100.1,58.8 101.2,53.4 102.3,54.9 103.3,57.7 104.4,51.9 105.4,56.9 106.5,55.6 107.5,51.1 108.6,52.2 109.6,52.7 110.7,57.6 111.7,57.1 112.8,55.9 113.8,52.4 114.9,50 116,51.7 117,51.4 118.1,50.2 119.1,48.8 120.2,50.6 121.2,52.5 122.3,53.3 123.3,51.8 124.4,55.9 125.4,48.3 126.5,51.8" fill="none" stroke="#3f85c4" stroke-width="4.2" stroke-linejoin="round" stroke-linecap="butt" />
</svg>
<line x1="1136.25" y1="1014.41" x2="1262.75" y2="1014.41" stroke="#000" stroke-width="2.65" stroke-dasharray="9.2 4"/>
<line x1="1199.5" y1="1070.3" x2="1199.5" y2="949.2" stroke="#000" stroke-width="2.65" stroke-dasharray="9.2 4"/>
<rect x="1136.25" y="949.2" width="126.5" height="121.1" fill="none" stroke="#000" stroke-width="2.7"/>
<svg x="1288.2" y="949.2" width="126.5" height="121.1" overflow="hidden">
<use href="#gc"/>
<polyline points="0,114.2 1.1,110.8 2.1,112.3 3.2,112.1 4.2,114.2 5.3,111 6.3,113.4 7.4,112.5 8.4,114.7 9.5,113 10.5,113.4 11.6,112.3 12.7,113.9 13.7,116.9 14.8,113.8 15.8,111.5 16.9,114.4 17.9,114.3 19,114.6 20,114.5 21.1,114.7 22.1,115.3 23.2,114.7 24.2,113 25.3,113 26.4,112.3 27.4,115.1 28.5,111.9 29.5,115.9 30.6,113.1 31.6,114.5 32.7,113.6 33.7,109.5 34.8,112.9 35.8,112.6 36.9,114.7 38,113.3 39,113.2 40.1,114.6 41.1,112.7 42.2,112.3 43.2,114.8 44.3,111.7 45.3,114.2 46.4,110.9 47.4,113.7 48.5,112.2 49.5,114.1 50.6,113.5 51.7,114.6 52.7,113.3 53.8,113.5 54.8,113.8 55.9,113.4 56.9,113.1 58,112.5 59,112.3 60.1,112.6 61.1,114.3 62.2,111.6 63.2,103.9 64.3,102.6 65.4,97.4 66.4,92.2 67.5,93 68.5,88 69.6,87.9 70.6,84.3 71.7,91 72.7,78.8 73.8,87.5 74.8,81.6 75.9,80.1 77,77.3 78,80.2 79.1,81 80.1,77.8 81.2,79.3 82.2,79.4 83.3,77.6 84.3,73.4 85.4,77.6 86.4,76.3 87.5,73.9 88.5,73.9 89.6,70.3 90.7,77.8 91.7,71.6 92.8,72.1 93.8,73.5 94.9,68.7 95.9,72.7 97,69.9 98,66.1 99.1,69.9 100.1,66.6 101.2,71.8 102.3,63.6 103.3,68.3 104.4,65.1 105.4,67.5 106.5,69 107.5,67.9 108.6,65.1 109.6,61.5 110.7,63.4 111.7,65.3 112.8,63.1 113.8,63.5 114.9,64.6 116,61.2 117,61.1 118.1,58.4 119.1,63 120.2,58.4 121.2,63.2 122.3,60.7 123.3,58.1 124.4,57.5 125.4,55.8 126.5,54.1" fill="none" stroke="#3f85c4" stroke-width="4.2" stroke-linejoin="round" stroke-linecap="butt" />
</svg>
<line x1="1288.2" y1="1014.41" x2="1414.7" y2="1014.41" stroke="#000" stroke-width="2.65" stroke-dasharray="9.2 4"/>
<line x1="1351.45" y1="1070.3" x2="1351.45" y2="949.2" stroke="#000" stroke-width="2.65" stroke-dasharray="9.2 4"/>
<rect x="1288.2" y="949.2" width="126.5" height="121.1" fill="none" stroke="#000" stroke-width="2.7"/>
<svg x="1440.15" y="949.2" width="126.5" height="121.1" overflow="hidden">
<use href="#gc"/>
<polyline points="0,115.1 1.1,113.6 2.1,110.1 3.2,114 4.2,114.4 5.3,115 6.3,111.4 7.4,112.9 8.4,112.1 9.5,113.5 10.5,111.2 11.6,114.5 12.7,112.4 13.7,112.8 14.8,113.5 15.8,115.1 16.9,117.3 17.9,117.1 19,107.1 20,113.9 21.1,115.2 22.1,113.9 23.2,112.9 24.2,113.3 25.3,111.6 26.4,112.5 27.4,112.5 28.5,115.2 29.5,110.8 30.6,114.9 31.6,112.8 32.7,110.9 33.7,115.8 34.8,112.7 35.8,110.5 36.9,114.7 38,116.4 39,115.1 40.1,112.5 41.1,117.6 42.2,111.5 43.2,112.6 44.3,116.9 45.3,114.1 46.4,112.9 47.4,115 48.5,112.7 49.5,112.7 50.6,114.8 51.7,113.8 52.7,115.7 53.8,111.6 54.8,112.3 55.9,111.2 56.9,115.3 58,113.8 59,115.3 60.1,115.1 61.1,113.1 62.2,114.8 63.2,103.9 64.3,97 65.4,86 66.4,79.7 67.5,77.8 68.5,73.4 69.6,72.3 70.6,68.9 71.7,64.9 72.7,64.2 73.8,67.3 74.8,61.7 75.9,63.2 77,59.1 78,64.7 79.1,61.4 80.1,61.8 81.2,66.6 82.2,61.1 83.3,55.2 84.3,56.7 85.4,61 86.4,57.7 87.5,57.4 88.5,57.7 89.6,60.2 90.7,55.9 91.7,54.8 92.8,55.5 93.8,58.7 94.9,57.3 95.9,54.2 97,57.1 98,53.4 99.1,49.2 100.1,54.7 101.2,53.7 102.3,50.2 103.3,51.6 104.4,52 105.4,50.8 106.5,53.5 107.5,56.9 108.6,51.6 109.6,51.3 110.7,58.1 111.7,52.3 112.8,50.7 113.8,50.4 114.9,51.9 116,51.6 117,48.7 118.1,49.7 119.1,52.2 120.2,48.4 121.2,51.8 122.3,51.4 123.3,52.9 124.4,51.2 125.4,46.7 126.5,46.1" fill="none" stroke="#3f85c4" stroke-width="4.2" stroke-linejoin="round" stroke-linecap="butt" />
</svg>
<line x1="1440.15" y1="1014.41" x2="1566.65" y2="1014.41" stroke="#000" stroke-width="2.65" stroke-dasharray="9.2 4"/>
<line x1="1503.4" y1="1070.3" x2="1503.4" y2="949.2" stroke="#000" stroke-width="2.65" stroke-dasharray="9.2 4"/>
<rect x="1440.15" y="949.2" width="126.5" height="121.1" fill="none" stroke="#000" stroke-width="2.7"/>
<svg x="1592.1" y="949.2" width="126.5" height="121.1" overflow="hidden">
<use href="#gc"/>
<polyline points="0,113.6 1.1,110.7 2.1,111.5 3.2,112.6 4.2,111.7 5.3,112.6 6.3,111.4 7.4,110.9 8.4,114.4 9.5,114.8 10.5,111.4 11.6,114.3 12.7,114 13.7,116.1 14.8,112.5 15.8,112.5 16.9,114.9 17.9,110.7 19,114.2 20,115.5 21.1,113.1 22.1,110.8 23.2,112.1 24.2,111.6 25.3,111.4 26.4,113.4 27.4,112.8 28.5,114.6 29.5,114.2 30.6,112.3 31.6,113 32.7,112.8 33.7,113.8 34.8,114.8 35.8,111.3 36.9,112.5 38,114.9 39,110.9 40.1,114.2 41.1,115.5 42.2,113.3 43.2,115.7 44.3,117.1 45.3,114.1 46.4,112.5 47.4,114.5 48.5,116.2 49.5,114.3 50.6,113.9 51.7,113.5 52.7,112.3 53.8,109.9 54.8,113.4 55.9,110.9 56.9,111.8 58,111.4 59,109.6 60.1,114.3 61.1,112.7 62.2,114.2 63.2,103.9 64.3,98.2 65.4,90.7 66.4,86.3 67.5,81.8 68.5,74.8 69.6,77.2 70.6,74.1 71.7,71.8 72.7,72.4 73.8,63.5 74.8,69.4 75.9,65.1 77,64.8 78,63.9 79.1,65.9 80.1,61.4 81.2,57.6 82.2,58.8 83.3,49.8 84.3,54.2 85.4,59.3 86.4,53.5 87.5,52.3 88.5,50.5 89.6,53.2 90.7,52.5 91.7,48.6 92.8,47.9 93.8,47 94.9,48.8 95.9,46.8 97,48.9 98,48.7 99.1,39.7 100.1,42.1 101.2,38.2 102.3,43.8 103.3,35.4 104.4,41.4 105.4,37 106.5,38.2 107.5,39.9 108.6,33.3 109.6,29.9 110.7,32.2 111.7,36.4 112.8,34.6 113.8,32 114.9,37.4 116,29.6 117,27.9 118.1,29.9 119.1,29 120.2,28 121.2,27.9 122.3,28.6 123.3,30.8 124.4,24.6 125.4,24.4 126.5,19.2" fill="none" stroke="#3f85c4" stroke-width="4.2" stroke-linejoin="round" stroke-linecap="butt" />
</svg>
<line x1="1592.1" y1="1014.41" x2="1718.6" y2="1014.41" stroke="#000" stroke-width="2.65" stroke-dasharray="9.2 4"/>
<line x1="1655.35" y1="1070.3" x2="1655.35" y2="949.2" stroke="#000" stroke-width="2.65" stroke-dasharray="9.2 4"/>
<rect x="1592.1" y="949.2" width="126.5" height="121.1" fill="none" stroke="#000" stroke-width="2.7"/>
<svg x="1744.05" y="949.2" width="126.5" height="121.1" overflow="hidden">
<use href="#gc"/>
<polyline points="0,115.5 1.1,111 2.1,112.5 3.2,113.7 4.2,114.2 5.3,112.4 6.3,112.2 7.4,113.1 8.4,114.9 9.5,113.8 10.5,115.3 11.6,114 12.7,113 13.7,113.9 14.8,114.5 15.8,114.1 16.9,112.2 17.9,113.6 19,109.9 20,110.3 21.1,111.8 22.1,113.1 23.2,113.4 24.2,114 25.3,113 26.4,111.9 27.4,113.1 28.5,113 29.5,112.5 30.6,110.9 31.6,115.2 32.7,116.5 33.7,114.3 34.8,113 35.8,112.9 36.9,113.7 38,111.1 39,115.1 40.1,113.5 41.1,108.8 42.2,111.9 43.2,112.5 44.3,111 45.3,112.9 46.4,116.6 47.4,114.2 48.5,113.2 49.5,112.2 50.6,112.8 51.7,111.1 52.7,113.9 53.8,112.4 54.8,111.7 55.9,112.8 56.9,111.3 58,113.2 59,116.2 60.1,111.9 61.1,115.9 62.2,113 63.2,103.9 64.3,102.8 65.4,96.1 66.4,92 67.5,88.8 68.5,87.7 69.6,87.3 70.6,82.7 71.7,85.8 72.7,84.1 73.8,84.4 74.8,87 75.9,80.3 77,84.3 78,78.1 79.1,75.2 80.1,78 81.2,79.5 82.2,75.8 83.3,80.1 84.3,79.4 85.4,74.6 86.4,79.1 87.5,77.9 88.5,72.7 89.6,76 90.7,76.2 91.7,78.5 92.8,72.4 93.8,73.4 94.9,75.6 95.9,73.7 97,73.2 98,73.7 99.1,69.7 100.1,72.4 101.2,72.4 102.3,69.1 103.3,73.6 104.4,69.9 105.4,72.9 106.5,69.3 107.5,68 108.6,68.6 109.6,66.8 110.7,69.2 111.7,67.9 112.8,69.6 113.8,66.9 114.9,68.8 116,68.4 117,66.5 118.1,64.8 119.1,69 120.2,66.9 121.2,67.1 122.3,63.9 123.3,64.6 124.4,63.1 125.4,65.7 126.5,59.5" fill="none" stroke="#3f85c4" stroke-width="4.2" stroke-linejoin="round" stroke-linecap="butt" />
</svg>
<line x1="1744.05" y1="1014.41" x2="1870.55" y2="1014.41" stroke="#000" stroke-width="2.65" stroke-dasharray="9.2 4"/>
<line x1="1807.3" y1="1070.3" x2="1807.3" y2="949.2" stroke="#000" stroke-width="2.65" stroke-dasharray="9.2 4"/>
<rect x="1744.05" y="949.2" width="126.5" height="121.1" fill="none" stroke="#000" stroke-width="2.7"/>
<svg x="72.6" y="1094.95" width="126.5" height="121.1" overflow="hidden">
<use href="#gc"/>
<polyline points="0,113.5 1.1,113.5 2.1,114.1 3.2,113.9 4.2,114.5 5.3,115.5 6.3,113.8 7.4,117.4 8.4,114.3 9.5,112.5 10.5,113.4 11.6,114.9 12.7,111.5 13.7,114.5 14.8,114.9 15.8,113 16.9,113.8 17.9,113 19,114.9 20,112.3 21.1,116.1 22.1,113 23.2,113 24.2,113.4 25.3,112 26.4,113.6 27.4,111.3 28.5,110.2 29.5,113.4 30.6,111 31.6,113.9 32.7,109.4 33.7,112.7 34.8,113.1 35.8,112.5 36.9,113.4 37.9,112.6 39,116.8 40.1,114.3 41.1,110.7 42.2,116 43.2,114.7 44.3,112.4 45.3,114.8 46.4,110.6 47.4,115 48.5,114 49.5,113.2 50.6,116.8 51.7,113.2 52.7,114.9 53.8,113.2 54.8,112.5 55.9,111.5 56.9,110.8 58,114.7 59,108.2 60.1,111.1 61.1,116.5 62.2,115.8 63.2,103.9 64.3,95.5 65.4,83.8 66.4,75.7 67.5,72.7 68.5,72.4 69.6,62.3 70.6,68.9 71.7,63.2 72.7,62.7 73.8,61.3 74.8,59.3 75.9,58.3 77,60.6 78,61.9 79.1,55.4 80.1,53.8 81.2,54.3 82.2,54.6 83.3,57.4 84.3,54.3 85.4,55.6 86.4,50.6 87.5,53.3 88.5,51.7 89.6,54 90.7,51.4 91.7,49.6 92.8,50.6 93.8,50.6 94.9,52 95.9,52.1 97,52.5 98,50.5 99.1,46.7 100.1,50.5 101.2,45.6 102.3,52.4 103.3,49.7 104.4,49.8 105.4,49.3 106.5,51.5 107.5,52 108.6,48.3 109.6,47.5 110.7,49.1 111.7,44.9 112.8,50.5 113.8,45.2 114.9,44.9 116,46.4 117,49.2 118.1,49.4 119.1,48.1 120.2,42.4 121.2,49 122.3,41.7 123.3,43 124.4,43.5 125.4,45.3 126.5,41.9" fill="none" stroke="#3f85c4" stroke-width="4.2" stroke-linejoin="round" stroke-linecap="butt" />
</svg>
<line x1="72.6" y1="1160.16" x2="199.1" y2="1160.16" stroke="#000" stroke-width="2.65" stroke-dasharray="9.2 4"/>
<line x1="135.85" y1="1216.05" x2="135.85" y2="1094.95" stroke="#000" stroke-width="2.65" stroke-dasharray="9.2 4"/>
<rect x="72.6" y="1094.95" width="126.5" height="121.1" fill="none" stroke="#000" stroke-width="2.7"/>
<svg x="224.55" y="1094.95" width="126.5" height="121.1" overflow="hidden">
<use href="#gc"/>
<polyline points="0,111.1 1.1,111.2 2.1,104.8 3.2,114.4 4.2,113.9 5.3,111.3 6.3,111.7 7.4,111.3 8.4,113.1 9.5,111.1 10.5,112.6 11.6,114.7 12.7,112.9 13.7,111.3 14.8,110.8 15.8,113.4 16.9,116.2 17.9,112.8 19,112.3 20,109.4 21.1,110.6 22.1,115.5 23.2,112.8 24.2,112.8 25.3,110.4 26.4,112.5 27.4,116.5 28.5,112.1 29.5,115.2 30.6,114.2 31.6,114.4 32.7,113.5 33.7,114 34.8,113.7 35.8,111 36.9,111.3 38,115 39,112.5 40.1,110.9 41.1,113.7 42.2,116.6 43.2,112.4 44.3,115.5 45.3,113.2 46.4,109.9 47.4,110.4 48.5,113.6 49.5,116.2 50.6,111.7 51.7,111 52.7,114.1 53.8,110.4 54.8,112.9 55.9,115.5 56.9,112.3 58,115.9 59,111.4 60.1,116 61.1,113.4 62.2,115 63.2,103.9 64.3,94.9 65.4,86.4 66.4,78.6 67.5,74.5 68.5,67.4 69.6,65.3 70.6,68 71.7,65.6 72.7,62.7 73.8,62.4 74.8,62.5 75.9,60.9 77,61.9 78,56.9 79.1,58.4 80.1,57.2 81.2,58.7 82.2,56.9 83.3,58.7 84.3,57 85.4,55.3 86.4,51.9 87.5,54 88.5,55.2 89.6,54.4 90.7,53.6 91.7,49.2 92.8,53.2 93.8,50.8 94.9,51.7 95.9,52.7 97,50.2 98,50.9 99.1,50.6 100.1,53 101.2,49 102.3,45.8 103.3,50 104.4,52.3 105.4,47.5 106.5,48.2 107.5,47.9 108.6,52.8 109.6,45.7 110.7,48.4 111.7,47.4 112.8,44.1 113.8,49 114.9,49.4 116,46.5 117,49.5 118.1,46.2 119.1,45.3 120.2,42.3 121.2,43.8 122.3,42.5 123.3,45.8 124.4,41.1 125.4,39.6 126.5,43.2" fill="none" stroke="#3f85c4" stroke-width="4.2" stroke-linejoin="round" stroke-linecap="butt" />
</svg>
<line x1="224.55" y1="1160.16" x2="351.05" y2="1160.16" stroke="#000" stroke-width="2.65" stroke-dasharray="9.2 4"/>
<line x1="287.8" y1="1216.05" x2="287.8" y2="1094.95" stroke="#000" stroke-width="2.65" stroke-dasharray="9.2 4"/>
<rect x="224.55" y="1094.95" width="126.5" height="121.1" fill="none" stroke="#000" stroke-width="2.7"/>
<svg x="376.5" y="1094.95" width="126.5" height="121.1" overflow="hidden">
<use href="#gc"/>
<polyline points="0,111.6 1.1,111.3 2.1,112.6 3.2,113.4 4.2,115.5 5.3,114 6.3,113.1 7.4,111.7 8.4,114.2 9.5,113.5 10.5,114.5 11.6,114.8 12.6,112.3 13.7,112.9 14.8,113.8 15.8,114 16.9,114 17.9,114.2 19,111.9 20,112.4 21.1,112.7 22.1,114.7 23.2,117.8 24.2,114.7 25.3,109.9 26.4,112 27.4,114.1 28.5,115.8 29.5,113.4 30.6,108.8 31.6,114.1 32.7,114.6 33.7,112.5 34.8,114 35.8,116.7 36.9,114.3 37.9,110.6 39,115.1 40.1,111.4 41.1,112.7 42.2,112.6 43.2,112.8 44.3,113.1 45.3,109.4 46.4,111.7 47.4,112 48.5,116.5 49.5,115.7 50.6,111.5 51.7,115.7 52.7,111.4 53.8,114.8 54.8,112 55.9,112.7 56.9,112.5 58,116 59,110.3 60.1,111.2 61.1,112.5 62.2,114.8 63.2,103.9 64.3,98.6 65.4,85.3 66.4,83.4 67.5,79.6 68.5,73.8 69.6,69.1 70.6,67.2 71.7,72.2 72.7,71.1 73.8,65.1 74.8,64.6 75.9,68.4 77,64.4 78,58.9 79.1,60.2 80.1,62.3 81.2,61.6 82.2,62.1 83.3,56.8 84.3,58.7 85.4,59.6 86.4,56.8 87.5,58.2 88.6,63 89.6,57.2 90.7,56.9 91.7,55 92.8,56.4 93.8,57.8 94.9,50.5 95.9,51.1 97,52 98,53.2 99.1,54.7 100.1,51.2 101.2,48.7 102.3,46.7 103.3,46.2 104.4,48.1 105.4,44.4 106.5,48.3 107.5,48.3 108.6,43.2 109.6,43.4 110.7,44.3 111.7,45.4 112.8,45 113.9,47.9 114.9,45.2 116,46.3 117,43.3 118.1,40 119.1,40.9 120.2,42.9 121.2,41.6 122.3,41.5 123.3,42.3 124.4,41.6 125.4,40.9 126.5,42.7" fill="none" stroke="#3f85c4" stroke-width="4.2" stroke-linejoin="round" stroke-linecap="butt" />
</svg>
<line x1="376.5" y1="1160.16" x2="503" y2="1160.16" stroke="#000" stroke-width="2.65" stroke-dasharray="9.2 4"/>
<line x1="439.75" y1="1216.05" x2="439.75" y2="1094.95" stroke="#000" stroke-width="2.65" stroke-dasharray="9.2 4"/>
<rect x="376.5" y="1094.95" width="126.5" height="121.1" fill="none" stroke="#000" stroke-width="2.7"/>
<svg x="528.45" y="1094.95" width="126.5" height="121.1" overflow="hidden">
<use href="#gc"/>
<polyline points="0,110.1 1.1,113.3 2.1,113.7 3.2,113.7 4.2,115.1 5.3,114.7 6.3,113.7 7.4,113.6 8.4,113.5 9.5,114.6 10.5,115.6 11.6,112.8 12.6,116.3 13.7,110 14.8,113.2 15.8,113.1 16.9,118.5 17.9,112.3 19,110.8 20,113 21.1,114.7 22.1,113.5 23.2,115.3 24.2,112.6 25.3,112 26.4,116.5 27.4,111.9 28.5,112.4 29.5,113 30.6,111.9 31.6,110.1 32.7,114.5 33.7,114.6 34.8,112.2 35.8,111 36.9,113.4 38,113.5 39,114.2 40.1,115.6 41.1,108.7 42.2,111.2 43.2,113.6 44.3,113.3 45.3,112.5 46.4,112.6 47.4,114.1 48.5,116.4 49.5,115.5 50.6,114.5 51.7,111.7 52.7,113.4 53.8,114.5 54.8,112.8 55.9,113.6 56.9,112.9 58,112.8 59,115.8 60.1,113 61.1,114.1 62.2,115.6 63.2,103.9 64.3,98.1 65.4,90 66.4,83.1 67.5,80.5 68.5,77.7 69.6,76.7 70.6,73.5 71.7,70.8 72.7,69.6 73.8,68.9 74.8,66.3 75.9,68.4 77,68.3 78,67.5 79.1,67.2 80.1,66.2 81.2,65.4 82.2,62 83.3,69.6 84.3,61.5 85.4,62.9 86.4,61.6 87.5,62.4 88.5,59.6 89.6,61.2 90.7,58.6 91.7,64.6 92.8,58.8 93.8,61.8 94.9,62.3 95.9,60.1 97,60.1 98,60.1 99.1,55.1 100.1,56.7 101.2,52 102.3,56.4 103.3,59.1 104.4,57.2 105.4,58.6 106.5,54.6 107.5,56.3 108.6,53.3 109.6,55.5 110.7,52.1 111.7,54 112.8,52.7 113.9,52.7 114.9,53 116,53.6 117,50.1 118.1,54.9 119.1,52 120.2,50.3 121.2,49.1 122.3,46.8 123.3,49.4 124.4,49.6 125.4,52.1 126.5,47.1" fill="none" stroke="#3f85c4" stroke-width="4.2" stroke-linejoin="round" stroke-linecap="butt" />
</svg>
<line x1="528.45" y1="1160.16" x2="654.95" y2="1160.16" stroke="#000" stroke-width="2.65" stroke-dasharray="9.2 4"/>
<line x1="591.7" y1="1216.05" x2="591.7" y2="1094.95" stroke="#000" stroke-width="2.65" stroke-dasharray="9.2 4"/>
<rect x="528.45" y="1094.95" width="126.5" height="121.1" fill="none" stroke="#000" stroke-width="2.7"/>
<svg x="680.4" y="1094.95" width="126.5" height="121.1" overflow="hidden">
<use href="#gc"/>
<polyline points="0,114.1 1.1,112.6 2.1,112.8 3.2,114.7 4.2,113.2 5.3,111.3 6.3,114.2 7.4,113.7 8.4,114.5 9.5,110.8 10.5,110 11.6,113.1 12.6,113.7 13.7,112.7 14.8,111.4 15.8,113.1 16.9,114.4 17.9,114.1 19,116.4 20,114.6 21.1,114.4 22.1,112.4 23.2,109 24.2,111.9 25.3,113.6 26.4,107.6 27.4,113.2 28.5,114.2 29.5,111.4 30.6,115.2 31.6,110.9 32.7,113 33.7,112.5 34.8,112.9 35.8,112.9 36.9,114.4 38,113.3 39,115.3 40.1,110 41.1,112.4 42.2,111.6 43.2,114.6 44.3,113.4 45.3,110.9 46.4,114.4 47.4,114.4 48.5,111.3 49.5,112.1 50.6,113.9 51.7,112.3 52.7,113.1 53.8,118 54.8,114.3 55.9,112.2 56.9,115.4 58,115.3 59,111.7 60.1,116.2 61.1,110.2 62.2,115 63.2,103.9 64.3,99.6 65.4,91.9 66.4,84 67.5,78.9 68.5,78 69.6,80.3 70.6,78.1 71.7,72.5 72.7,77.2 73.8,73.2 74.8,73.7 75.9,73.9 77,69.2 78,66.3 79.1,67.5 80.1,67.3 81.2,70 82.2,69.9 83.3,66.7 84.3,64.8 85.4,64.5 86.4,67.7 87.5,70.2 88.5,61.3 89.6,63 90.7,63.1 91.7,60.9 92.8,62.3 93.8,65.2 94.9,64.9 95.9,67.1 97,65.1 98,62.3 99.1,63.7 100.1,61.1 101.2,63.1 102.3,59 103.3,67.3 104.4,62.3 105.4,63.6 106.5,63.7 107.5,61.9 108.6,61.5 109.6,59.9 110.7,59 111.7,55.4 112.8,60.6 113.9,57.1 114.9,55.9 116,56 117,60.5 118.1,54.5 119.1,55.8 120.2,56.9 121.2,52.5 122.3,53.7 123.3,58.6 124.4,53.9 125.4,53.3 126.5,52.6" fill="none" stroke="#3f85c4" stroke-width="4.2" stroke-linejoin="round" stroke-linecap="butt" />
</svg>
<line x1="680.4" y1="1160.16" x2="806.9" y2="1160.16" stroke="#000" stroke-width="2.65" stroke-dasharray="9.2 4"/>
<line x1="743.65" y1="1216.05" x2="743.65" y2="1094.95" stroke="#000" stroke-width="2.65" stroke-dasharray="9.2 4"/>
<rect x="680.4" y="1094.95" width="126.5" height="121.1" fill="none" stroke="#000" stroke-width="2.7"/>
<svg x="832.35" y="1094.95" width="126.5" height="121.1" overflow="hidden">
<use href="#gc"/>
<polyline points="0,113.1 1.1,111.6 2.1,113.4 3.2,114.2 4.2,114.6 5.3,112.3 6.3,113 7.4,113.7 8.4,113.3 9.5,113.1 10.5,113.1 11.6,113.8 12.6,114.3 13.7,112 14.8,117.3 15.8,113.8 16.9,113.7 17.9,108.9 19,115.4 20,111.4 21.1,112.8 22.1,113.8 23.2,112.5 24.2,110.3 25.3,112.9 26.4,113.1 27.4,114 28.5,112.3 29.5,113.9 30.6,114.9 31.6,116.6 32.7,113.1 33.7,117.3 34.8,112.4 35.8,113.2 36.9,117 38,114 39,117.7 40.1,111.6 41.1,110.4 42.2,112.1 43.2,108.1 44.3,117.2 45.3,115.6 46.4,112.5 47.4,114.6 48.5,113.6 49.5,110.8 50.6,113.7 51.7,112 52.7,114.3 53.8,116.4 54.8,110.3 55.9,111.1 56.9,113.9 58,112 59,115.2 60.1,115.4 61.1,112.4 62.2,112.4 63.2,103.9 64.3,96.5 65.4,87.1 66.4,81.9 67.5,78.2 68.5,74.5 69.6,67.9 70.6,70.4 71.7,70 72.7,62 73.8,67.1 74.8,66.5 75.9,66.2 77,64.4 78,60.5 79.1,59.1 80.1,58.8 81.2,60.7 82.2,66.7 83.3,58 84.3,57.9 85.4,60.8 86.4,60.5 87.5,60 88.5,59.8 89.6,59.3 90.7,52.8 91.7,65.7 92.8,58.2 93.8,58.5 94.9,54.8 95.9,53.4 97,56.2 98,54.8 99.1,54 100.1,53.9 101.2,50.9 102.3,57.2 103.3,54.1 104.4,53.8 105.4,58.2 106.5,54.5 107.5,53.7 108.6,52.9 109.6,50 110.7,54.8 111.7,55.8 112.8,54.2 113.9,48.3 114.9,49.4 116,54.3 117,53.8 118.1,50.8 119.1,49.3 120.2,46.2 121.2,52.2 122.3,48.1 123.3,48.8 124.4,51 125.4,50.5 126.5,47" fill="none" stroke="#3f85c4" stroke-width="4.2" stroke-linejoin="round" stroke-linecap="butt" />
</svg>
<line x1="832.35" y1="1160.16" x2="958.85" y2="1160.16" stroke="#000" stroke-width="2.65" stroke-dasharray="9.2 4"/>
<line x1="895.6" y1="1216.05" x2="895.6" y2="1094.95" stroke="#000" stroke-width="2.65" stroke-dasharray="9.2 4"/>
<rect x="832.35" y="1094.95" width="126.5" height="121.1" fill="none" stroke="#000" stroke-width="2.7"/>
<svg x="984.3" y="1094.95" width="126.5" height="121.1" overflow="hidden">
<use href="#gc"/>
<polyline points="0,112.9 1.1,111.5 2.1,111.3 3.2,112.3 4.2,113.8 5.3,113.7 6.3,113.9 7.4,110.4 8.4,110.8 9.5,114.2 10.5,114.2 11.6,112.3 12.6,113.8 13.7,114.6 14.8,111.4 15.8,112.7 16.9,115.5 17.9,109.7 19,112.4 20,112.6 21.1,112.3 22.1,109.8 23.2,108.3 24.2,115.7 25.3,112.7 26.4,110 27.4,112.3 28.5,110.3 29.5,112.2 30.6,114.5 31.6,114 32.7,111.7 33.7,113.5 34.8,111.7 35.8,113.9 36.9,111.2 38,119.1 39,112.8 40.1,114.7 41.1,116.6 42.2,115.8 43.2,114.2 44.3,111.3 45.3,113 46.4,116.1 47.4,112.3 48.5,110.7 49.5,114.2 50.6,114.6 51.7,116.9 52.7,111.2 53.8,117.6 54.8,113.5 55.9,112.5 56.9,112.3 58,110.6 59,112.8 60.1,116.1 61.1,115.2 62.2,116.5 63.2,103.9 64.3,102.1 65.4,94.4 66.4,91.7 67.5,88.3 68.5,85.8 69.6,85.9 70.6,81.5 71.7,83.6 72.7,80.9 73.8,77.8 74.8,77.5 75.9,83.6 77,75.2 78,78.9 79.1,85 80.1,76.9 81.2,75.3 82.2,74.9 83.3,79.2 84.3,67.9 85.4,74.8 86.4,73.5 87.5,72.4 88.5,78.9 89.6,71 90.7,77.4 91.7,72.7 92.8,77.5 93.8,71.8 94.9,72.3 95.9,68.8 97,69.1 98,71.5 99.1,72.9 100.1,71.7 101.2,68.9 102.3,71.2 103.3,71.8 104.4,68.5 105.4,71.6 106.5,64.8 107.5,71 108.6,72.2 109.6,70.8 110.7,73.5 111.7,69.2 112.8,66.8 113.8,63.8 114.9,66 116,70.1 117,69.8 118.1,67.2 119.1,66.7 120.2,67.5 121.2,61.5 122.3,66.9 123.3,66.9 124.4,65.4 125.4,66.4 126.5,64.5" fill="none" stroke="#3f85c4" stroke-width="4.2" stroke-linejoin="round" stroke-linecap="butt" />
</svg>
<line x1="984.3" y1="1160.16" x2="1110.8" y2="1160.16" stroke="#000" stroke-width="2.65" stroke-dasharray="9.2 4"/>
<line x1="1047.55" y1="1216.05" x2="1047.55" y2="1094.95" stroke="#000" stroke-width="2.65" stroke-dasharray="9.2 4"/>
<rect x="984.3" y="1094.95" width="126.5" height="121.1" fill="none" stroke="#000" stroke-width="2.7"/>
<svg x="1136.25" y="1094.95" width="126.5" height="121.1" overflow="hidden">
<use href="#gc"/>
<polyline points="0,114.7 1.1,110.9 2.1,117.8 3.2,115.1 4.2,111.3 5.3,112.8 6.3,114.1 7.4,114 8.4,113.7 9.5,114.1 10.5,114.4 11.6,112.9 12.7,116.6 13.7,111.7 14.8,114 15.8,113.6 16.9,114.4 17.9,112.7 19,112.4 20,115.3 21.1,112.3 22.1,113.4 23.2,113.7 24.2,112.3 25.3,112.5 26.4,112.5 27.4,113.3 28.5,110.8 29.5,113.5 30.6,115.8 31.6,114.6 32.7,112.2 33.7,111.4 34.8,114.4 35.8,112 36.9,111 38,114 39,115.8 40.1,116.7 41.1,112 42.2,111.7 43.2,116.1 44.3,113.2 45.3,115.4 46.4,113 47.4,112.6 48.5,115 49.5,114.1 50.6,113.7 51.7,115.3 52.7,115.3 53.8,115 54.8,111.2 55.9,112.7 56.9,110.5 58,114.8 59,115.7 60.1,111.7 61.1,112.8 62.2,115.3 63.2,103.9 64.3,97.5 65.4,94.2 66.4,89.1 67.5,81.5 68.5,82.4 69.6,80.8 70.6,76.6 71.7,81 72.7,82.3 73.8,77.2 74.8,74.4 75.9,71.1 77,75.3 78,74.3 79.1,76.6 80.1,69.9 81.2,71.5 82.2,72.6 83.3,71.8 84.3,69.2 85.4,72.7 86.4,72.6 87.5,71 88.5,68.9 89.6,71.5 90.7,66.4 91.7,67.2 92.8,70.9 93.8,67.6 94.9,70.2 95.9,68 97,66.9 98,64.8 99.1,63.7 100.1,64.6 101.2,64.1 102.3,65.9 103.3,64.6 104.4,63.8 105.4,62.2 106.5,60.4 107.5,65.7 108.6,62.3 109.6,63.1 110.7,56.5 111.7,66.7 112.8,61.2 113.8,54.7 114.9,61.1 116,57.3 117,60.5 118.1,60.4 119.1,57.6 120.2,59.8 121.2,58.8 122.3,58.8 123.3,60.9 124.4,58.2 125.4,55.4 126.5,60.1" fill="none" stroke="#3f85c4" stroke-width="4.2" stroke-linejoin="round" stroke-linecap="butt" />
</svg>
<line x1="1136.25" y1="1160.16" x2="1262.75" y2="1160.16" stroke="#000" stroke-width="2.65" stroke-dasharray="9.2 4"/>
<line x1="1199.5" y1="1216.05" x2="1199.5" y2="1094.95" stroke="#000" stroke-width="2.65" stroke-dasharray="9.2 4"/>
<rect x="1136.25" y="1094.95" width="126.5" height="121.1" fill="none" stroke="#000" stroke-width="2.7"/>
<svg x="1288.2" y="1094.95" width="126.5" height="121.1" overflow="hidden">
<use href="#gc"/>
<polyline points="0,115.6 1.1,113.4 2.1,113.1 3.2,109.7 4.2,110.6 5.3,113.5 6.3,115.4 7.4,111.3 8.4,114.7 9.5,112.8 10.5,114.4 11.6,111.6 12.7,116 13.7,111.6 14.8,110.9 15.8,117.3 16.9,113.1 17.9,112.6 19,112.1 20,112.6 21.1,112.2 22.1,111.2 23.2,116.4 24.2,113.5 25.3,113.6 26.4,115.3 27.4,109.1 28.5,115.4 29.5,112.1 30.6,114.7 31.6,111.7 32.7,113.3 33.7,112.8 34.8,112 35.8,114.2 36.9,112.9 38,113.7 39,112.7 40.1,110.9 41.1,115.8 42.2,112.8 43.2,113.6 44.3,113.9 45.3,113.5 46.4,109.5 47.4,111.2 48.5,116.2 49.5,115.6 50.6,116.5 51.7,115.4 52.7,113.6 53.8,114 54.8,113.7 55.9,112.7 56.9,114.7 58,113.3 59,113.7 60.1,113.8 61.1,114.3 62.2,113.8 63.2,103.9 64.3,103.7 65.4,100.2 66.4,96 67.5,95.4 68.5,92.3 69.6,94.2 70.6,91 71.7,93.4 72.7,91 73.8,91.5 74.8,86.5 75.9,87.5 77,83.9 78,87.3 79.1,84.7 80.1,84 81.2,86.2 82.2,86 83.3,84.4 84.3,82.5 85.4,84.9 86.4,84 87.5,84.2 88.5,80.4 89.6,86.8 90.7,83.3 91.7,84.8 92.8,84.3 93.8,84.9 94.9,83.5 95.9,79.4 97,78.7 98,77.6 99.1,76.4 100.1,85.1 101.2,78.4 102.3,77.2 103.3,76 104.4,77.4 105.4,77.8 106.5,82.4 107.5,78 108.6,82 109.6,75.6 110.7,75.5 111.7,79.9 112.8,76.3 113.8,72.2 114.9,72.3 116,73 117,72 118.1,72.3 119.1,74.9 120.2,71.4 121.2,74.7 122.3,72.3 123.3,70.4 124.4,74.4 125.4,72.1 126.5,74.7" fill="none" stroke="#3f85c4" stroke-width="4.2" stroke-linejoin="round" stroke-linecap="butt" />
</svg>
<line x1="1288.2" y1="1160.16" x2="1414.7" y2="1160.16" stroke="#000" stroke-width="2.65" stroke-dasharray="9.2 4"/>
<line x1="1351.45" y1="1216.05" x2="1351.45" y2="1094.95" stroke="#000" stroke-width="2.65" stroke-dasharray="9.2 4"/>
<rect x="1288.2" y="1094.95" width="126.5" height="121.1" fill="none" stroke="#000" stroke-width="2.7"/>
<svg x="1440.15" y="1094.95" width="126.5" height="121.1" overflow="hidden">
<use href="#gc"/>
<polyline points="0,114.7 1.1,113.1 2.1,110.9 3.2,111.9 4.2,116.3 5.3,111.4 6.3,113.3 7.4,109.6 8.4,113 9.5,112 10.5,115 11.6,109.9 12.7,110.1 13.7,117.6 14.8,111.3 15.8,113.5 16.9,112.8 17.9,114.5 19,114.5 20,113.7 21.1,114.4 22.1,114.8 23.2,113.4 24.2,114.7 25.3,114.2 26.4,115.4 27.4,113.7 28.5,118.2 29.5,110.4 30.6,114.7 31.6,111.9 32.7,111.8 33.7,112.3 34.8,112.6 35.8,111.6 36.9,113.1 38,115.9 39,114.3 40.1,114.8 41.1,111.3 42.2,111.5 43.2,113.1 44.3,110.1 45.3,113.6 46.4,111.1 47.4,115.2 48.5,111.5 49.5,111.8 50.6,113.4 51.7,108.5 52.7,117.4 53.8,112.5 54.8,113.4 55.9,113.1 56.9,109.1 58,112 59,116.1 60.1,113.9 61.1,116.4 62.2,113.9 63.2,103.9 64.3,104.9 65.4,99.6 66.4,94.3 67.5,93.8 68.5,91.6 69.6,91.7 70.6,85 71.7,85 72.7,86.5 73.8,84.2 74.8,78.3 75.9,87.1 77,83.7 78,82.3 79.1,84.1 80.1,82.7 81.2,81.1 82.2,82.9 83.3,80.3 84.3,84.6 85.4,77.8 86.4,83.2 87.5,80.7 88.5,76 89.6,78.5 90.7,77.2 91.7,80.4 92.8,77.5 93.8,78.4 94.9,75.4 95.9,79 97,73.1 98,76.3 99.1,74.1 100.1,73.7 101.2,78.7 102.3,76.7 103.3,76.3 104.4,71.2 105.4,71.7 106.5,70.7 107.5,75.4 108.6,72.4 109.6,73.7 110.7,74 111.7,71.3 112.8,68.9 113.8,74 114.9,69.3 116,72.7 117,71.4 118.1,67.2 119.1,72.6 120.2,67.7 121.2,68.3 122.3,67.4 123.3,67.8 124.4,68.1 125.4,63.3 126.5,70.3" fill="none" stroke="#3f85c4" stroke-width="4.2" stroke-linejoin="round" stroke-linecap="butt" />
</svg>
<line x1="1440.15" y1="1160.16" x2="1566.65" y2="1160.16" stroke="#000" stroke-width="2.65" stroke-dasharray="9.2 4"/>
<line x1="1503.4" y1="1216.05" x2="1503.4" y2="1094.95" stroke="#000" stroke-width="2.65" stroke-dasharray="9.2 4"/>
<rect x="1440.15" y="1094.95" width="126.5" height="121.1" fill="none" stroke="#000" stroke-width="2.7"/>
<text x="942" y="1265.65" text-anchor="middle" font-size="29" font-weight="normal">Time (s)</text>
<text x="37.2" y="1082.62" text-anchor="middle" font-size="29" font-weight="normal" transform="rotate(-90 37.2 1082.62)">F340/F380</text>
<svg x="72.6" y="1866" width="126.5" height="121.1" overflow="hidden">
<use href="#ge"/>
<polyline points="0,116.6 1.1,117.1 2.1,119 3.2,117.7 4.2,114.8 5.3,118.3 6.3,117.5 7.4,117.1 8.4,117.7 9.5,117.8 10.5,117.1 11.6,116.7 12.7,118.5 13.7,116.8 14.8,117.5 15.8,117.3 16.9,118.6 17.9,117.6 19,116.5 20,118.6 21.1,119.3 22.1,119.1 23.2,117.5 24.2,115.8 25.3,116.8 26.4,116.3 27.4,117.6 28.5,116.5 29.5,117.9 30.6,117.2 31.6,117.9 32.7,118.2 33.7,117.6 34.8,118.1 35.8,116.6 36.9,117.5 37.9,117.4 39,118 40.1,116.6 41.1,118.3 42.2,117.1 43.2,118 44.3,118.5 45.3,118.1 46.4,114.7 47.4,117.9 48.5,118 49.5,117.4 50.6,117.2 51.7,117.8 52.7,117.7 53.8,117.5 54.8,118.1 55.9,117.1 56.9,117 58,117.5 59,115.8 60.1,116.9 61.1,117.8 62.2,118 63.2,103.5 64.3,87.9 65.4,86.5 66.4,80.8 67.5,77.8 68.5,73.6 69.6,70.2 70.6,69 71.7,64.7 72.7,67.7 73.8,63.5 74.8,58.6 75.9,53.2 77,50 78,50.9 79.1,46.7 80.1,47.2 81.2,48.8 82.2,43.6 83.3,43.1 84.3,36.9 85.4,38 86.4,42.7 87.5,41.2 88.5,34.6 89.6,35.1 90.7,34.2 91.7,29.5 92.8,31.3 93.8,32.4 94.9,29.4 95.9,34.1 97,32.4 98,30.7 99.1,35.9 100.1,27.6 101.2,28.1 102.3,29.1 103.3,24.3 104.4,30 105.4,21.6 106.5,26.3 107.5,20.4 108.6,18.8 109.6,20.3 110.7,27.9 111.7,21.2 112.8,17.6 113.8,21.9 114.9,20.1 116,21.3 117,18.8 118.1,19.3 119.1,20.5 120.2,22.5 121.2,21.6 122.3,19.1 123.3,10.1 124.4,19.5 125.4,14.9 126.5,17.4" fill="none" stroke="#ee6b8e" stroke-width="4.2" stroke-linejoin="round" stroke-linecap="butt" />
</svg>
<line x1="72.6" y1="1903.84" x2="199.1" y2="1903.84" stroke="#000" stroke-width="2.65" stroke-dasharray="9.2 4"/>
<line x1="135.85" y1="1987.1" x2="135.85" y2="1866" stroke="#000" stroke-width="2.65" stroke-dasharray="9.2 4"/>
<rect x="72.6" y="1866" width="126.5" height="121.1" fill="none" stroke="#000" stroke-width="2.7"/>
<svg x="224.55" y="1866" width="126.5" height="121.1" overflow="hidden">
<use href="#ge"/>
<polyline points="0,116.6 1.1,118.8 2.1,118.2 3.2,117.8 4.2,115.6 5.3,118.1 6.3,116.5 7.4,117 8.4,117.7 9.5,117.9 10.5,117.3 11.6,118.2 12.7,118.3 13.7,118.1 14.8,118.1 15.8,118.5 16.9,117.3 17.9,117.7 19,117.9 20,117.3 21.1,117.9 22.1,118.8 23.2,117.8 24.2,116.1 25.3,117.9 26.4,118.4 27.4,118.1 28.5,117.5 29.5,116.9 30.6,117.7 31.6,117.4 32.7,119.7 33.7,117.8 34.8,118.2 35.8,117.7 36.9,117.2 38,116.9 39,116.6 40.1,117.8 41.1,118.8 42.2,116.9 43.2,117.7 44.3,118.9 45.3,117.6 46.4,117.8 47.4,118.4 48.5,119.1 49.5,118 50.6,117.5 51.7,118.4 52.7,117.6 53.8,118 54.8,118 55.9,117.8 56.9,116.6 58,117.4 59,117.3 60.1,118.7 61.1,117.8 62.2,116.5 63.2,106.3 64.3,108.1 65.4,101.8 66.4,96.8 67.5,93.2 68.5,92.2 69.6,87.5 70.6,86.6 71.7,82.5 72.7,79.6 73.8,79.9 74.8,80.1 75.9,79.3 77,75.6 78,75.2 79.1,72.5 80.1,71.8 81.2,73.7 82.2,75.7 83.3,72.3 84.3,66.3 85.4,68.9 86.4,68 87.5,69.8 88.5,67.5 89.6,66.6 90.7,66.6 91.7,64.7 92.8,66.5 93.8,62.7 94.9,63.8 95.9,61.3 97,61.5 98,60.2 99.1,59.3 100.1,62.8 101.2,59.8 102.3,62.1 103.3,59.3 104.4,60.3 105.4,60.6 106.5,60.7 107.5,60 108.6,60 109.6,58.7 110.7,56.7 111.7,57.1 112.8,60.6 113.8,60.1 114.9,57.2 116,59.9 117,53.6 118.1,57 119.1,57.9 120.2,57.7 121.2,54.5 122.3,55.8 123.3,55.8 124.4,53.4 125.4,57.4 126.5,54.6" fill="none" stroke="#ee6b8e" stroke-width="4.2" stroke-linejoin="round" stroke-linecap="butt" />
</svg>
<line x1="224.55" y1="1903.84" x2="351.05" y2="1903.84" stroke="#000" stroke-width="2.65" stroke-dasharray="9.2 4"/>
<line x1="287.8" y1="1987.1" x2="287.8" y2="1866" stroke="#000" stroke-width="2.65" stroke-dasharray="9.2 4"/>
<rect x="224.55" y="1866" width="126.5" height="121.1" fill="none" stroke="#000" stroke-width="2.7"/>
<svg x="376.5" y="1866" width="126.5" height="121.1" overflow="hidden">
<use href="#ge"/>
<polyline points="0,118.5 1.1,117.5 2.1,116.3 3.2,116.7 4.2,117.6 5.3,117.8 6.3,117.3 7.4,116.4 8.4,118.8 9.5,117.2 10.5,118.2 11.6,118.8 12.6,118 13.7,118.5 14.8,119.2 15.8,116.2 16.9,116.3 17.9,118 19,117.6 20,115 21.1,118.4 22.1,119 23.2,117.4 24.2,118.6 25.3,117.9 26.4,117.2 27.4,116.6 28.5,117.4 29.5,116.5 30.6,117.4 31.6,116.8 32.7,117.8 33.7,117.8 34.8,117.6 35.8,118.1 36.9,117.4 37.9,117.8 39,116.7 40.1,117.4 41.1,116.7 42.2,116 43.2,117.1 44.3,117.7 45.3,118.1 46.4,118.5 47.4,117.1 48.5,117.6 49.5,118.4 50.6,117.2 51.7,117.2 52.7,118.6 53.8,116.7 54.8,118.1 55.9,118.5 56.9,117.4 58,118.1 59,117.4 60.1,117.2 61.1,118.6 62.2,118 63.2,106.3 64.3,107.5 65.4,101 66.4,95.2 67.5,88.2 68.5,86.8 69.6,83.7 70.6,79.6 71.7,81.7 72.7,80 73.8,75.1 74.8,76.8 75.9,74.3 77,74.8 78,72.1 79.1,69.5 80.1,66.9 81.2,75.2 82.2,66.7 83.3,64.3 84.3,67.8 85.4,66.6 86.4,64.7 87.5,65.8 88.6,68.3 89.6,62.4 90.7,59.6 91.7,62.5 92.8,60 93.8,64 94.9,63.1 95.9,58.7 97,57.3 98,64 99.1,56.1 100.1,59.1 101.2,61.6 102.3,59.5 103.3,57.8 104.4,55.7 105.4,57.9 106.5,56 107.5,53.9 108.6,54.1 109.6,52.9 110.7,55.8 111.7,52 112.8,51.5 113.9,52.6 114.9,55.4 116,51.4 117,54.2 118.1,51.2 119.1,49 120.2,51 121.2,52.4 122.3,48.3 123.3,52.2 124.4,47.5 125.4,46 126.5,47.3" fill="none" stroke="#ee6b8e" stroke-width="4.2" stroke-linejoin="round" stroke-linecap="butt" />
</svg>
<line x1="376.5" y1="1903.84" x2="503" y2="1903.84" stroke="#000" stroke-width="2.65" stroke-dasharray="9.2 4"/>
<line x1="439.75" y1="1987.1" x2="439.75" y2="1866" stroke="#000" stroke-width="2.65" stroke-dasharray="9.2 4"/>
<rect x="376.5" y="1866" width="126.5" height="121.1" fill="none" stroke="#000" stroke-width="2.7"/>
<svg x="528.45" y="1866" width="126.5" height="121.1" overflow="hidden">
<use href="#ge"/>
<polyline points="0,116.6 1.1,118.1 2.1,118.3 3.2,119.4 4.2,117.9 5.3,118.2 6.3,118.3 7.4,117.7 8.4,117.6 9.5,118.7 10.5,118.6 11.6,118.3 12.6,117.4 13.7,117.5 14.8,118.9 15.8,118.8 16.9,117.4 17.9,116.7 19,117.9 20,118.4 21.1,116.9 22.1,118.2 23.2,117.4 24.2,116.7 25.3,117.4 26.4,117.9 27.4,117 28.5,118.4 29.5,118.1 30.6,118.4 31.6,118.1 32.7,118.3 33.7,118.1 34.8,118.2 35.8,117.9 36.9,117.9 38,117.7 39,116.9 40.1,119.1 41.1,116.9 42.2,118.1 43.2,118.9 44.3,118.1 45.3,117.9 46.4,117.1 47.4,118.7 48.5,117.8 49.5,117.8 50.6,119.2 51.7,118.8 52.7,117.5 53.8,117.4 54.8,117.1 55.9,117.3 56.9,117.6 58,117.8 59,117 60.1,118.6 61.1,118 62.2,117.6 63.2,105.7 64.3,86.2 65.4,81.9 66.4,73 67.5,69.6 68.5,65.6 69.6,61.7 70.6,54.8 71.7,57 72.7,48.3 73.8,49.3 74.8,45 75.9,42.7 77,38.5 78,41.1 79.1,38.3 80.1,34.9 81.2,31.1 82.2,30.8 83.3,31.8 84.3,28 85.4,32.8 86.4,32.2 87.5,24.6 88.5,18.1 89.6,23.4 90.7,24.4 91.7,20 92.8,23.2 93.8,24.8 94.9,27.2 95.9,25.6 97,16.3 98,21.6 99.1,16.2 100.1,17.6 101.2,11.2 102.3,19.6 103.3,14.2 104.4,23.1 105.4,11.7 106.5,19.8 107.5,17.2 108.6,23.4 109.6,15.7 110.7,12.6 111.7,14.8 112.8,17 113.9,11.8 114.9,12.4 116,11.2 117,9.8 118.1,12.7 119.1,6.6 120.2,19.8 121.2,16.3 122.3,13.3 123.3,10.7 124.4,5.2 125.4,8.5 126.5,14.3" fill="none" stroke="#ee6b8e" stroke-width="4.2" stroke-linejoin="round" stroke-linecap="butt" />
</svg>
<line x1="528.45" y1="1903.84" x2="654.95" y2="1903.84" stroke="#000" stroke-width="2.65" stroke-dasharray="9.2 4"/>
<line x1="591.7" y1="1987.1" x2="591.7" y2="1866" stroke="#000" stroke-width="2.65" stroke-dasharray="9.2 4"/>
<rect x="528.45" y="1866" width="126.5" height="121.1" fill="none" stroke="#000" stroke-width="2.7"/>
<svg x="680.4" y="1866" width="126.5" height="121.1" overflow="hidden">
<use href="#ge"/>
<polyline points="0,117.9 1.1,117.4 2.1,117.4 3.2,117.3 4.2,117.6 5.3,116.2 6.3,117.5 7.4,118.3 8.4,117.7 9.5,117.8 10.5,118.7 11.6,118.1 12.6,118 13.7,116.4 14.8,115.7 15.8,118.7 16.9,116.2 17.9,118.8 19,117.8 20,119.2 21.1,117.3 22.1,118.6 23.2,117.7 24.2,119.3 25.3,118.2 26.4,119 27.4,116.7 28.5,117.7 29.5,119.7 30.6,117.1 31.6,117 32.7,117 33.7,117.8 34.8,117.8 35.8,117.9 36.9,118.5 38,117.5 39,117.7 40.1,116.7 41.1,116.8 42.2,117.1 43.2,116.7 44.3,117.9 45.3,117.2 46.4,117.9 47.4,118 48.5,118.8 49.5,117.8 50.6,117.9 51.7,118 52.7,117.4 53.8,118.2 54.8,118.2 55.9,117.9 56.9,116.8 58,117.7 59,116.6 60.1,117.8 61.1,118.1 62.2,118.1 63.2,106.3 64.3,107.8 65.4,101.9 66.4,98.2 67.5,93.3 68.5,88.5 69.6,87.2 70.6,83.3 71.7,84.9 72.7,81.5 73.8,77.4 74.8,81.3 75.9,77.3 77,76.9 78,73.6 79.1,73.2 80.1,73.9 81.2,67.3 82.2,68.4 83.3,71.9 84.3,68.4 85.4,64.9 86.4,68.3 87.5,66.8 88.5,68.5 89.6,64.7 90.7,64.1 91.7,67.6 92.8,63 93.8,62.9 94.9,60.3 95.9,62.6 97,57.2 98,60.8 99.1,57.2 100.1,60.8 101.2,58 102.3,60.5 103.3,53.6 104.4,54.7 105.4,56.8 106.5,56.8 107.5,51.3 108.6,55.9 109.6,52.7 110.7,52.1 111.7,54.1 112.8,52.5 113.9,49.1 114.9,52.6 116,53.4 117,46.8 118.1,49.7 119.1,51 120.2,49.5 121.2,46.3 122.3,51.2 123.3,44.1 124.4,49.3 125.4,43.9 126.5,47.7" fill="none" stroke="#ee6b8e" stroke-width="4.2" stroke-linejoin="round" stroke-linecap="butt" />
</svg>
<line x1="680.4" y1="1903.84" x2="806.9" y2="1903.84" stroke="#000" stroke-width="2.65" stroke-dasharray="9.2 4"/>
<line x1="743.65" y1="1987.1" x2="743.65" y2="1866" stroke="#000" stroke-width="2.65" stroke-dasharray="9.2 4"/>
<rect x="680.4" y="1866" width="126.5" height="121.1" fill="none" stroke="#000" stroke-width="2.7"/>
<svg x="832.35" y="1866" width="126.5" height="121.1" overflow="hidden">
<use href="#ge"/>
<polyline points="0,118.2 1.1,117.3 2.1,116.9 3.2,118.2 4.2,116.6 5.3,117.4 6.3,116.7 7.4,119.7 8.4,116.7 9.5,116.3 10.5,117.8 11.6,117.3 12.6,117.6 13.7,117.1 14.8,117 15.8,117.7 16.9,118.2 17.9,117.6 19,118.7 20,117.3 21.1,117.6 22.1,117.1 23.2,117.7 24.2,117.4 25.3,118.8 26.4,116.5 27.4,117.7 28.5,117.4 29.5,117 30.6,117.5 31.6,117.6 32.7,118 33.7,117.5 34.8,117.2 35.8,117.6 36.9,117.4 38,117.8 39,117.9 40.1,117.8 41.1,117.8 42.2,118.5 43.2,117.9 44.3,117.4 45.3,117.4 46.4,116.9 47.4,118.7 48.5,117.3 49.5,118.6 50.6,117.7 51.7,117.6 52.7,118.5 53.8,117.8 54.8,119 55.9,116.7 56.9,117 58,117.2 59,117.5 60.1,117 61.1,116.8 62.2,117.9 63.2,106.3 64.3,107.6 65.4,100.2 66.4,94.7 67.5,88.9 68.5,84.6 69.6,84.6 70.6,83.5 71.7,78.5 72.7,77.6 73.8,79.6 74.8,74.4 75.9,72.2 77,72.6 78,68.9 79.1,68.8 80.1,67.9 81.2,64.2 82.2,69.7 83.3,65.7 84.3,66.4 85.4,65.6 86.4,62.5 87.5,62.8 88.5,62.6 89.6,59.7 90.7,61.3 91.7,60.2 92.8,61.6 93.8,61.3 94.9,57.7 95.9,54 97,55.2 98,54 99.1,56.1 100.1,56.6 101.2,54 102.3,52.7 103.3,54.1 104.4,53.3 105.4,47.7 106.5,50.7 107.5,52.8 108.6,47.8 109.6,49.4 110.7,49.4 111.7,48.9 112.8,41.6 113.9,49.7 114.9,41.7 116,45.5 117,47.8 118.1,43.5 119.1,47.8 120.2,43.8 121.2,44.7 122.3,48.3 123.3,42.9 124.4,41.3 125.4,41.1 126.5,40.8" fill="none" stroke="#ee6b8e" stroke-width="4.2" stroke-linejoin="round" stroke-linecap="butt" />
</svg>
<line x1="832.35" y1="1903.84" x2="958.85" y2="1903.84" stroke="#000" stroke-width="2.65" stroke-dasharray="9.2 4"/>
<line x1="895.6" y1="1987.1" x2="895.6" y2="1866" stroke="#000" stroke-width="2.65" stroke-dasharray="9.2 4"/>
<rect x="832.35" y="1866" width="126.5" height="121.1" fill="none" stroke="#000" stroke-width="2.7"/>
<svg x="984.3" y="1866" width="126.5" height="121.1" overflow="hidden">
<use href="#ge"/>
<polyline points="0,117.8 1.1,117.9 2.1,118.4 3.2,119 4.2,117.9 5.3,118.1 6.3,118.1 7.4,117.3 8.4,118.9 9.5,117.6 10.5,116.2 11.6,118.3 12.6,117.1 13.7,117.8 14.8,116.7 15.8,116.9 16.9,119.5 17.9,116.8 19,117.9 20,118.3 21.1,117.9 22.1,117.3 23.2,118.2 24.2,118.4 25.3,117.6 26.4,118 27.4,117 28.5,118.1 29.5,118 30.6,116.9 31.6,119.3 32.7,116 33.7,117.2 34.8,119 35.8,118.7 36.9,118.7 38,118.2 39,118 40.1,117.2 41.1,118.2 42.2,117.4 43.2,118.3 44.3,119.2 45.3,117.4 46.4,117.7 47.4,117.5 48.5,118.8 49.5,117.7 50.6,117.7 51.7,117.4 52.7,117.5 53.8,117.1 54.8,117 55.9,117.4 56.9,117.8 58,117.3 59,118.6 60.1,119.1 61.1,117.1 62.2,119.4 63.2,106.3 64.3,104.7 65.4,93.3 66.4,87.2 67.5,80.7 68.5,77.5 69.6,70.3 70.6,72.5 71.7,64.2 72.7,64.8 73.8,65.6 74.8,62.2 75.9,62.1 77,60.1 78,59.5 79.1,53.8 80.1,54.1 81.2,52.1 82.2,51.9 83.3,51.6 84.3,48.9 85.4,46.7 86.4,46.5 87.5,45.9 88.5,44.6 89.6,46 90.7,39.2 91.7,42.2 92.8,41.3 93.8,40.7 94.9,41.4 95.9,38.4 97,43.7 98,37 99.1,38.4 100.1,36.4 101.2,36.7 102.3,38.6 103.3,38.5 104.4,40.6 105.4,34.7 106.5,32.7 107.5,34 108.6,36.7 109.6,34.5 110.7,32 111.7,29 112.8,34.2 113.8,34.6 114.9,30.4 116,28.2 117,29.9 118.1,29.6 119.1,30.8 120.2,28.7 121.2,26.9 122.3,28.5 123.3,29.1 124.4,28.7 125.4,28.2 126.5,26.9" fill="none" stroke="#ee6b8e" stroke-width="4.2" stroke-linejoin="round" stroke-linecap="butt" />
</svg>
<line x1="984.3" y1="1903.84" x2="1110.8" y2="1903.84" stroke="#000" stroke-width="2.65" stroke-dasharray="9.2 4"/>
<line x1="1047.55" y1="1987.1" x2="1047.55" y2="1866" stroke="#000" stroke-width="2.65" stroke-dasharray="9.2 4"/>
<rect x="984.3" y="1866" width="126.5" height="121.1" fill="none" stroke="#000" stroke-width="2.7"/>
<svg x="1136.25" y="1866" width="126.5" height="121.1" overflow="hidden">
<use href="#ge"/>
<polyline points="0,117.6 1.1,118.6 2.1,118.2 3.2,117.7 4.2,116.6 5.3,117.7 6.3,117.7 7.4,118.8 8.4,119.1 9.5,117.6 10.5,117.2 11.6,116.7 12.7,118 13.7,116.6 14.8,117.2 15.8,116.3 16.9,118 17.9,118 19,118.6 20,117.5 21.1,116.6 22.1,117.3 23.2,118.6 24.2,115.5 25.3,117.7 26.4,118.3 27.4,118.2 28.5,118.5 29.5,118.2 30.6,118.2 31.6,117.7 32.7,117.1 33.7,118.4 34.8,117.4 35.8,117.7 36.9,118.4 38,117.7 39,118.3 40.1,117.7 41.1,116.9 42.2,118.4 43.2,116.5 44.3,115.8 45.3,117.4 46.4,117.5 47.4,117.3 48.5,118 49.5,117.3 50.6,118.3 51.7,116 52.7,117.3 53.8,118.6 54.8,117.7 55.9,118 56.9,117.6 58,118.2 59,117.3 60.1,117.5 61.1,118.6 62.2,119.6 63.2,106.3 64.3,104.2 65.4,94.9 66.4,87 67.5,83.3 68.5,79.2 69.6,74.3 70.6,70.9 71.7,67.5 72.7,67.9 73.8,65.9 74.8,63 75.9,62.1 77,58.3 78,58.4 79.1,57.6 80.1,54 81.2,53.7 82.2,51.5 83.3,50.8 84.3,48.5 85.4,49.6 86.4,48.5 87.5,49.9 88.5,45.3 89.6,46.8 90.7,43.9 91.7,45.8 92.8,45.5 93.8,42.5 94.9,46.4 95.9,39.3 97,39.1 98,37.9 99.1,42.2 100.1,40.5 101.2,34.9 102.3,35.5 103.3,36.2 104.4,35.1 105.4,38.3 106.5,33.7 107.5,31.9 108.6,36.5 109.6,33.7 110.7,35 111.7,35.8 112.8,31.9 113.8,29.6 114.9,33.8 116,32.9 117,30 118.1,33.3 119.1,33 120.2,27.8 121.2,30.3 122.3,26.6 123.3,27.4 124.4,29.3 125.4,27.1 126.5,26.4" fill="none" stroke="#ee6b8e" stroke-width="4.2" stroke-linejoin="round" stroke-linecap="butt" />
</svg>
<line x1="1136.25" y1="1903.84" x2="1262.75" y2="1903.84" stroke="#000" stroke-width="2.65" stroke-dasharray="9.2 4"/>
<line x1="1199.5" y1="1987.1" x2="1199.5" y2="1866" stroke="#000" stroke-width="2.65" stroke-dasharray="9.2 4"/>
<rect x="1136.25" y="1866" width="126.5" height="121.1" fill="none" stroke="#000" stroke-width="2.7"/>
<svg x="1288.2" y="1866" width="126.5" height="121.1" overflow="hidden">
<use href="#ge"/>
<polyline points="0,115.9 1.1,117.6 2.1,117.6 3.2,117.6 4.2,117.2 5.3,116.5 6.3,117.5 7.4,116.9 8.4,117.5 9.5,117.9 10.5,117 11.6,119.5 12.7,117.1 13.7,117.4 14.8,118.2 15.8,117.1 16.9,117.1 17.9,116.8 19,118.3 20,117.4 21.1,118.3 22.1,117.6 23.2,117.9 24.2,117.3 25.3,117.9 26.4,117.8 27.4,116.7 28.5,117.1 29.5,117.1 30.6,117.2 31.6,117.4 32.7,118.8 33.7,118 34.8,117.5 35.8,117.2 36.9,116.3 38,117 39,118.4 40.1,117.8 41.1,116.4 42.2,118.2 43.2,118 44.3,117.5 45.3,117.5 46.4,116 47.4,118.4 48.5,118.7 49.5,118.5 50.6,118.3 51.7,118.3 52.7,118.1 53.8,117 54.8,118.1 55.9,116.5 56.9,117 58,118.6 59,118.7 60.1,117 61.1,117.5 62.2,117.5 63.2,106.3 64.3,105.8 65.4,98.5 66.4,90.2 67.5,85.7 68.5,83.2 69.6,79 70.6,76.4 71.7,73.9 72.7,73.2 73.8,69.4 74.8,67.1 75.9,65.9 77,68.9 78,60.7 79.1,62.2 80.1,66.7 81.2,59.3 82.2,51.4 83.3,57 84.3,57.6 85.4,56.9 86.4,56 87.5,52.1 88.5,54.7 89.6,49.9 90.7,51.9 91.7,54 92.8,49.3 93.8,49.1 94.9,46.7 95.9,47.5 97,46.1 98,47 99.1,48.8 100.1,46.3 101.2,40.1 102.3,46.2 103.3,44.7 104.4,40.8 105.4,44.3 106.5,42.3 107.5,42.9 108.6,38.2 109.6,39.5 110.7,40 111.7,43.1 112.8,35.4 113.8,37.1 114.9,40.8 116,38.3 117,34.7 118.1,38.3 119.1,38.1 120.2,35.2 121.2,34.5 122.3,36.7 123.3,32 124.4,33.8 125.4,33.4 126.5,35.6" fill="none" stroke="#ee6b8e" stroke-width="4.2" stroke-linejoin="round" stroke-linecap="butt" />
</svg>
<line x1="1288.2" y1="1903.84" x2="1414.7" y2="1903.84" stroke="#000" stroke-width="2.65" stroke-dasharray="9.2 4"/>
<line x1="1351.45" y1="1987.1" x2="1351.45" y2="1866" stroke="#000" stroke-width="2.65" stroke-dasharray="9.2 4"/>
<rect x="1288.2" y="1866" width="126.5" height="121.1" fill="none" stroke="#000" stroke-width="2.7"/>
<svg x="1440.15" y="1866" width="126.5" height="121.1" overflow="hidden">
<use href="#ge"/>
<polyline points="0,117.2 1.1,117.5 2.1,117.4 3.2,118.5 4.2,117.8 5.3,118.9 6.3,117.1 7.4,119.6 8.4,117.1 9.5,117.3 10.5,116.6 11.6,117.7 12.7,116.6 13.7,118.2 14.8,116.4 15.8,118.3 16.9,117.7 17.9,117.9 19,118.5 20,117.4 21.1,118.4 22.1,118.9 23.2,117.4 24.2,117.6 25.3,117.7 26.4,117.3 27.4,117 28.5,118.5 29.5,118.4 30.6,117.7 31.6,118.2 32.7,116.3 33.7,118.2 34.8,117.3 35.8,118.4 36.9,117.5 38,117.8 39,117.6 40.1,117.8 41.1,118.9 42.2,118.3 43.2,118.1 44.3,117.6 45.3,118 46.4,117.6 47.4,118.1 48.5,116.6 49.5,116.8 50.6,117.2 51.7,118.8 52.7,118.4 53.8,119.1 54.8,117.9 55.9,116.6 56.9,118.7 58,118.2 59,117.2 60.1,118.7 61.1,117.7 62.2,117.5 63.2,106.3 64.3,103.4 65.4,92.5 66.4,84.7 67.5,81.4 68.5,75.5 69.6,67.5 70.6,68.5 71.7,62.9 72.7,63.4 73.8,60.5 74.8,60.4 75.9,59 77,55.7 78,52.3 79.1,54 80.1,52.3 81.2,48.9 82.2,49.3 83.3,47.9 84.3,49.1 85.4,41.1 86.4,43.4 87.5,46.8 88.5,40.6 89.6,40.4 90.7,43.8 91.7,38.5 92.8,44.6 93.8,38.7 94.9,40.2 95.9,44.5 97,39 98,41.2 99.1,34.3 100.1,35.2 101.2,35.1 102.3,36.2 103.3,33.7 104.4,35.7 105.4,39.1 106.5,31.2 107.5,34.8 108.6,31 109.6,32.9 110.7,32.7 111.7,29.4 112.8,32.1 113.8,34.3 114.9,32.3 116,31.2 117,27.9 118.1,28.6 119.1,29 120.2,27.2 121.2,28.9 122.3,25.9 123.3,28 124.4,27.8 125.4,27.9 126.5,28.9" fill="none" stroke="#ee6b8e" stroke-width="4.2" stroke-linejoin="round" stroke-linecap="butt" />
</svg>
<line x1="1440.15" y1="1903.84" x2="1566.65" y2="1903.84" stroke="#000" stroke-width="2.65" stroke-dasharray="9.2 4"/>
<line x1="1503.4" y1="1987.1" x2="1503.4" y2="1866" stroke="#000" stroke-width="2.65" stroke-dasharray="9.2 4"/>
<rect x="1440.15" y="1866" width="126.5" height="121.1" fill="none" stroke="#000" stroke-width="2.7"/>
<svg x="1592.1" y="1866" width="126.5" height="121.1" overflow="hidden">
<use href="#ge"/>
<polyline points="0,117.3 1.1,119.1 2.1,118.3 3.2,118.1 4.2,116.7 5.3,117.7 6.3,117.3 7.4,117.3 8.4,118.3 9.5,118.8 10.5,118.1 11.6,118.4 12.7,119.6 13.7,117.6 14.8,117.8 15.8,118.1 16.9,118.6 17.9,117.4 19,118.5 20,117 21.1,118.4 22.1,118.5 23.2,118 24.2,119.2 25.3,117.8 26.4,116.4 27.4,117.8 28.5,117.4 29.5,115.9 30.6,118 31.6,117.4 32.7,117.9 33.7,117.5 34.8,117.8 35.8,117 36.9,119.2 38,117.6 39,118.2 40.1,117.5 41.1,118.7 42.2,116.2 43.2,117.1 44.3,117.8 45.3,118.3 46.4,117.1 47.4,117.9 48.5,117.5 49.5,116.7 50.6,118.1 51.7,116.5 52.7,117.5 53.8,117.4 54.8,116.5 55.9,117.6 56.9,117 58,117.8 59,117.9 60.1,118.2 61.1,117.9 62.2,118.1 63.2,106.3 64.3,108.8 65.4,101.6 66.4,97.2 67.5,93.1 68.5,90.7 69.6,88 70.6,83.2 71.7,83.4 72.7,81.2 73.8,80.6 74.8,80.3 75.9,79.7 77,77 78,77.1 79.1,75.2 80.1,72.7 81.2,74.3 82.2,77.2 83.3,69.7 84.3,68 85.4,74.8 86.4,67.1 87.5,66.1 88.5,62.9 89.6,69.8 90.7,68 91.7,66.4 92.8,67.1 93.8,62.9 94.9,62.6 95.9,63 97,60.2 98,60 99.1,56.5 100.1,59.3 101.2,60.3 102.3,58.5 103.3,55.7 104.4,60.6 105.4,55.9 106.5,56.2 107.5,56.4 108.6,58.4 109.6,54.8 110.7,50.9 111.7,55.1 112.8,57.1 113.8,52.7 114.9,54 116,56.6 117,51.8 118.1,50.2 119.1,47.1 120.2,51.8 121.2,52.6 122.3,51.4 123.3,49.6 124.4,49.1 125.4,53.9 126.5,46.4" fill="none" stroke="#ee6b8e" stroke-width="4.2" stroke-linejoin="round" stroke-linecap="butt" />
</svg>
<line x1="1592.1" y1="1903.84" x2="1718.6" y2="1903.84" stroke="#000" stroke-width="2.65" stroke-dasharray="9.2 4"/>
<line x1="1655.35" y1="1987.1" x2="1655.35" y2="1866" stroke="#000" stroke-width="2.65" stroke-dasharray="9.2 4"/>
<rect x="1592.1" y="1866" width="126.5" height="121.1" fill="none" stroke="#000" stroke-width="2.7"/>
<svg x="1744.05" y="1866" width="126.5" height="121.1" overflow="hidden">
<use href="#ge"/>
<polyline points="0,117.4 1.1,116.7 2.1,118.4 3.2,118.4 4.2,117 5.3,116.7 6.3,117.9 7.4,118.9 8.4,118.6 9.5,117.9 10.5,118.1 11.6,116.7 12.7,119 13.7,118 14.8,117.6 15.8,118.2 16.9,117.3 17.9,117.2 19,116.8 20,117.8 21.1,117 22.1,118.7 23.2,118.5 24.2,118.5 25.3,117.2 26.4,118.3 27.4,118.2 28.5,117.6 29.5,116.9 30.6,116.3 31.6,117.7 32.7,117.6 33.7,117.4 34.8,118 35.8,117.5 36.9,117.8 38,118.8 39,118.6 40.1,118 41.1,118.4 42.2,117.7 43.2,117.7 44.3,118.7 45.3,117.4 46.4,118.2 47.4,117.4 48.5,117.9 49.5,117.6 50.6,118.4 51.7,119.5 52.7,117.1 53.8,117 54.8,117.2 55.9,117.9 56.9,117.8 58,117.7 59,118 60.1,117.6 61.1,118.4 62.2,117.3 63.2,106.3 64.3,108.1 65.4,100.4 66.4,96.6 67.5,92.5 68.5,88 69.6,88.8 70.6,83.4 71.7,82 72.7,80.6 73.8,76.5 74.8,76.9 75.9,73.5 77,71.1 78,77.1 79.1,72.1 80.1,73.1 81.2,68.9 82.2,71.4 83.3,68.2 84.3,66.7 85.4,66.1 86.4,63.3 87.5,66.2 88.5,59.1 89.6,62.8 90.7,65.3 91.7,61.3 92.8,57.6 93.8,59.1 94.9,58.8 95.9,59 97,54.2 98,56.6 99.1,52.9 100.1,54.5 101.2,54.1 102.3,53.5 103.3,54.8 104.4,54.2 105.4,57.4 106.5,52.2 107.5,53.9 108.6,49.7 109.6,51.5 110.7,50.6 111.7,49.1 112.8,49.1 113.8,45.5 114.9,45.8 116,50.7 117,46.6 118.1,49.9 119.1,45 120.2,44 121.2,45.3 122.3,44.1 123.3,44.2 124.4,45.3 125.4,42.5 126.5,41.9" fill="none" stroke="#ee6b8e" stroke-width="4.2" stroke-linejoin="round" stroke-linecap="butt" />
</svg>
<line x1="1744.05" y1="1903.84" x2="1870.55" y2="1903.84" stroke="#000" stroke-width="2.65" stroke-dasharray="9.2 4"/>
<line x1="1807.3" y1="1987.1" x2="1807.3" y2="1866" stroke="#000" stroke-width="2.65" stroke-dasharray="9.2 4"/>
<rect x="1744.05" y="1866" width="126.5" height="121.1" fill="none" stroke="#000" stroke-width="2.7"/>
<svg x="72.6" y="2011.75" width="126.5" height="121.1" overflow="hidden">
<use href="#ge"/>
<polyline points="0,116.6 1.1,116.1 2.1,117.1 3.2,117.3 4.2,116.8 5.3,117 6.3,118.1 7.4,117.2 8.4,117.4 9.5,117.8 10.5,117 11.6,118.1 12.7,118 13.7,117.3 14.8,117.5 15.8,117.8 16.9,118 17.9,118.2 19,117.6 20,117.3 21.1,116.8 22.1,117.4 23.2,117.1 24.2,117.5 25.3,118 26.4,118.9 27.4,118.7 28.5,117.1 29.5,118.3 30.6,116.6 31.6,117.5 32.7,116.4 33.7,116.7 34.8,118.1 35.8,118.1 36.9,118.4 37.9,118.7 39,117.4 40.1,118.7 41.1,116.6 42.2,118.3 43.2,117 44.3,118.5 45.3,117.9 46.4,118.9 47.4,117.8 48.5,117.3 49.5,118.7 50.6,117.8 51.7,117.3 52.7,115.8 53.8,118.7 54.8,117.9 55.9,118 56.9,117.7 58,117 59,116.4 60.1,120.5 61.1,117.2 62.2,117.2 63.2,106.3 64.3,100.4 65.4,87.1 66.4,76.2 67.5,70.3 68.5,66.1 69.6,57.9 70.6,53.6 71.7,52.9 72.7,49.2 73.8,49.6 74.8,44.8 75.9,41.6 77,44.8 78,38.6 79.1,38.8 80.1,37.2 81.2,36.2 82.2,36.5 83.3,37.3 84.3,35.9 85.4,34.1 86.4,36.8 87.5,31.7 88.5,34.3 89.6,27.3 90.7,29.6 91.7,27 92.8,27.4 93.8,24.5 94.9,30.7 95.9,29.5 97,22.9 98,27.3 99.1,23.4 100.1,22.3 101.2,26.9 102.3,25 103.3,23.1 104.4,24.8 105.4,23.6 106.5,24.6 107.5,25.5 108.6,21.1 109.6,25.4 110.7,23.9 111.7,21 112.8,19.3 113.8,23.3 114.9,21.4 116,20.5 117,24.1 118.1,22.3 119.1,21.7 120.2,24.9 121.2,23.5 122.3,22.1 123.3,22.9 124.4,21 125.4,23 126.5,25.3" fill="none" stroke="#ee6b8e" stroke-width="4.2" stroke-linejoin="round" stroke-linecap="butt" />
</svg>
<line x1="72.6" y1="2049.59" x2="199.1" y2="2049.59" stroke="#000" stroke-width="2.65" stroke-dasharray="9.2 4"/>
<line x1="135.85" y1="2132.85" x2="135.85" y2="2011.75" stroke="#000" stroke-width="2.65" stroke-dasharray="9.2 4"/>
<rect x="72.6" y="2011.75" width="126.5" height="121.1" fill="none" stroke="#000" stroke-width="2.7"/>
<svg x="224.55" y="2011.75" width="126.5" height="121.1" overflow="hidden">
<use href="#ge"/>
<polyline points="0,118.2 1.1,117.3 2.1,117.8 3.2,118.6 4.2,117 5.3,118.6 6.3,117.3 7.4,117.4 8.4,117.6 9.5,117.3 10.5,118.4 11.6,118.4 12.7,118.6 13.7,118.7 14.8,117.3 15.8,115.7 16.9,118.2 17.9,118.3 19,119.3 20,118.5 21.1,117.7 22.1,117.2 23.2,116.9 24.2,118.2 25.3,118.2 26.4,117.8 27.4,118.9 28.5,117.2 29.5,117.8 30.6,117.1 31.6,117.1 32.7,116.7 33.7,117.3 34.8,118.8 35.8,119 36.9,117.8 38,118 39,118.8 40.1,118.2 41.1,118.1 42.2,117.1 43.2,117.4 44.3,117.4 45.3,115.9 46.4,118 47.4,117.6 48.5,118.8 49.5,116.3 50.6,119 51.7,118.3 52.7,118.3 53.8,117.2 54.8,115.6 55.9,116.3 56.9,116.1 58,116.8 59,116.5 60.1,118.5 61.1,118 62.2,117.9 63.2,106.3 64.3,102.4 65.4,92.1 66.4,82.6 67.5,76.1 68.5,70.3 69.6,67 70.6,62.7 71.7,58.6 72.7,54.4 73.8,55 74.8,52.3 75.9,51.2 77,48.4 78,48.5 79.1,44.6 80.1,44 81.2,46.5 82.2,38.1 83.3,41.2 84.3,37.6 85.4,35 86.4,41.2 87.5,34.6 88.5,37.4 89.6,33.5 90.7,33.5 91.7,33.8 92.8,35.5 93.8,36.4 94.9,31.2 95.9,30.5 97,29.8 98,28.5 99.1,26.8 100.1,26.1 101.2,29.8 102.3,32.9 103.3,29.9 104.4,23.4 105.4,24 106.5,28.6 107.5,27.5 108.6,26.6 109.6,26.8 110.7,22.1 111.7,18.6 112.8,23.7 113.8,19.5 114.9,25.3 116,19.9 117,21.6 118.1,21.4 119.1,20.9 120.2,17.8 121.2,19.8 122.3,19.3 123.3,24.8 124.4,18.4 125.4,21.8 126.5,19.7" fill="none" stroke="#ee6b8e" stroke-width="4.2" stroke-linejoin="round" stroke-linecap="butt" />
</svg>
<line x1="224.55" y1="2049.59" x2="351.05" y2="2049.59" stroke="#000" stroke-width="2.65" stroke-dasharray="9.2 4"/>
<line x1="287.8" y1="2132.85" x2="287.8" y2="2011.75" stroke="#000" stroke-width="2.65" stroke-dasharray="9.2 4"/>
<rect x="224.55" y="2011.75" width="126.5" height="121.1" fill="none" stroke="#000" stroke-width="2.7"/>
<svg x="376.5" y="2011.75" width="126.5" height="121.1" overflow="hidden">
<use href="#ge"/>
<polyline points="0,118.1 1.1,117 2.1,118.8 3.2,118.4 4.2,116.4 5.3,117.2 6.3,118 7.4,118.6 8.4,116.9 9.5,118.4 10.5,118.1 11.6,117.8 12.6,119.2 13.7,116 14.8,117.8 15.8,118.9 16.9,117.7 17.9,117.3 19,117.5 20,116.6 21.1,118.7 22.1,116.4 23.2,116.3 24.2,117 25.3,117.8 26.4,118.7 27.4,117.8 28.5,116.9 29.5,118.5 30.6,117.3 31.6,117.9 32.7,119 33.7,117.1 34.8,117 35.8,118.2 36.9,117.6 37.9,118.3 39,116.8 40.1,118.5 41.1,118.5 42.2,117.7 43.2,117.4 44.3,116.5 45.3,117.9 46.4,117.1 47.4,117.8 48.5,117.6 49.5,117.3 50.6,118.5 51.7,117.4 52.7,118 53.8,118.1 54.8,117.4 55.9,118.4 56.9,118.4 58,117.9 59,116.5 60.1,118.9 61.1,116.2 62.2,117 63.2,106.3 64.3,99.9 65.4,87.1 66.4,76.5 67.5,70 68.5,64.7 69.6,61.8 70.6,58.5 71.7,53.2 72.7,53 73.8,50.6 74.8,45.4 75.9,45.6 77,45.3 78,45 79.1,39.4 80.1,38.8 81.2,37.2 82.2,34.2 83.3,36.8 84.3,37.8 85.4,33.5 86.4,34.4 87.5,38.1 88.6,29.2 89.6,27.9 90.7,30.9 91.7,27 92.8,30 93.8,31.8 94.9,33.5 95.9,27 97,28.3 98,26.7 99.1,25.4 100.1,23.8 101.2,24.2 102.3,25.6 103.3,26.2 104.4,26.5 105.4,25.7 106.5,25.4 107.5,22.6 108.6,29.2 109.6,25.8 110.7,24.5 111.7,25.2 112.8,26 113.9,23.4 114.9,25.2 116,22.4 117,20.8 118.1,22 119.1,24 120.2,24.5 121.2,24 122.3,22.7 123.3,19.5 124.4,25 125.4,23.3 126.5,23.9" fill="none" stroke="#ee6b8e" stroke-width="4.2" stroke-linejoin="round" stroke-linecap="butt" />
</svg>
<line x1="376.5" y1="2049.59" x2="503" y2="2049.59" stroke="#000" stroke-width="2.65" stroke-dasharray="9.2 4"/>
<line x1="439.75" y1="2132.85" x2="439.75" y2="2011.75" stroke="#000" stroke-width="2.65" stroke-dasharray="9.2 4"/>
<rect x="376.5" y="2011.75" width="126.5" height="121.1" fill="none" stroke="#000" stroke-width="2.7"/>
<svg x="528.45" y="2011.75" width="126.5" height="121.1" overflow="hidden">
<use href="#ge"/>
<polyline points="0,117.7 1.1,118.6 2.1,117.9 3.2,119.5 4.2,117.4 5.3,119.4 6.3,118.1 7.4,118.2 8.4,118.7 9.5,116.2 10.5,118.6 11.6,117.6 12.6,117.2 13.7,118.8 14.8,117 15.8,118.2 16.9,117.2 17.9,118.8 19,118.9 20,117.1 21.1,117.7 22.1,118 23.2,117.5 24.2,117.1 25.3,119 26.4,119.7 27.4,119.5 28.5,119.6 29.5,119.7 30.6,118.6 31.6,118.5 32.7,118.1 33.7,117.9 34.8,118.4 35.8,118.3 36.9,118 38,118.9 39,118.7 40.1,118 41.1,118.6 42.2,118.5 43.2,118.2 44.3,117 45.3,117.8 46.4,118.4 47.4,118.6 48.5,118.2 49.5,115.7 50.6,119.7 51.7,117.6 52.7,117.9 53.8,117.4 54.8,119 55.9,116.3 56.9,117.2 58,118.1 59,117.9 60.1,118.7 61.1,118 62.2,118.2 63.2,104.7 64.3,83.1 65.4,76.3 66.4,70.3 67.5,70.8 68.5,67 69.6,59.9 70.6,56.7 71.7,55.3 72.7,56.2 73.8,47.6 74.8,47.8 75.9,49.7 77,46.9 78,41.8 79.1,39.1 80.1,42.2 81.2,35.6 82.2,35.3 83.3,32.2 84.3,29.1 85.4,34.4 86.4,35.9 87.5,26.3 88.5,32.3 89.6,29.7 90.7,29.9 91.7,22 92.8,21.2 93.8,28.6 94.9,23 95.9,21.7 97,30.4 98,25.6 99.1,21.9 100.1,21.7 101.2,26.3 102.3,25 103.3,18.5 104.4,24.1 105.4,17.9 106.5,20.1 107.5,15.8 108.6,19.8 109.6,15 110.7,14.3 111.7,17 112.8,18.7 113.9,16 114.9,20 116,17.9 117,16.9 118.1,8.8 119.1,12 120.2,18.1 121.2,17.9 122.3,11.4 123.3,11.4 124.4,15.3 125.4,17.3 126.5,10.2" fill="none" stroke="#ee6b8e" stroke-width="4.2" stroke-linejoin="round" stroke-linecap="butt" />
</svg>
<line x1="528.45" y1="2049.59" x2="654.95" y2="2049.59" stroke="#000" stroke-width="2.65" stroke-dasharray="9.2 4"/>
<line x1="591.7" y1="2132.85" x2="591.7" y2="2011.75" stroke="#000" stroke-width="2.65" stroke-dasharray="9.2 4"/>
<rect x="528.45" y="2011.75" width="126.5" height="121.1" fill="none" stroke="#000" stroke-width="2.7"/>
<svg x="680.4" y="2011.75" width="126.5" height="121.1" overflow="hidden">
<use href="#ge"/>
<polyline points="0,116.8 1.1,118.3 2.1,117.4 3.2,117.1 4.2,117.6 5.3,117.6 6.3,118.4 7.4,116.9 8.4,117 9.5,118.5 10.5,116.8 11.6,118.6 12.6,117.7 13.7,118.2 14.8,117 15.8,117.9 16.9,116.8 17.9,116 19,117.7 20,117.1 21.1,117.4 22.1,118.8 23.2,118.1 24.2,116.3 25.3,117.3 26.4,118.8 27.4,119.9 28.5,117.9 29.5,118.8 30.6,118.7 31.6,116.5 32.7,119.2 33.7,117.4 34.8,117.1 35.8,118.3 36.9,118 38,117.2 39,118.2 40.1,117.9 41.1,117.6 42.2,116.3 43.2,117.4 44.3,119.2 45.3,117.7 46.4,118.4 47.4,118.8 48.5,118.4 49.5,118 50.6,116.5 51.7,118.7 52.7,117.5 53.8,117.8 54.8,116.7 55.9,117.5 56.9,118.8 58,116.1 59,118.5 60.1,116.5 61.1,117.7 62.2,117.5 63.2,106.3 64.3,108.9 65.4,100.4 66.4,95.4 67.5,89.8 68.5,87.8 69.6,88 70.6,82.7 71.7,81.3 72.7,78.5 73.8,76.5 74.8,73 75.9,72.6 77,72.4 78,73.1 79.1,71.4 80.1,67.6 81.2,72.1 82.2,68.9 83.3,66.2 84.3,68.4 85.4,67.2 86.4,60.3 87.5,68.4 88.5,64.5 89.6,62.2 90.7,61.3 91.7,58.9 92.8,60.1 93.8,61.6 94.9,60.5 95.9,56.3 97,59.6 98,57.2 99.1,60.4 100.1,58.6 101.2,56.1 102.3,53.1 103.3,56.2 104.4,52.9 105.4,52.8 106.5,50.9 107.5,51.7 108.6,52.4 109.6,51.5 110.7,52.3 111.7,50 112.8,49.8 113.9,48.4 114.9,51.2 116,47.7 117,51.6 118.1,47.9 119.1,48.2 120.2,48.4 121.2,47.8 122.3,46.6 123.3,44.1 124.4,47 125.4,46.3 126.5,48" fill="none" stroke="#ee6b8e" stroke-width="4.2" stroke-linejoin="round" stroke-linecap="butt" />
</svg>
<line x1="680.4" y1="2049.59" x2="806.9" y2="2049.59" stroke="#000" stroke-width="2.65" stroke-dasharray="9.2 4"/>
<line x1="743.65" y1="2132.85" x2="743.65" y2="2011.75" stroke="#000" stroke-width="2.65" stroke-dasharray="9.2 4"/>
<rect x="680.4" y="2011.75" width="126.5" height="121.1" fill="none" stroke="#000" stroke-width="2.7"/>
<svg x="832.35" y="2011.75" width="126.5" height="121.1" overflow="hidden">
<use href="#ge"/>
<polyline points="0,117.9 1.1,116.2 2.1,119 3.2,118 4.2,117.4 5.3,116.6 6.3,117.8 7.4,118.6 8.4,118.6 9.5,118.2 10.5,117.4 11.6,117.3 12.6,117.3 13.7,117.5 14.8,117.9 15.8,117.4 16.9,117.7 17.9,118.5 19,118.8 20,117.5 21.1,118.3 22.1,117.8 23.2,117.2 24.2,117.6 25.3,118.4 26.4,117 27.4,117.5 28.5,116.9 29.5,118 30.6,117 31.6,116.3 32.7,117.6 33.7,116.9 34.8,119.3 35.8,116.8 36.9,118.3 38,118.4 39,117.4 40.1,117.6 41.1,117.4 42.2,118.2 43.2,116.3 44.3,117.6 45.3,118.6 46.4,117.7 47.4,118.2 48.5,117.9 49.5,117.8 50.6,116.6 51.7,118 52.7,117.4 53.8,118 54.8,118.4 55.9,117.8 56.9,117.8 58,118 59,117 60.1,117.2 61.1,116.7 62.2,118.1 63.2,106.3 64.3,103.9 65.4,91.6 66.4,83.6 67.5,77.5 68.5,72.1 69.6,70.8 70.6,66.1 71.7,63.4 72.7,58.6 73.8,60.4 74.8,57.2 75.9,51.6 77,56.6 78,51.4 79.1,50.2 80.1,49.3 81.2,47.3 82.2,48.4 83.3,46.4 84.3,46.1 85.4,40.2 86.4,47.8 87.5,42.8 88.5,42.7 89.6,43.2 90.7,41.7 91.7,38 92.8,36 93.8,41.8 94.9,38.4 95.9,37.6 97,37.8 98,34.9 99.1,37.6 100.1,32.8 101.2,34 102.3,34.3 103.3,36.2 104.4,32.7 105.4,31.3 106.5,30.1 107.5,29.3 108.6,31.9 109.6,27.4 110.7,27.6 111.7,27.2 112.8,29.9 113.9,28.2 114.9,27.2 116,24.5 117,27.2 118.1,26.6 119.1,31.4 120.2,26.4 121.2,23.4 122.3,26.2 123.3,25 124.4,25.1 125.4,22.7 126.5,24.3" fill="none" stroke="#ee6b8e" stroke-width="4.2" stroke-linejoin="round" stroke-linecap="butt" />
</svg>
<line x1="832.35" y1="2049.59" x2="958.85" y2="2049.59" stroke="#000" stroke-width="2.65" stroke-dasharray="9.2 4"/>
<line x1="895.6" y1="2132.85" x2="895.6" y2="2011.75" stroke="#000" stroke-width="2.65" stroke-dasharray="9.2 4"/>
<rect x="832.35" y="2011.75" width="126.5" height="121.1" fill="none" stroke="#000" stroke-width="2.7"/>
<svg x="984.3" y="2011.75" width="126.5" height="121.1" overflow="hidden">
<use href="#ge"/>
<polyline points="0,118.7 1.1,118.5 2.1,117.1 3.2,118.1 4.2,116.3 5.3,117.8 6.3,118.6 7.4,117.6 8.4,118.9 9.5,117 10.5,117.8 11.6,117.2 12.6,117.4 13.7,117.2 14.8,117.1 15.8,118.8 16.9,116.8 17.9,117.2 19,117.6 20,117.4 21.1,117.9 22.1,116.9 23.2,117.2 24.2,118.5 25.3,117.9 26.4,117.9 27.4,117.4 28.5,116.9 29.5,117.4 30.6,118.6 31.6,118.7 32.7,117.2 33.7,118.1 34.8,118 35.8,117.5 36.9,117.3 38,118.2 39,117.7 40.1,117.9 41.1,118.4 42.2,117.9 43.2,116.6 44.3,117 45.3,119.1 46.4,118.4 47.4,117.4 48.5,115.9 49.5,117.4 50.6,116.9 51.7,117.7 52.7,117.6 53.8,117.8 54.8,117 55.9,118.6 56.9,119 58,117.8 59,117.6 60.1,116.8 61.1,118.5 62.2,118.8 63.2,106.3 64.3,107.7 65.4,100.3 66.4,93.5 67.5,90.1 68.5,87.7 69.6,81.7 70.6,80.1 71.7,78.6 72.7,79.2 73.8,77 74.8,78.2 75.9,72.6 77,72.4 78,69.9 79.1,65.9 80.1,65.9 81.2,68 82.2,66.8 83.3,61.7 84.3,65.1 85.4,61 86.4,66.7 87.5,60.1 88.5,58.5 89.6,60 90.7,55.6 91.7,54.4 92.8,59 93.8,56 94.9,55 95.9,55.1 97,56.9 98,50.3 99.1,53.8 100.1,49.8 101.2,51.7 102.3,52.7 103.3,47.4 104.4,50.6 105.4,46.6 106.5,49.4 107.5,45.5 108.6,46.9 109.6,46.4 110.7,50.9 111.7,47.2 112.8,45.1 113.8,46.2 114.9,42.8 116,44.8 117,43.8 118.1,43.8 119.1,44.6 120.2,40.3 121.2,43 122.3,43.6 123.3,40.4 124.4,40.6 125.4,39 126.5,40.9" fill="none" stroke="#ee6b8e" stroke-width="4.2" stroke-linejoin="round" stroke-linecap="butt" />
</svg>
<line x1="984.3" y1="2049.59" x2="1110.8" y2="2049.59" stroke="#000" stroke-width="2.65" stroke-dasharray="9.2 4"/>
<line x1="1047.55" y1="2132.85" x2="1047.55" y2="2011.75" stroke="#000" stroke-width="2.65" stroke-dasharray="9.2 4"/>
<rect x="984.3" y="2011.75" width="126.5" height="121.1" fill="none" stroke="#000" stroke-width="2.7"/>
<svg x="1136.25" y="2011.75" width="126.5" height="121.1" overflow="hidden">
<use href="#ge"/>
<polyline points="0,117.4 1.1,116.8 2.1,117.9 3.2,117.3 4.2,118.2 5.3,117.2 6.3,117.4 7.4,117.1 8.4,118.2 9.5,117.3 10.5,118.5 11.6,117.3 12.7,117 13.7,117.1 14.8,118.7 15.8,116.6 16.9,118.4 17.9,117.9 19,118.1 20,118.7 21.1,118.2 22.1,117.5 23.2,118 24.2,118.8 25.3,116.7 26.4,119.5 27.4,117.8 28.5,118.1 29.5,118.4 30.6,118.2 31.6,117.4 32.7,118.7 33.7,117.6 34.8,117.6 35.8,118 36.9,118.7 38,117.5 39,117.7 40.1,117.1 41.1,118.8 42.2,118.3 43.2,117.5 44.3,118.8 45.3,118.6 46.4,115.7 47.4,119.2 48.5,118 49.5,118.9 50.6,116.8 51.7,116.2 52.7,117.5 53.8,118.6 54.8,117.9 55.9,116.4 56.9,117.3 58,119.3 59,118.4 60.1,119.2 61.1,117.8 62.2,117.5 63.2,106.3 64.3,107.2 65.4,98.9 66.4,91.4 67.5,88.5 68.5,84.4 69.6,82.7 70.6,79.3 71.7,77.3 72.7,72.9 73.8,70.4 74.8,69.5 75.9,68.4 77,65.2 78,69.8 79.1,65.8 80.1,64.8 81.2,63.1 82.2,65.6 83.3,62.5 84.3,59.9 85.4,61.5 86.4,57.9 87.5,55.3 88.5,57.2 89.6,60 90.7,55.8 91.7,53.4 92.8,54.1 93.8,52.7 94.9,52.7 95.9,52.8 97,49.9 98,49.1 99.1,51 100.1,48.4 101.2,44.6 102.3,48.7 103.3,47.7 104.4,45.9 105.4,47.1 106.5,46.9 107.5,43 108.6,43.6 109.6,42.4 110.7,45.5 111.7,43.5 112.8,44.5 113.8,39.7 114.9,42.9 116,38.6 117,38.8 118.1,39.3 119.1,35 120.2,35.3 121.2,43.1 122.3,34.6 123.3,34 124.4,36.5 125.4,40.3 126.5,35.7" fill="none" stroke="#ee6b8e" stroke-width="4.2" stroke-linejoin="round" stroke-linecap="butt" />
</svg>
<line x1="1136.25" y1="2049.59" x2="1262.75" y2="2049.59" stroke="#000" stroke-width="2.65" stroke-dasharray="9.2 4"/>
<line x1="1199.5" y1="2132.85" x2="1199.5" y2="2011.75" stroke="#000" stroke-width="2.65" stroke-dasharray="9.2 4"/>
<rect x="1136.25" y="2011.75" width="126.5" height="121.1" fill="none" stroke="#000" stroke-width="2.7"/>
<svg x="1288.2" y="2011.75" width="126.5" height="121.1" overflow="hidden">
<use href="#ge"/>
<polyline points="0,117 1.1,118.1 2.1,117.4 3.2,116.7 4.2,116.5 5.3,117.1 6.3,119 7.4,117.8 8.4,117.8 9.5,118.4 10.5,117.3 11.6,118.1 12.7,116.9 13.7,118.1 14.8,118.3 15.8,118.4 16.9,117.3 17.9,117.2 19,118.9 20,118 21.1,118.4 22.1,117.7 23.2,117.5 24.2,119.2 25.3,117.5 26.4,119.5 27.4,118 28.5,118.1 29.5,116.8 30.6,117.8 31.6,116.7 32.7,117 33.7,118.8 34.8,117.5 35.8,118.7 36.9,118.3 38,116.9 39,117 40.1,118.9 41.1,117.2 42.2,118 43.2,118.2 44.3,117.3 45.3,117.5 46.4,117 47.4,118.6 48.5,118.2 49.5,119.2 50.6,117.9 51.7,117.1 52.7,117.6 53.8,117.1 54.8,116.7 55.9,118.4 56.9,117.3 58,117.9 59,118.1 60.1,117 61.1,116.9 62.2,118.7 63.2,106.3 64.3,106.8 65.4,100.8 66.4,95.8 67.5,90.2 68.5,85.7 69.6,82 70.6,77.8 71.7,77.9 72.7,76.1 73.8,74.5 74.8,72.4 75.9,68.9 77,69.6 78,64.8 79.1,67.6 80.1,67.9 81.2,62.6 82.2,63.5 83.3,65.2 84.3,60.9 85.4,58.7 86.4,62.7 87.5,61.6 88.5,59.8 89.6,53.8 90.7,49.8 91.7,55.4 92.8,54.2 93.8,51.7 94.9,50 95.9,48.7 97,47.7 98,45.7 99.1,52.4 100.1,46.1 101.2,50 102.3,43.1 103.3,43.9 104.4,44.7 105.4,42.1 106.5,41.1 107.5,40.4 108.6,41.7 109.6,42.8 110.7,37.2 111.7,40 112.8,37.9 113.8,36.1 114.9,39.1 116,35 117,38.7 118.1,35.9 119.1,35.2 120.2,36.3 121.2,31.5 122.3,33.7 123.3,36 124.4,30.9 125.4,34.4 126.5,33.5" fill="none" stroke="#ee6b8e" stroke-width="4.2" stroke-linejoin="round" stroke-linecap="butt" />
</svg>
<line x1="1288.2" y1="2049.59" x2="1414.7" y2="2049.59" stroke="#000" stroke-width="2.65" stroke-dasharray="9.2 4"/>
<line x1="1351.45" y1="2132.85" x2="1351.45" y2="2011.75" stroke="#000" stroke-width="2.65" stroke-dasharray="9.2 4"/>
<rect x="1288.2" y="2011.75" width="126.5" height="121.1" fill="none" stroke="#000" stroke-width="2.7"/>
<svg x="1440.15" y="2011.75" width="126.5" height="121.1" overflow="hidden">
<use href="#ge"/>
<polyline points="0,118.7 1.1,118.4 2.1,116.7 3.2,117.7 4.2,117.3 5.3,117 6.3,117.2 7.4,117.3 8.4,119.3 9.5,119.4 10.5,118 11.6,116.9 12.7,116.7 13.7,118.3 14.8,118 15.8,117.6 16.9,115.4 17.9,118.5 19,119 20,117.8 21.1,117.2 22.1,118.5 23.2,116.7 24.2,116.1 25.3,118.7 26.4,116.8 27.4,116.6 28.5,118.3 29.5,116.9 30.6,117.2 31.6,116.6 32.7,117.2 33.7,118.6 34.8,118.4 35.8,117.1 36.9,118.4 38,118.2 39,118.5 40.1,117 41.1,117.5 42.2,117.6 43.2,118.6 44.3,117.6 45.3,118 46.4,117.5 47.4,117.1 48.5,119.1 49.5,118.1 50.6,116.7 51.7,117.2 52.7,117.2 53.8,117.6 54.8,117.1 55.9,118.6 56.9,117.5 58,117.7 59,117.1 60.1,118 61.1,119.2 62.2,118.3 63.2,106.3 64.3,108.4 65.4,100.9 66.4,95.9 67.5,90.4 68.5,88.7 69.6,86.6 70.6,85.9 71.7,82.2 72.7,80.5 73.8,75.8 74.8,75.2 75.9,71 77,71.7 78,69.7 79.1,72.2 80.1,68.2 81.2,66.8 82.2,67.6 83.3,64.4 84.3,66.3 85.4,62.5 86.4,60.4 87.5,62.5 88.5,60.4 89.6,59.2 90.7,62.4 91.7,62 92.8,60.5 93.8,60.4 94.9,57 95.9,57.9 97,58.8 98,54.1 99.1,55.9 100.1,57 101.2,57.3 102.3,54.3 103.3,56.1 104.4,53.2 105.4,50.2 106.5,52 107.5,53.7 108.6,54.1 109.6,48.4 110.7,48.3 111.7,50 112.8,51 113.8,50.4 114.9,46 116,51.4 117,50.6 118.1,45.1 119.1,44.9 120.2,47.2 121.2,44.2 122.3,45.7 123.3,44.6 124.4,47.6 125.4,45.1 126.5,46.6" fill="none" stroke="#ee6b8e" stroke-width="4.2" stroke-linejoin="round" stroke-linecap="butt" />
</svg>
<line x1="1440.15" y1="2049.59" x2="1566.65" y2="2049.59" stroke="#000" stroke-width="2.65" stroke-dasharray="9.2 4"/>
<line x1="1503.4" y1="2132.85" x2="1503.4" y2="2011.75" stroke="#000" stroke-width="2.65" stroke-dasharray="9.2 4"/>
<rect x="1440.15" y="2011.75" width="126.5" height="121.1" fill="none" stroke="#000" stroke-width="2.7"/>
<svg x="1592.1" y="2011.75" width="126.5" height="121.1" overflow="hidden">
<use href="#ge"/>
<polyline points="0,117.3 1.1,115.8 2.1,118.3 3.2,118.6 4.2,117.4 5.3,117 6.3,117.6 7.4,116.4 8.4,116.6 9.5,118.1 10.5,118.9 11.6,115.9 12.7,117.9 13.7,116.6 14.8,118.2 15.8,118.6 16.9,118.6 17.9,117.8 19,117.8 20,117.6 21.1,117.9 22.1,117.5 23.2,118.6 24.2,116.8 25.3,118.9 26.4,117.7 27.4,118 28.5,117.7 29.5,119.4 30.6,118.2 31.6,118.5 32.7,116.3 33.7,116.6 34.8,118.6 35.8,117.2 36.9,118 38,117.2 39,117.8 40.1,117.8 41.1,117.7 42.2,117.5 43.2,116.8 44.3,118.1 45.3,116.5 46.4,117.1 47.4,118.7 48.5,116.9 49.5,118.3 50.6,118 51.7,117.7 52.7,116.8 53.8,117.5 54.8,117.5 55.9,116.4 56.9,118.7 58,118 59,118.5 60.1,117.5 61.1,116.5 62.2,117.5 63.2,106.3 64.3,107.5 65.4,103.5 66.4,97.2 67.5,91.1 68.5,89.9 69.6,90.2 70.6,87.7 71.7,81.9 72.7,80.1 73.8,80.6 74.8,81.5 75.9,74.3 77,77.3 78,74.5 79.1,76.4 80.1,72.1 81.2,75 82.2,72.2 83.3,70.9 84.3,70.9 85.4,72 86.4,68.8 87.5,64.3 88.5,67.8 89.6,64.9 90.7,67.8 91.7,64.8 92.8,63.5 93.8,66.2 94.9,64.4 95.9,62 97,64.4 98,62.2 99.1,58.9 100.1,61.4 101.2,59.5 102.3,58.8 103.3,60 104.4,59.8 105.4,62.1 106.5,57.6 107.5,57.5 108.6,58.9 109.6,59.6 110.7,56.6 111.7,55.9 112.8,60.8 113.8,57.7 114.9,53.5 116,51.2 117,52.1 118.1,53 119.1,49.9 120.2,52.6 121.2,54.2 122.3,55.6 123.3,53.3 124.4,51.9 125.4,51.8 126.5,54.1" fill="none" stroke="#ee6b8e" stroke-width="4.2" stroke-linejoin="round" stroke-linecap="butt" />
</svg>
<line x1="1592.1" y1="2049.59" x2="1718.6" y2="2049.59" stroke="#000" stroke-width="2.65" stroke-dasharray="9.2 4"/>
<line x1="1655.35" y1="2132.85" x2="1655.35" y2="2011.75" stroke="#000" stroke-width="2.65" stroke-dasharray="9.2 4"/>
<rect x="1592.1" y="2011.75" width="126.5" height="121.1" fill="none" stroke="#000" stroke-width="2.7"/>
<svg x="1744.05" y="2011.75" width="126.5" height="121.1" overflow="hidden">
<use href="#ge"/>
<polyline points="0,115.7 1.1,116 2.1,116.6 3.2,116 4.2,115.6 5.3,116.2 6.3,115 7.4,116.7 8.4,116.9 9.5,118.1 10.5,115.9 11.6,117.1 12.7,116.7 13.7,116.8 14.8,117.2 15.8,116.4 16.9,115.8 17.9,116.4 19,116.3 20,115.7 21.1,116.7 22.1,115.7 23.2,116.4 24.2,115.7 25.3,116.2 26.4,116.3 27.4,117.1 28.5,116.4 29.5,115.7 30.6,116.4 31.6,116.8 32.7,115.8 33.7,116.5 34.8,116 35.8,116.9 36.9,116.3 38,117.8 39,116.1 40.1,117.7 41.1,116.1 42.2,115.5 43.2,114.2 44.3,115.6 45.3,117.5 46.4,115.2 47.4,116.6 48.5,115.9 49.5,116.4 50.6,116 51.7,114.8 52.7,117 53.8,116.6 54.8,114.6 55.9,116 56.9,116 58,116.5 59,116.1 60.1,115.8 61.1,116.4 62.2,116.1 63.2,104.8 64.3,108.3 65.4,100 66.4,94.2 67.5,90.9 68.5,86 69.6,85.6 70.6,79.8 71.7,82.6 72.7,81.5 73.8,76.1 74.8,78.7 75.9,76.5 77,75.7 78,75.1 79.1,76.4 80.1,72.9 81.2,72.1 82.2,77.9 83.3,68.1 84.3,69.4 85.4,73.6 86.4,70.3 87.5,70.1 88.5,72.4 89.6,70.2 90.7,69 91.7,71.6 92.8,68.2 93.8,65.2 94.9,68.7 95.9,66.4 97,64.7 98,66.5 99.1,68.8 100.1,69 101.2,68.4 102.3,66.7 103.3,63.5 104.4,65.1 105.4,64.4 106.5,61.9 107.5,65.6 108.6,62.8 109.6,65.8 110.7,62.6 111.7,63.3 112.8,65.4 113.8,64.5 114.9,63.4 116,61.2 117,60.8 118.1,67.4 119.1,67.6 120.2,67.2 121.2,61.7 122.3,60.3 123.3,65.7 124.4,63.7 125.4,61.7 126.5,61.3" fill="none" stroke="#ee6b8e" stroke-width="4.2" stroke-linejoin="round" stroke-linecap="butt" />
</svg>
<line x1="1744.05" y1="2049.59" x2="1870.55" y2="2049.59" stroke="#000" stroke-width="2.65" stroke-dasharray="9.2 4"/>
<line x1="1807.3" y1="2132.85" x2="1807.3" y2="2011.75" stroke="#000" stroke-width="2.65" stroke-dasharray="9.2 4"/>
<rect x="1744.05" y="2011.75" width="126.5" height="121.1" fill="none" stroke="#000" stroke-width="2.7"/>
<text x="942" y="2182.45" text-anchor="middle" font-size="29" font-weight="normal">Time (s)</text>
<text x="37.2" y="1999.42" text-anchor="middle" font-size="29" font-weight="normal" transform="rotate(-90 37.2 1999.42)">F340/F380</text>
<rect x="519.05" y="23" width="146.65" height="144.3" rx="2" fill="none" stroke="#de271d" stroke-width="3" stroke-dasharray="5.3 2.65"/>
<rect x="671.3" y="169.8" width="146.2" height="144" rx="2" fill="none" stroke="#de271d" stroke-width="3" stroke-dasharray="5.3 2.65"/>
<rect x="1430.5" y="169.8" width="146.2" height="144" rx="2" fill="none" stroke="#de271d" stroke-width="3" stroke-dasharray="5.3 2.65"/>
<rect x="62" y="938.3" width="146.5" height="144.1" rx="2" fill="none" stroke="#de271d" stroke-width="3" stroke-dasharray="5.3 2.65"/>
<rect x="365.5" y="938.3" width="146.7" height="144.1" rx="2" fill="none" stroke="#de271d" stroke-width="3" stroke-dasharray="5.3 2.65"/>
<rect x="971.4" y="938.3" width="146.3" height="144.1" rx="2" fill="none" stroke="#de271d" stroke-width="3" stroke-dasharray="5.3 2.65"/>
<rect x="62" y="1849.4" width="146.5" height="144.5" rx="2" fill="none" stroke="#de271d" stroke-width="3" stroke-dasharray="5.3 2.65"/>
<rect x="520.1" y="1849.4" width="146.2" height="144.5" rx="2" fill="none" stroke="#de271d" stroke-width="3" stroke-dasharray="5.3 2.65"/>
<rect x="520.1" y="2001.8" width="146.2" height="144" rx="2" fill="none" stroke="#de271d" stroke-width="3" stroke-dasharray="5.3 2.65"/>
<clipPath id="c1"><rect x="123.4" y="396.4" width="469.7" height="406.4"/></clipPath>
<g clip-path="url(#c1)">
<polyline points="144.8,753.3 148.3,773.1 151.9,772.4 155.4,777.2 159,760 162.5,785.4 166.1,752.2 169.7,774.5 173.2,764.9 176.8,769.9 180.3,754.7 183.9,785.4 187.4,770.6 191,771.1 194.6,757.6 198.1,777.5 201.7,769.2 205.2,775.5 208.8,767.3 212.4,754.1 215.9,777.5 219.5,757.6 223,759.7 226.6,763.2 230.2,759.7 233.7,765.9 237.3,766.7 240.8,776 244.4,770.1 247.9,763 251.5,773.8 255.1,771.2 258.6,773.8 262.2,775.2 265.7,773.7 269.3,767.8 272.9,777.4 276.4,765.6 280,753 283.5,761.1 287.1,769.4 290.6,775.6 294.2,774.3 297.8,752.7 301.3,767.3 304.9,773.4 308.4,766 312,749.1 315.6,766.6 319.1,762.2 322.7,765 326.2,770.8 329.8,777.8 333.3,770.8 336.9,769.6 340.5,762.5 344,760.3 347.6,759.4 351.1,765.2 354.7,759.9 358.2,736.7 361.8,698.2 365.4,680.1 368.9,670.9 372.5,675.3 376,646.9 379.6,643.9 383.2,635.8 386.7,646.2 390.3,632.1 393.8,627.7 397.4,635.4 401,612.2 404.5,615.1 408.1,612.2 411.6,616.6 415.2,618.4 418.7,610.3 422.3,611.4 425.9,600.3 429.4,610.3 433,614 436.5,613.3 440.1,615.9 443.6,629.5 447.2,628.4 450.8,593.3 454.3,615.1 457.9,585.9 461.4,613.3 465,634 468.6,604 472.1,604 475.7,621.4 479.2,627.7 482.8,608.5 486.4,585.2 489.9,592.2 493.5,594.1 497,578.5 500.6,566.7 504.1,592.2 507.7,607.7 511.3,599.6 514.8,618.4 518.4,585.2 521.9,609.6 525.5,574.8 529,571.5 532.6,580.4 536.2,615.9 539.7,584.1 543.3,544.9 546.8,579.6 550.4,585.9 554,562.3 557.5,561.5 561.1,549.4 564.6,571.5 568.2,559.7 571.8,603.7" fill="none" stroke="#828282" stroke-width="4.2" stroke-linejoin="round" stroke-linecap="butt" marker-start="url(#m828282)" marker-mid="url(#m828282)" marker-end="url(#m828282)" />
<polyline points="144.8,765.9 148.3,727.1 151.9,777.7 155.4,748.1 159,769.4 162.5,768.3 166.1,757.3 169.7,771.5 173.2,770 176.8,768.8 180.3,756.9 183.9,735.2 187.4,761.1 191,770.5 194.6,757 198.1,766.3 201.7,761.6 205.2,751.9 208.8,767.5 212.4,761.3 215.9,768.6 219.5,762.7 223,759.3 226.6,769.5 230.2,764.2 233.7,740 237.3,766.6 240.8,771.1 244.4,773 247.9,762.7 251.5,763.6 255.1,743.3 258.6,770.8 262.2,760.5 265.7,757.1 269.3,750.4 272.9,757.3 276.4,768.3 280,761.4 283.5,757 287.1,764 290.6,755.2 294.2,776.6 297.8,747.4 301.3,749.5 304.9,764.1 308.4,738 312,761 315.6,768.2 319.1,760.7 322.7,753.3 326.2,764.5 329.8,764.5 333.3,762 336.9,757.9 340.5,751 344,766.6 347.6,757.3 351.1,759.7 354.7,776.5 358.2,719.3 361.8,672 365.4,675 368.9,653.2 372.5,651.3 376,643.9 379.6,634 383.2,641.3 386.7,647.6 390.3,604.4 393.8,595.2 397.4,590.4 401,587.8 404.5,574.1 408.1,569.7 411.6,566 415.2,526.1 418.7,563.4 422.3,529.8 425.9,567.8 429.4,540.1 433,525 436.5,575.2 440.1,546 443.6,537.9 447.2,556.7 450.8,529.4 454.3,546.4 457.9,518 461.4,508 465,513.5 468.6,547.9 472.1,519.1 475.7,551.2 479.2,529.4 482.8,502.4 486.4,516.8 489.9,509.8 493.5,502.4 497,502.4 500.6,503.9 504.1,499.8 507.7,529.8 511.3,516.8 514.8,518 518.4,485.1 521.9,506.1 525.5,510.6 529,509.8 532.6,515.4 536.2,496.2 539.7,496.9 543.3,458.8 546.8,511.3 550.4,484.3 554,504.3 557.5,467.7 561.1,508.3 564.6,476.6 568.2,467.7 571.8,495" fill="none" stroke="#5cc0a9" stroke-width="4.2" stroke-linejoin="round" stroke-linecap="butt" marker-start="url(#m5cc0a9)" marker-mid="url(#m5cc0a9)" marker-end="url(#m5cc0a9)" />
</g>
<line x1="123.4" y1="544.18" x2="593.1" y2="544.18" stroke="#000" stroke-width="2.65" stroke-dasharray="9.19 3.97"/>
<line x1="358.25" y1="802.8" x2="358.25" y2="396.4" stroke="#000" stroke-width="2.65" stroke-dasharray="9.19 3.97"/>
<rect x="123.4" y="396.4" width="469.7" height="406.4" fill="none" stroke="#000" stroke-width="2.6"/>
<g stroke="#000" stroke-width="2.3">
<line x1="144.75" y1="802.8" x2="144.75" y2="811.2"/>
<line x1="251.5" y1="802.8" x2="251.5" y2="811.2"/>
<line x1="358.25" y1="802.8" x2="358.25" y2="811.2"/>
<line x1="465" y1="802.8" x2="465" y2="811.2"/>
<line x1="571.75" y1="802.8" x2="571.75" y2="811.2"/>
<line x1="123.4" y1="765.85" x2="115" y2="765.85"/>
<line x1="123.4" y1="691.96" x2="115" y2="691.96"/>
<line x1="123.4" y1="618.07" x2="115" y2="618.07"/>
<line x1="123.4" y1="544.18" x2="115" y2="544.18"/>
<line x1="123.4" y1="470.29" x2="115" y2="470.29"/>
<line x1="123.4" y1="396.4" x2="115" y2="396.4"/>
</g>
<text x="144.75" y="848" text-anchor="middle" font-size="29" font-weight="normal">0</text>
<text x="251.5" y="848" text-anchor="middle" font-size="29" font-weight="normal">450</text>
<text x="358.25" y="848" text-anchor="middle" font-size="29" font-weight="normal">900</text>
<text x="465" y="848" text-anchor="middle" font-size="29" font-weight="normal">1350</text>
<text x="571.75" y="848" text-anchor="middle" font-size="29" font-weight="normal">1800</text>
<text x="100.6" y="777.25" text-anchor="end" font-size="29" font-weight="normal">0.6</text>
<text x="100.6" y="703.36" text-anchor="end" font-size="29" font-weight="normal">0.8</text>
<text x="100.6" y="629.47" text-anchor="end" font-size="29" font-weight="normal">1.0</text>
<text x="100.6" y="555.58" text-anchor="end" font-size="29" font-weight="normal">1.2</text>
<text x="100.6" y="481.69" text-anchor="end" font-size="29" font-weight="normal">1.4</text>
<text x="100.6" y="407.8" text-anchor="end" font-size="29" font-weight="normal">1.6</text>
<text x="358.25" y="880.2" text-anchor="middle" font-size="29" font-weight="normal">Time (s)</text>
<text x="40.4" y="599.6" text-anchor="middle" font-size="29" font-weight="normal" transform="rotate(-90 40.4 599.6)">F340/F380</text>
<clipPath id="c2"><rect x="747.15" y="396.4" width="469.7" height="406.4"/></clipPath>
<g clip-path="url(#c2)">
<polyline points="768.5,753.3 772.1,773.1 775.6,772.4 779.2,777.2 782.7,760 786.3,785.4 789.9,752.2 793.4,774.5 797,764.9 800.5,769.9 804.1,754.7 807.6,785.4 811.2,770.6 814.8,771.1 818.3,757.6 821.9,777.5 825.4,769.2 829,775.5 832.5,767.3 836.1,754.1 839.7,777.5 843.2,757.6 846.8,759.7 850.3,763.2 853.9,759.7 857.5,765.9 861,766.7 864.6,776 868.1,770.1 871.7,763 875.2,773.8 878.8,771.2 882.4,773.8 885.9,775.2 889.5,773.7 893,767.8 896.6,777.4 900.2,765.6 903.7,753 907.3,761.1 910.8,769.4 914.4,775.6 918,774.3 921.5,752.7 925.1,767.3 928.6,773.4 932.2,766 935.7,749.1 939.3,766.6 942.9,762.2 946.4,765 950,770.8 953.5,777.8 957.1,770.8 960.6,769.6 964.2,762.5 967.8,760.3 971.3,759.4 974.9,765.2 978.4,759.9 982,736.7 985.6,698.2 989.1,680.1 992.7,670.9 996.2,675.3 999.8,646.9 1003.3,643.9 1006.9,635.8 1010.5,646.2 1014,632.1 1017.6,627.7 1021.1,635.4 1024.7,612.2 1028.3,615.1 1031.8,612.2 1035.4,616.6 1038.9,618.4 1042.5,610.3 1046,611.4 1049.6,600.3 1053.2,610.3 1056.7,614 1060.3,613.3 1063.8,615.9 1067.4,629.5 1071,628.4 1074.5,593.3 1078.1,615.1 1081.6,585.9 1085.2,613.3 1088.8,634 1092.3,604 1095.9,604 1099.4,621.4 1103,627.7 1106.5,608.5 1110.1,585.2 1113.7,592.2 1117.2,594.1 1120.8,578.5 1124.3,566.7 1127.9,592.2 1131.5,607.7 1135,599.6 1138.6,618.4 1142.1,585.2 1145.7,609.6 1149.2,574.8 1152.8,571.5 1156.4,580.4 1159.9,615.9 1163.5,584.1 1167,544.9 1170.6,579.6 1174.2,585.9 1177.7,562.3 1181.3,561.5 1184.8,549.4 1188.4,571.5 1191.9,559.7 1195.5,603.7" fill="none" stroke="#828282" stroke-width="4.2" stroke-linejoin="round" stroke-linecap="butt" marker-start="url(#m828282)" marker-mid="url(#m828282)" marker-end="url(#m828282)" />
<polyline points="768.5,746.6 772.1,762.6 775.6,765.1 779.2,778.8 782.7,767.9 786.3,768.5 789.9,749.2 793.4,770.5 797,766.2 800.5,769.4 804.1,775.6 807.6,759.3 811.2,759.3 814.8,752.5 818.3,765.5 821.9,762.4 825.4,769.9 829,777.3 832.5,758.6 836.1,774 839.7,774.6 843.2,767.4 846.8,754.9 850.3,764.1 853.9,773.4 857.5,771.1 861,761.2 864.6,767 868.1,771.5 871.7,767.6 875.2,760.3 878.8,751.3 882.4,775 885.9,770.5 889.5,771.8 893,780.6 896.6,772.7 900.2,773.4 903.7,757.5 907.3,780.6 910.8,745.5 914.4,761.1 918,768.5 921.5,778.7 925.1,770.3 928.6,770.2 932.2,772.3 935.7,765.6 939.3,780.6 942.9,767.8 946.4,758.4 950,759.6 953.5,757.7 957.1,757.6 960.6,754.9 964.2,774.1 967.8,759.6 971.3,779.6 974.9,770.3 978.4,780 982,715.6 985.6,632.1 989.1,632.1 992.7,635.1 996.2,633.2 999.8,612.2 1003.3,621.4 1006.9,563.8 1010.5,566.3 1014,583.3 1017.6,585.6 1021.1,570 1024.7,546.4 1028.3,545.7 1031.8,559.7 1035.4,545.7 1038.9,574.1 1042.5,562.3 1046,550.1 1049.6,550.1 1053.2,513.5 1056.7,534.9 1060.3,544.9 1063.8,539.7 1067.4,534.6 1071,554.2 1074.5,537.2 1078.1,522.4 1081.6,534.6 1085.2,528.7 1088.8,506.1 1092.3,544.2 1095.9,518 1099.4,534.6 1103,508.3 1106.5,514.6 1110.1,522.8 1113.7,525 1117.2,516.8 1120.8,513.5 1124.3,505 1127.9,511.7 1131.5,510.2 1135,514.3 1138.6,482.5 1142.1,480.3 1145.7,511.3 1149.2,490.6 1152.8,511.3 1156.4,530.5 1159.9,520.2 1163.5,496.9 1167,472.1 1170.6,469.9 1174.2,489.5 1177.7,494.3 1181.3,458.1 1184.8,457 1188.4,472.9 1191.9,486.9 1195.5,485.1" fill="none" stroke="#5cc0a9" stroke-width="4.2" stroke-linejoin="round" stroke-linecap="butt" marker-start="url(#m5cc0a9)" marker-mid="url(#m5cc0a9)" marker-end="url(#m5cc0a9)" />
</g>
<line x1="747.15" y1="544.18" x2="1216.85" y2="544.18" stroke="#000" stroke-width="2.65" stroke-dasharray="9.19 3.97"/>
<line x1="982" y1="802.8" x2="982" y2="396.4" stroke="#000" stroke-width="2.65" stroke-dasharray="9.19 3.97"/>
<rect x="747.15" y="396.4" width="469.7" height="406.4" fill="none" stroke="#000" stroke-width="2.6"/>
<g stroke="#000" stroke-width="2.3">
<line x1="768.5" y1="802.8" x2="768.5" y2="811.2"/>
<line x1="875.25" y1="802.8" x2="875.25" y2="811.2"/>
<line x1="982" y1="802.8" x2="982" y2="811.2"/>
<line x1="1088.75" y1="802.8" x2="1088.75" y2="811.2"/>
<line x1="1195.5" y1="802.8" x2="1195.5" y2="811.2"/>
<line x1="747.15" y1="765.85" x2="738.75" y2="765.85"/>
<line x1="747.15" y1="691.96" x2="738.75" y2="691.96"/>
<line x1="747.15" y1="618.07" x2="738.75" y2="618.07"/>
<line x1="747.15" y1="544.18" x2="738.75" y2="544.18"/>
<line x1="747.15" y1="470.29" x2="738.75" y2="470.29"/>
<line x1="747.15" y1="396.4" x2="738.75" y2="396.4"/>
</g>
<text x="768.5" y="848" text-anchor="middle" font-size="29" font-weight="normal">0</text>
<text x="875.25" y="848" text-anchor="middle" font-size="29" font-weight="normal">450</text>
<text x="982" y="848" text-anchor="middle" font-size="29" font-weight="normal">900</text>
<text x="1088.75" y="848" text-anchor="middle" font-size="29" font-weight="normal">1350</text>
<text x="1195.5" y="848" text-anchor="middle" font-size="29" font-weight="normal">1800</text>
<text x="724.35" y="777.25" text-anchor="end" font-size="29" font-weight="normal">0.6</text>
<text x="724.35" y="703.36" text-anchor="end" font-size="29" font-weight="normal">0.8</text>
<text x="724.35" y="629.47" text-anchor="end" font-size="29" font-weight="normal">1.0</text>
<text x="724.35" y="555.58" text-anchor="end" font-size="29" font-weight="normal">1.2</text>
<text x="724.35" y="481.69" text-anchor="end" font-size="29" font-weight="normal">1.4</text>
<text x="724.35" y="407.8" text-anchor="end" font-size="29" font-weight="normal">1.6</text>
<text x="982" y="880.2" text-anchor="middle" font-size="29" font-weight="normal">Time (s)</text>
<text x="664.15" y="599.6" text-anchor="middle" font-size="29" font-weight="normal" transform="rotate(-90 664.15 599.6)">F340/F380</text>
<clipPath id="c3"><rect x="1371.2" y="396.4" width="469.7" height="406.4"/></clipPath>
<g clip-path="url(#c3)">
<polyline points="1392.5,753.3 1396.1,773.1 1399.7,772.4 1403.2,777.2 1406.8,760 1410.3,785.4 1413.9,752.2 1417.5,774.5 1421,764.9 1424.6,769.9 1428.1,754.7 1431.7,785.4 1435.2,770.6 1438.8,771.1 1442.4,757.6 1445.9,777.5 1449.5,769.2 1453,775.5 1456.6,767.3 1460.2,754.1 1463.7,777.5 1467.3,757.6 1470.8,759.7 1474.4,763.2 1478,759.7 1481.5,765.9 1485.1,766.7 1488.6,776 1492.2,770.1 1495.7,763 1499.3,773.8 1502.9,771.2 1506.4,773.8 1510,775.2 1513.5,773.7 1517.1,767.8 1520.7,777.4 1524.2,765.6 1527.8,753 1531.3,761.1 1534.9,769.4 1538.4,775.6 1542,774.3 1545.6,752.7 1549.1,767.3 1552.7,773.4 1556.2,766 1559.8,749.1 1563.4,766.6 1566.9,762.2 1570.5,765 1574,770.8 1577.6,777.8 1581.1,770.8 1584.7,769.6 1588.3,762.5 1591.8,760.3 1595.4,759.4 1598.9,765.2 1602.5,759.9 1606,736.7 1609.6,698.2 1613.2,680.1 1616.7,670.9 1620.3,675.3 1623.8,646.9 1627.4,643.9 1631,635.8 1634.5,646.2 1638.1,632.1 1641.6,627.7 1645.2,635.4 1648.8,612.2 1652.3,615.1 1655.9,612.2 1659.4,616.6 1663,618.4 1666.5,610.3 1670.1,611.4 1673.7,600.3 1677.2,610.3 1680.8,614 1684.3,613.3 1687.9,615.9 1691.5,629.5 1695,628.4 1698.6,593.3 1702.1,615.1 1705.7,585.9 1709.2,613.3 1712.8,634 1716.4,604 1719.9,604 1723.5,621.4 1727,627.7 1730.6,608.5 1734.2,585.2 1737.7,592.2 1741.3,594.1 1744.8,578.5 1748.4,566.7 1751.9,592.2 1755.5,607.7 1759.1,599.6 1762.6,618.4 1766.2,585.2 1769.7,609.6 1773.3,574.8 1776.8,571.5 1780.4,580.4 1784,615.9 1787.5,584.1 1791.1,544.9 1794.6,579.6 1798.2,585.9 1801.8,562.3 1805.3,561.5 1808.9,549.4 1812.4,571.5 1816,559.7 1819.6,603.7" fill="none" stroke="#828282" stroke-width="4.2" stroke-linejoin="round" stroke-linecap="butt" marker-start="url(#m828282)" marker-mid="url(#m828282)" marker-end="url(#m828282)" />
<polyline points="1392.5,771 1396.1,767.3 1399.7,779.5 1403.2,765.8 1406.8,774.8 1410.3,784.3 1413.9,776.7 1417.5,766.5 1421,768.7 1424.6,780.7 1428.1,766.4 1431.7,772.1 1435.2,767.9 1438.8,768.7 1442.4,773.1 1445.9,768.5 1449.5,776.3 1453,758.8 1456.6,765.5 1460.2,771 1463.7,779.4 1467.3,771 1470.8,770.1 1474.4,781.2 1478,753.3 1481.5,768.2 1485.1,757.6 1488.6,780.4 1492.2,758.1 1495.7,782.5 1499.3,776.7 1502.9,767 1506.4,786.2 1510,787.7 1513.5,780.4 1517.1,764.6 1520.7,754.4 1524.2,764 1527.8,773.6 1531.3,764.9 1534.9,780.7 1538.4,767.3 1542,782.3 1545.6,771.5 1549.1,770.2 1552.7,764.9 1556.2,773.9 1559.8,761.6 1563.4,767.7 1566.9,764.6 1570.5,765 1574,786.4 1577.6,771.1 1581.1,771.1 1584.7,777.7 1588.3,769.9 1591.8,786.2 1595.4,766.9 1598.9,767.3 1602.5,763 1606,743.7 1609.6,676.8 1613.2,675.3 1616.7,667.6 1620.3,675.3 1623.8,641.3 1627.4,630.3 1631,636.5 1634.5,626.6 1638.1,615.9 1641.6,598.1 1645.2,604.4 1648.8,583.3 1652.3,585.6 1655.9,591.5 1659.4,554.5 1663,579.6 1666.5,581.9 1670.1,596.6 1673.7,600.3 1677.2,562.7 1680.8,551.9 1684.3,564.9 1687.9,561.9 1691.5,555.3 1695,552.3 1698.6,522.8 1702.1,566 1705.7,534.2 1709.2,566.3 1712.8,542 1716.4,525 1719.9,537.9 1723.5,513.5 1727,524.6 1730.6,509.8 1734.2,524.6 1737.7,534.6 1741.3,529.4 1744.8,540.9 1748.4,529.8 1751.9,531.3 1755.5,540.1 1759.1,519.1 1762.6,508.7 1766.2,544.6 1769.7,518 1773.3,515 1776.8,514.6 1780.4,499.8 1784,501 1787.5,486.9 1791.1,499.1 1794.6,492.1 1798.2,506.9 1801.8,486.5 1805.3,488.8 1808.9,456.6 1812.4,495 1816,461.8 1819.6,456.3" fill="none" stroke="#5cc0a9" stroke-width="4.2" stroke-linejoin="round" stroke-linecap="butt" marker-start="url(#m5cc0a9)" marker-mid="url(#m5cc0a9)" marker-end="url(#m5cc0a9)" />
</g>
<line x1="1371.2" y1="544.18" x2="1840.9" y2="544.18" stroke="#000" stroke-width="2.65" stroke-dasharray="9.19 3.97"/>
<line x1="1606.05" y1="802.8" x2="1606.05" y2="396.4" stroke="#000" stroke-width="2.65" stroke-dasharray="9.19 3.97"/>
<rect x="1371.2" y="396.4" width="469.7" height="406.4" fill="none" stroke="#000" stroke-width="2.6"/>
<g stroke="#000" stroke-width="2.3">
<line x1="1392.55" y1="802.8" x2="1392.55" y2="811.2"/>
<line x1="1499.3" y1="802.8" x2="1499.3" y2="811.2"/>
<line x1="1606.05" y1="802.8" x2="1606.05" y2="811.2"/>
<line x1="1712.8" y1="802.8" x2="1712.8" y2="811.2"/>
<line x1="1819.55" y1="802.8" x2="1819.55" y2="811.2"/>
<line x1="1371.2" y1="765.85" x2="1362.8" y2="765.85"/>
<line x1="1371.2" y1="691.96" x2="1362.8" y2="691.96"/>
<line x1="1371.2" y1="618.07" x2="1362.8" y2="618.07"/>
<line x1="1371.2" y1="544.18" x2="1362.8" y2="544.18"/>
<line x1="1371.2" y1="470.29" x2="1362.8" y2="470.29"/>
<line x1="1371.2" y1="396.4" x2="1362.8" y2="396.4"/>
</g>
<text x="1392.55" y="848" text-anchor="middle" font-size="29" font-weight="normal">0</text>
<text x="1499.3" y="848" text-anchor="middle" font-size="29" font-weight="normal">450</text>
<text x="1606.05" y="848" text-anchor="middle" font-size="29" font-weight="normal">900</text>
<text x="1712.8" y="848" text-anchor="middle" font-size="29" font-weight="normal">1350</text>
<text x="1819.55" y="848" text-anchor="middle" font-size="29" font-weight="normal">1800</text>
<text x="1348.4" y="777.25" text-anchor="end" font-size="29" font-weight="normal">0.6</text>
<text x="1348.4" y="703.36" text-anchor="end" font-size="29" font-weight="normal">0.8</text>
<text x="1348.4" y="629.47" text-anchor="end" font-size="29" font-weight="normal">1.0</text>
<text x="1348.4" y="555.58" text-anchor="end" font-size="29" font-weight="normal">1.2</text>
<text x="1348.4" y="481.69" text-anchor="end" font-size="29" font-weight="normal">1.4</text>
<text x="1348.4" y="407.8" text-anchor="end" font-size="29" font-weight="normal">1.6</text>
<text x="1606.05" y="880.2" text-anchor="middle" font-size="29" font-weight="normal">Time (s)</text>
<text x="1288.2" y="599.6" text-anchor="middle" font-size="29" font-weight="normal" transform="rotate(-90 1288.2 599.6)">F340/F380</text>
<clipPath id="c4"><rect x="123.4" y="1315.2" width="469.7" height="406.5"/></clipPath>
<g clip-path="url(#c4)">
<polyline points="144.8,1692.1 148.3,1697.4 151.9,1679.3 155.4,1696.9 159,1694.4 162.5,1684.2 166.1,1701.4 169.7,1699.2 173.2,1693.8 176.8,1713.9 180.3,1703.3 183.9,1696.5 187.4,1697.6 191,1691 194.6,1706.6 198.1,1699.9 201.7,1687.2 205.2,1682.3 208.8,1705.5 212.4,1690.7 215.9,1701.9 219.5,1701 223,1701.1 226.6,1698 230.2,1688.3 233.7,1690.2 237.3,1692.6 240.8,1697.6 244.4,1695.1 247.9,1695.8 251.5,1689.7 255.1,1699.5 258.6,1695.2 262.2,1695.8 265.7,1695.5 269.3,1693.4 272.9,1693.8 276.4,1685.9 280,1695.7 283.5,1684.4 287.1,1697.2 290.6,1698.4 294.2,1694.4 297.8,1692.7 301.3,1693.3 304.9,1686.2 308.4,1687.3 312,1691.7 315.6,1697.4 319.1,1695.8 322.7,1685.4 326.2,1693.6 329.8,1704.1 333.3,1699.9 336.9,1693.6 340.5,1687.2 344,1689.1 347.6,1679.6 351.1,1685.5 354.7,1694.3 358.2,1675.7 361.8,1665.4 365.4,1642.6 368.9,1632 372.5,1641.7 376,1632.9 379.6,1607.3 383.2,1615.4 386.7,1613.8 390.3,1621.6 393.8,1592.6 397.4,1590.1 401,1587.6 404.5,1585.4 408.1,1567.5 411.6,1602.6 415.2,1575 418.7,1585.1 422.3,1561 425.9,1583.2 429.4,1570.7 433,1581 436.5,1568.8 440.1,1583.5 443.6,1579.4 447.2,1571.3 450.8,1573.2 454.3,1585.4 457.9,1566.3 461.4,1568.2 465,1551.9 468.6,1559.7 472.1,1577.5 475.7,1581.3 479.2,1563.2 482.8,1568.2 486.4,1567.5 489.9,1552.2 493.5,1549.1 497,1563.5 500.6,1534.1 504.1,1562.9 507.7,1537.8 511.3,1556.3 514.8,1546.9 518.4,1565 521.9,1566.3 525.5,1553.2 529,1569.4 532.6,1559.1 536.2,1552.2 539.7,1564.1 543.3,1551.9 546.8,1560.4 550.4,1538.1 554,1530 557.5,1541.3 561.1,1543.2 564.6,1546.3 568.2,1549.1 571.8,1531.9" fill="none" stroke="#828282" stroke-width="4.2" stroke-linejoin="round" stroke-linecap="butt" marker-start="url(#m828282)" marker-mid="url(#m828282)" marker-end="url(#m828282)" />
<polyline points="144.8,1697.1 148.3,1690.6 151.9,1681.4 155.4,1700.7 159,1707.6 162.5,1689.4 166.1,1682.3 169.7,1704.6 173.2,1684.9 176.8,1697.8 180.3,1680.7 183.9,1691.4 187.4,1697.2 191,1687.4 194.6,1694.4 198.1,1694.3 201.7,1694.6 205.2,1696.1 208.8,1691.2 212.4,1690.1 215.9,1692.9 219.5,1683.8 223,1703.6 226.6,1698 230.2,1690 233.7,1700.8 237.3,1685.3 240.8,1690.7 244.4,1696.3 247.9,1691.8 251.5,1698.8 255.1,1704.4 258.6,1689.8 262.2,1685.3 265.7,1694.4 269.3,1695.3 272.9,1707.6 276.4,1700.3 280,1698 283.5,1693.7 287.1,1686.5 290.6,1698.4 294.2,1700 297.8,1689.1 301.3,1695.9 304.9,1703.7 308.4,1687.5 312,1700.5 315.6,1698.6 319.1,1701.6 322.7,1692.9 326.2,1688.4 329.8,1697.5 333.3,1692.6 336.9,1698.1 340.5,1680.7 344,1685.7 347.6,1698.8 351.1,1691.8 354.7,1689.2 358.2,1650.7 361.8,1582.2 365.4,1564.7 368.9,1564.1 372.5,1545.3 376,1534.1 379.6,1526.6 383.2,1541 386.7,1530.3 390.3,1507.2 393.8,1508.4 397.4,1493.7 401,1458.1 404.5,1481.2 408.1,1508.4 411.6,1472.5 415.2,1439.7 418.7,1477.8 422.3,1449 425.9,1482.5 429.4,1451.5 433,1475 436.5,1459.4 440.1,1481.6 443.6,1440 447.2,1453.4 450.8,1464.7 454.3,1455.3 457.9,1436.5 461.4,1445.6 465,1469 468.6,1477.5 472.1,1447.5 475.7,1434 479.2,1433.4 482.8,1414 486.4,1447.5 489.9,1438.7 493.5,1454.7 497,1425.3 500.6,1411.5 504.1,1441.2 507.7,1429.6 511.3,1435.6 514.8,1437.2 518.4,1443.1 521.9,1450.3 525.5,1431.5 529,1415.9 532.6,1444.3 536.2,1423.4 539.7,1412.8 543.3,1408.1 546.8,1377.7 550.4,1417.5 554,1413.4 557.5,1433.4 561.1,1404.3 564.6,1402.4 568.2,1414.3 571.8,1389.3" fill="none" stroke="#3f85c4" stroke-width="4.2" stroke-linejoin="round" stroke-linecap="butt" marker-start="url(#m3f85c4)" marker-mid="url(#m3f85c4)" marker-end="url(#m3f85c4)" />
</g>
<line x1="123.4" y1="1534.08" x2="593.1" y2="1534.08" stroke="#000" stroke-width="2.65" stroke-dasharray="9.19 3.97"/>
<line x1="358.25" y1="1721.7" x2="358.25" y2="1315.2" stroke="#000" stroke-width="2.65" stroke-dasharray="9.19 3.97"/>
<rect x="123.4" y="1315.2" width="469.7" height="406.5" fill="none" stroke="#000" stroke-width="2.6"/>
<g stroke="#000" stroke-width="2.3">
<line x1="144.75" y1="1721.7" x2="144.75" y2="1730.1"/>
<line x1="251.5" y1="1721.7" x2="251.5" y2="1730.1"/>
<line x1="358.25" y1="1721.7" x2="358.25" y2="1730.1"/>
<line x1="465" y1="1721.7" x2="465" y2="1730.1"/>
<line x1="571.75" y1="1721.7" x2="571.75" y2="1730.1"/>
<line x1="123.4" y1="1690.43" x2="115" y2="1690.43"/>
<line x1="123.4" y1="1627.89" x2="115" y2="1627.89"/>
<line x1="123.4" y1="1565.35" x2="115" y2="1565.35"/>
<line x1="123.4" y1="1502.82" x2="115" y2="1502.82"/>
<line x1="123.4" y1="1440.28" x2="115" y2="1440.28"/>
<line x1="123.4" y1="1377.74" x2="115" y2="1377.74"/>
<line x1="123.4" y1="1315.2" x2="115" y2="1315.2"/>
</g>
<text x="144.75" y="1766.9" text-anchor="middle" font-size="29" font-weight="normal">0</text>
<text x="251.5" y="1766.9" text-anchor="middle" font-size="29" font-weight="normal">450</text>
<text x="358.25" y="1766.9" text-anchor="middle" font-size="29" font-weight="normal">900</text>
<text x="465" y="1766.9" text-anchor="middle" font-size="29" font-weight="normal">1350</text>
<text x="571.75" y="1766.9" text-anchor="middle" font-size="29" font-weight="normal">1800</text>
<text x="100.6" y="1701.83" text-anchor="end" font-size="29" font-weight="normal">0.6</text>
<text x="100.6" y="1639.29" text-anchor="end" font-size="29" font-weight="normal">0.8</text>
<text x="100.6" y="1576.75" text-anchor="end" font-size="29" font-weight="normal">1.0</text>
<text x="100.6" y="1514.22" text-anchor="end" font-size="29" font-weight="normal">1.2</text>
<text x="100.6" y="1451.68" text-anchor="end" font-size="29" font-weight="normal">1.4</text>
<text x="100.6" y="1389.14" text-anchor="end" font-size="29" font-weight="normal">1.6</text>
<text x="100.6" y="1326.6" text-anchor="end" font-size="29" font-weight="normal">1.8</text>
<text x="358.25" y="1799.1" text-anchor="middle" font-size="29" font-weight="normal">Time (s)</text>
<text x="40.4" y="1518.45" text-anchor="middle" font-size="29" font-weight="normal" transform="rotate(-90 40.4 1518.45)">F340/F380</text>
<clipPath id="c5"><rect x="747.15" y="1315.2" width="469.7" height="406.5"/></clipPath>
<g clip-path="url(#c5)">
<polyline points="768.5,1692.1 772.1,1697.4 775.6,1679.3 779.2,1696.9 782.7,1694.4 786.3,1684.2 789.9,1701.4 793.4,1699.2 797,1693.8 800.5,1713.9 804.1,1703.3 807.6,1696.5 811.2,1697.6 814.8,1691 818.3,1706.6 821.9,1699.9 825.4,1687.2 829,1682.3 832.5,1705.5 836.1,1690.7 839.7,1701.9 843.2,1701 846.8,1701.1 850.3,1698 853.9,1688.3 857.5,1690.2 861,1692.6 864.6,1697.6 868.1,1695.1 871.7,1695.8 875.2,1689.7 878.8,1699.5 882.4,1695.2 885.9,1695.8 889.5,1695.5 893,1693.4 896.6,1693.8 900.2,1685.9 903.7,1695.7 907.3,1684.4 910.8,1697.2 914.4,1698.4 918,1694.4 921.5,1692.7 925.1,1693.3 928.6,1686.2 932.2,1687.3 935.7,1691.7 939.3,1697.4 942.9,1695.8 946.4,1685.4 950,1693.6 953.5,1704.1 957.1,1699.9 960.6,1693.6 964.2,1687.2 967.8,1689.1 971.3,1679.6 974.9,1685.5 978.4,1694.3 982,1675.7 985.6,1665.4 989.1,1642.6 992.7,1632 996.2,1641.7 999.8,1632.9 1003.3,1607.3 1006.9,1615.4 1010.5,1613.8 1014,1621.6 1017.6,1592.6 1021.1,1590.1 1024.7,1587.6 1028.3,1585.4 1031.8,1567.5 1035.4,1602.6 1038.9,1575 1042.5,1585.1 1046,1561 1049.6,1583.2 1053.2,1570.7 1056.7,1581 1060.3,1568.8 1063.8,1583.5 1067.4,1579.4 1071,1571.3 1074.5,1573.2 1078.1,1585.4 1081.6,1566.3 1085.2,1568.2 1088.8,1551.9 1092.3,1559.7 1095.9,1577.5 1099.4,1581.3 1103,1563.2 1106.5,1568.2 1110.1,1567.5 1113.7,1552.2 1117.2,1549.1 1120.8,1563.5 1124.3,1534.1 1127.9,1562.9 1131.5,1537.8 1135,1556.3 1138.6,1546.9 1142.1,1565 1145.7,1566.3 1149.2,1553.2 1152.8,1569.4 1156.4,1559.1 1159.9,1552.2 1163.5,1564.1 1167,1551.9 1170.6,1560.4 1174.2,1538.1 1177.7,1530 1181.3,1541.3 1184.8,1543.2 1188.4,1546.3 1191.9,1549.1 1195.5,1531.9" fill="none" stroke="#828282" stroke-width="4.2" stroke-linejoin="round" stroke-linecap="butt" marker-start="url(#m828282)" marker-mid="url(#m828282)" marker-end="url(#m828282)" />
<polyline points="768.5,1684.5 772.1,1698 775.6,1690.7 779.2,1692.6 782.7,1700.1 786.3,1695.1 789.9,1695.1 793.4,1706.1 797,1688.8 800.5,1691.4 804.1,1699 807.6,1696.2 811.2,1692 814.8,1696.8 818.3,1696.6 821.9,1704.2 825.4,1686.2 829,1694.3 832.5,1693.1 836.1,1704.7 839.7,1684.8 843.2,1694.2 846.8,1697.5 850.3,1682.4 853.9,1695.4 857.5,1704.2 861,1697.7 864.6,1707.6 868.1,1688.6 871.7,1697.7 875.2,1699.8 878.8,1688.4 882.4,1705.4 885.9,1691.8 889.5,1707.6 893,1699.3 896.6,1702.7 900.2,1686 903.7,1684.1 907.3,1697.2 910.8,1689.9 914.4,1696.2 918,1691.6 921.5,1699.8 925.1,1705.8 928.6,1706.4 932.2,1692.7 935.7,1681.1 939.3,1693.4 942.9,1698.4 946.4,1683.2 950,1693.6 953.5,1680.4 957.1,1693.5 960.6,1695.9 964.2,1697.1 967.8,1704.1 971.3,1692 974.9,1695.7 978.4,1687.7 982,1662 985.6,1628.5 989.1,1591.3 992.7,1600.4 996.2,1581 999.8,1585.1 1003.3,1595.7 1006.9,1569.4 1010.5,1577.9 1014,1553.2 1017.6,1540.3 1021.1,1549.4 1024.7,1550.7 1028.3,1527.2 1031.8,1535 1035.4,1531 1038.9,1515.9 1042.5,1507.8 1046,1508.8 1049.6,1490.3 1053.2,1501.6 1056.7,1509.7 1060.3,1497.5 1063.8,1501.9 1067.4,1489.7 1071,1481.2 1074.5,1499.7 1078.1,1479.7 1081.6,1468.7 1085.2,1491.9 1088.8,1479.7 1092.3,1456.5 1095.9,1479.7 1099.4,1495 1103,1483.7 1106.5,1462.8 1110.1,1462.8 1113.7,1462.8 1117.2,1494.1 1120.8,1500.9 1124.3,1452.8 1127.9,1466.9 1131.5,1484.1 1135,1482.8 1138.6,1457.5 1142.1,1426.5 1145.7,1482.8 1149.2,1464.4 1152.8,1441.5 1156.4,1444.7 1159.9,1453.4 1163.5,1451.5 1167,1484.1 1170.6,1475.9 1174.2,1464.4 1177.7,1429.3 1181.3,1446.5 1184.8,1445.6 1188.4,1436.8 1191.9,1464.4 1195.5,1438.7" fill="none" stroke="#3f85c4" stroke-width="4.2" stroke-linejoin="round" stroke-linecap="butt" marker-start="url(#m3f85c4)" marker-mid="url(#m3f85c4)" marker-end="url(#m3f85c4)" />
</g>
<line x1="747.15" y1="1534.08" x2="1216.85" y2="1534.08" stroke="#000" stroke-width="2.65" stroke-dasharray="9.19 3.97"/>
<line x1="982" y1="1721.7" x2="982" y2="1315.2" stroke="#000" stroke-width="2.65" stroke-dasharray="9.19 3.97"/>
<rect x="747.15" y="1315.2" width="469.7" height="406.5" fill="none" stroke="#000" stroke-width="2.6"/>
<g stroke="#000" stroke-width="2.3">
<line x1="768.5" y1="1721.7" x2="768.5" y2="1730.1"/>
<line x1="875.25" y1="1721.7" x2="875.25" y2="1730.1"/>
<line x1="982" y1="1721.7" x2="982" y2="1730.1"/>
<line x1="1088.75" y1="1721.7" x2="1088.75" y2="1730.1"/>
<line x1="1195.5" y1="1721.7" x2="1195.5" y2="1730.1"/>
<line x1="747.15" y1="1690.43" x2="738.75" y2="1690.43"/>
<line x1="747.15" y1="1627.89" x2="738.75" y2="1627.89"/>
<line x1="747.15" y1="1565.35" x2="738.75" y2="1565.35"/>
<line x1="747.15" y1="1502.82" x2="738.75" y2="1502.82"/>
<line x1="747.15" y1="1440.28" x2="738.75" y2="1440.28"/>
<line x1="747.15" y1="1377.74" x2="738.75" y2="1377.74"/>
<line x1="747.15" y1="1315.2" x2="738.75" y2="1315.2"/>
</g>
<text x="768.5" y="1766.9" text-anchor="middle" font-size="29" font-weight="normal">0</text>
<text x="875.25" y="1766.9" text-anchor="middle" font-size="29" font-weight="normal">450</text>
<text x="982" y="1766.9" text-anchor="middle" font-size="29" font-weight="normal">900</text>
<text x="1088.75" y="1766.9" text-anchor="middle" font-size="29" font-weight="normal">1350</text>
<text x="1195.5" y="1766.9" text-anchor="middle" font-size="29" font-weight="normal">1800</text>
<text x="724.35" y="1701.83" text-anchor="end" font-size="29" font-weight="normal">0.6</text>
<text x="724.35" y="1639.29" text-anchor="end" font-size="29" font-weight="normal">0.8</text>
<text x="724.35" y="1576.75" text-anchor="end" font-size="29" font-weight="normal">1.0</text>
<text x="724.35" y="1514.22" text-anchor="end" font-size="29" font-weight="normal">1.2</text>
<text x="724.35" y="1451.68" text-anchor="end" font-size="29" font-weight="normal">1.4</text>
<text x="724.35" y="1389.14" text-anchor="end" font-size="29" font-weight="normal">1.6</text>
<text x="724.35" y="1326.6" text-anchor="end" font-size="29" font-weight="normal">1.8</text>
<text x="982" y="1799.1" text-anchor="middle" font-size="29" font-weight="normal">Time (s)</text>
<text x="664.15" y="1518.45" text-anchor="middle" font-size="29" font-weight="normal" transform="rotate(-90 664.15 1518.45)">F340/F380</text>
<clipPath id="c6"><rect x="1371.2" y="1315.2" width="469.7" height="406.5"/></clipPath>
<g clip-path="url(#c6)">
<polyline points="1392.5,1692.1 1396.1,1697.4 1399.7,1679.3 1403.2,1696.9 1406.8,1694.4 1410.3,1684.2 1413.9,1701.4 1417.5,1699.2 1421,1693.8 1424.6,1713.9 1428.1,1703.3 1431.7,1696.5 1435.2,1697.6 1438.8,1691 1442.4,1706.6 1445.9,1699.9 1449.5,1687.2 1453,1682.3 1456.6,1705.5 1460.2,1690.7 1463.7,1701.9 1467.3,1701 1470.8,1701.1 1474.4,1698 1478,1688.3 1481.5,1690.2 1485.1,1692.6 1488.6,1697.6 1492.2,1695.1 1495.7,1695.8 1499.3,1689.7 1502.9,1699.5 1506.4,1695.2 1510,1695.8 1513.5,1695.5 1517.1,1693.4 1520.7,1693.8 1524.2,1685.9 1527.8,1695.7 1531.3,1684.4 1534.9,1697.2 1538.4,1698.4 1542,1694.4 1545.6,1692.7 1549.1,1693.3 1552.7,1686.2 1556.2,1687.3 1559.8,1691.7 1563.4,1697.4 1566.9,1695.8 1570.5,1685.4 1574,1693.6 1577.6,1704.1 1581.1,1699.9 1584.7,1693.6 1588.3,1687.2 1591.8,1689.1 1595.4,1679.6 1598.9,1685.5 1602.5,1694.3 1606,1675.7 1609.6,1665.4 1613.2,1642.6 1616.7,1632 1620.3,1641.7 1623.8,1632.9 1627.4,1607.3 1631,1615.4 1634.5,1613.8 1638.1,1621.6 1641.6,1592.6 1645.2,1590.1 1648.8,1587.6 1652.3,1585.4 1655.9,1567.5 1659.4,1602.6 1663,1575 1666.5,1585.1 1670.1,1561 1673.7,1583.2 1677.2,1570.7 1680.8,1581 1684.3,1568.8 1687.9,1583.5 1691.5,1579.4 1695,1571.3 1698.6,1573.2 1702.1,1585.4 1705.7,1566.3 1709.2,1568.2 1712.8,1551.9 1716.4,1559.7 1719.9,1577.5 1723.5,1581.3 1727,1563.2 1730.6,1568.2 1734.2,1567.5 1737.7,1552.2 1741.3,1549.1 1744.8,1563.5 1748.4,1534.1 1751.9,1562.9 1755.5,1537.8 1759.1,1556.3 1762.6,1546.9 1766.2,1565 1769.7,1566.3 1773.3,1553.2 1776.8,1569.4 1780.4,1559.1 1784,1552.2 1787.5,1564.1 1791.1,1551.9 1794.6,1560.4 1798.2,1538.1 1801.8,1530 1805.3,1541.3 1808.9,1543.2 1812.4,1546.3 1816,1549.1 1819.6,1531.9" fill="none" stroke="#828282" stroke-width="4.2" stroke-linejoin="round" stroke-linecap="butt" marker-start="url(#m828282)" marker-mid="url(#m828282)" marker-end="url(#m828282)" />
<polyline points="1392.5,1696.1 1396.1,1689.2 1399.7,1710.1 1403.2,1706.2 1406.8,1710.4 1410.3,1680.9 1413.9,1684.8 1417.5,1681.5 1421,1691.2 1424.6,1685.6 1428.1,1704.8 1431.7,1683.5 1435.2,1704.4 1438.8,1701.3 1442.4,1699.3 1445.9,1702.1 1449.5,1690.8 1453,1698.3 1456.6,1697.1 1460.2,1698.1 1463.7,1671 1467.3,1700.9 1470.8,1697.9 1474.4,1693.8 1478,1708 1481.5,1697.4 1485.1,1693 1488.6,1688.7 1492.2,1695.6 1495.7,1701.3 1499.3,1686.8 1502.9,1698.2 1506.4,1696.5 1510,1695.4 1513.5,1697.1 1517.1,1700.4 1520.7,1693.4 1524.2,1704.7 1527.8,1700.1 1531.3,1699.5 1534.9,1703.1 1538.4,1696.1 1542,1695.7 1545.6,1696.2 1549.1,1697.8 1552.7,1692.9 1556.2,1685 1559.8,1687.8 1563.4,1710.4 1566.9,1688.8 1570.5,1709.5 1574,1708.9 1577.6,1695.8 1581.1,1706 1584.7,1686 1588.3,1691.9 1591.8,1702.3 1595.4,1708 1598.9,1694.4 1602.5,1688.3 1606,1662.9 1609.6,1637.9 1613.2,1632.9 1616.7,1601 1620.3,1591.9 1623.8,1574.4 1627.4,1581 1631,1561.6 1634.5,1551.9 1638.1,1546 1641.6,1531.9 1645.2,1544.1 1648.8,1529.4 1652.3,1516.9 1655.9,1515.6 1659.4,1500.6 1663,1501.6 1666.5,1493.1 1670.1,1494.1 1673.7,1476.2 1677.2,1476.9 1680.8,1481.6 1684.3,1478.1 1687.9,1481.6 1691.5,1473.4 1695,1464.4 1698.6,1457.5 1702.1,1443.1 1705.7,1453.4 1709.2,1455.3 1712.8,1448.4 1716.4,1463.4 1719.9,1450.3 1723.5,1430.3 1727,1457.5 1730.6,1419.3 1734.2,1412.4 1737.7,1419.3 1741.3,1444.7 1744.8,1404.9 1748.4,1412.8 1751.9,1412.1 1755.5,1427.8 1759.1,1405.6 1762.6,1382.4 1766.2,1412.8 1769.7,1400.6 1773.3,1390.6 1776.8,1371.2 1780.4,1387.4 1784,1382.4 1787.5,1383.4 1791.1,1381.2 1794.6,1404.9 1798.2,1383.1 1801.8,1373 1805.3,1331.8 1808.9,1376.5 1812.4,1391.5 1816,1383.4 1819.6,1388.1" fill="none" stroke="#3f85c4" stroke-width="4.2" stroke-linejoin="round" stroke-linecap="butt" marker-start="url(#m3f85c4)" marker-mid="url(#m3f85c4)" marker-end="url(#m3f85c4)" />
</g>
<line x1="1371.2" y1="1534.08" x2="1840.9" y2="1534.08" stroke="#000" stroke-width="2.65" stroke-dasharray="9.19 3.97"/>
<line x1="1606.05" y1="1721.7" x2="1606.05" y2="1315.2" stroke="#000" stroke-width="2.65" stroke-dasharray="9.19 3.97"/>
<rect x="1371.2" y="1315.2" width="469.7" height="406.5" fill="none" stroke="#000" stroke-width="2.6"/>
<g stroke="#000" stroke-width="2.3">
<line x1="1392.55" y1="1721.7" x2="1392.55" y2="1730.1"/>
<line x1="1499.3" y1="1721.7" x2="1499.3" y2="1730.1"/>
<line x1="1606.05" y1="1721.7" x2="1606.05" y2="1730.1"/>
<line x1="1712.8" y1="1721.7" x2="1712.8" y2="1730.1"/>
<line x1="1819.55" y1="1721.7" x2="1819.55" y2="1730.1"/>
<line x1="1371.2" y1="1690.43" x2="1362.8" y2="1690.43"/>
<line x1="1371.2" y1="1627.89" x2="1362.8" y2="1627.89"/>
<line x1="1371.2" y1="1565.35" x2="1362.8" y2="1565.35"/>
<line x1="1371.2" y1="1502.82" x2="1362.8" y2="1502.82"/>
<line x1="1371.2" y1="1440.28" x2="1362.8" y2="1440.28"/>
<line x1="1371.2" y1="1377.74" x2="1362.8" y2="1377.74"/>
<line x1="1371.2" y1="1315.2" x2="1362.8" y2="1315.2"/>
</g>
<text x="1392.55" y="1766.9" text-anchor="middle" font-size="29" font-weight="normal">0</text>
<text x="1499.3" y="1766.9" text-anchor="middle" font-size="29" font-weight="normal">450</text>
<text x="1606.05" y="1766.9" text-anchor="middle" font-size="29" font-weight="normal">900</text>
<text x="1712.8" y="1766.9" text-anchor="middle" font-size="29" font-weight="normal">1350</text>
<text x="1819.55" y="1766.9" text-anchor="middle" font-size="29" font-weight="normal">1800</text>
<text x="1348.4" y="1701.83" text-anchor="end" font-size="29" font-weight="normal">0.6</text>
<text x="1348.4" y="1639.29" text-anchor="end" font-size="29" font-weight="normal">0.8</text>
<text x="1348.4" y="1576.75" text-anchor="end" font-size="29" font-weight="normal">1.0</text>
<text x="1348.4" y="1514.22" text-anchor="end" font-size="29" font-weight="normal">1.2</text>
<text x="1348.4" y="1451.68" text-anchor="end" font-size="29" font-weight="normal">1.4</text>
<text x="1348.4" y="1389.14" text-anchor="end" font-size="29" font-weight="normal">1.6</text>
<text x="1348.4" y="1326.6" text-anchor="end" font-size="29" font-weight="normal">1.8</text>
<text x="1606.05" y="1799.1" text-anchor="middle" font-size="29" font-weight="normal">Time (s)</text>
<text x="1288.2" y="1518.45" text-anchor="middle" font-size="29" font-weight="normal" transform="rotate(-90 1288.2 1518.45)">F340/F380</text>
<clipPath id="c7"><rect x="123.4" y="2217.25" width="469.7" height="417.45"/></clipPath>
<g clip-path="url(#c7)">
<polyline points="144.8,2627.4 148.3,2628.3 151.9,2630.9 155.4,2627.4 159,2628.6 162.5,2628.9 166.1,2632.1 169.7,2628.9 173.2,2628.1 176.8,2629.4 180.3,2625.4 183.9,2621.9 187.4,2626.5 191,2624.4 194.6,2621.7 198.1,2626 201.7,2622.6 205.2,2630.2 208.8,2627.8 212.4,2623.3 215.9,2625.3 219.5,2627.3 223,2624.5 226.6,2626.2 230.2,2625.8 233.7,2628.5 237.3,2626.7 240.8,2626.4 244.4,2629 247.9,2633.7 251.5,2627.6 255.1,2620.2 258.6,2633.7 262.2,2630.3 265.7,2628.1 269.3,2626.6 272.9,2623.9 276.4,2624.1 280,2623.3 283.5,2623 287.1,2629.2 290.6,2627.6 294.2,2629 297.8,2626 301.3,2628.6 304.9,2630.3 308.4,2621.4 312,2627.9 315.6,2629.4 319.1,2624.8 322.7,2631.2 326.2,2629 329.8,2629.5 333.3,2633.6 336.9,2633.7 340.5,2627.6 344,2629.4 347.6,2629.5 351.1,2625 354.7,2630.2 358.2,2605.5 361.8,2577.3 365.4,2558.8 368.9,2551.2 372.5,2541.8 376,2529.3 379.6,2516.8 383.2,2525.1 386.7,2499.6 390.3,2493.8 393.8,2485.5 397.4,2473.5 401,2485.2 404.5,2464.9 408.1,2459.1 411.6,2452.8 415.2,2449.7 418.7,2445.8 422.3,2439.3 425.9,2441.1 429.4,2447.9 433,2457.8 436.5,2438 440.1,2440.3 443.6,2436.7 447.2,2434.1 450.8,2438 454.3,2419.7 457.9,2427.5 461.4,2427.3 465,2423.9 468.6,2412.4 472.1,2406.7 475.7,2422.3 479.2,2410.3 482.8,2414.5 486.4,2422.1 489.9,2413.7 493.5,2410.8 497,2399.6 500.6,2383.7 504.1,2396.8 507.7,2397.3 511.3,2406.7 514.8,2406.1 518.4,2394.9 521.9,2388.1 525.5,2396.8 529,2380.1 532.6,2384.8 536.2,2382.9 539.7,2380.1 543.3,2371.7 546.8,2370.7 550.4,2372.5 554,2359.4 557.5,2379 561.1,2367.5 564.6,2354.7 568.2,2374.3 571.8,2353.2" fill="none" stroke="#828282" stroke-width="4.2" stroke-linejoin="round" stroke-linecap="butt" marker-start="url(#m828282)" marker-mid="url(#m828282)" marker-end="url(#m828282)" />
<polyline points="144.8,2619.1 148.3,2620.9 151.9,2627.4 155.4,2623 159,2613 162.5,2625 166.1,2622.2 169.7,2621 173.2,2622.9 176.8,2623.5 180.3,2621 183.9,2619.5 187.4,2625.7 191,2620 194.6,2622.3 198.1,2621.7 201.7,2626.2 205.2,2622.6 208.8,2618.7 212.4,2626.1 215.9,2628.6 219.5,2628 223,2622.2 226.6,2616.4 230.2,2619.7 233.7,2618.2 237.3,2622.7 240.8,2618.9 244.4,2623.7 247.9,2621.2 251.5,2623.7 255.1,2624.5 258.6,2622.6 262.2,2624.3 265.7,2619.2 269.3,2622.4 272.9,2621.8 276.4,2623.9 280,2619.4 283.5,2625.1 287.1,2621.1 290.6,2624 294.2,2625.7 297.8,2624.4 301.3,2612.5 304.9,2623.6 308.4,2623.9 312,2622.1 315.6,2621.3 319.1,2623.4 322.7,2623 326.2,2622.1 329.8,2624.5 333.3,2620.9 336.9,2620.5 340.5,2622.4 344,2616.4 347.6,2620.3 351.1,2623.3 354.7,2624 358.2,2574.2 361.8,2520.2 365.4,2515.5 368.9,2495.9 372.5,2485.5 376,2470.9 379.6,2459.4 383.2,2455.2 386.7,2440.3 390.3,2450.5 393.8,2436.2 397.4,2419.2 401,2400.7 404.5,2389.4 408.1,2392.6 411.6,2378.2 415.2,2380.1 418.7,2385.5 422.3,2367.5 425.9,2365.7 429.4,2344.6 433,2348.2 436.5,2364.4 440.1,2359.4 443.6,2336.5 447.2,2338.3 450.8,2335.2 454.3,2319 457.9,2325 461.4,2328.9 465,2318.5 468.6,2334.7 472.1,2328.9 475.7,2323.2 479.2,2340.9 482.8,2312.2 486.4,2314 489.9,2317.4 493.5,2301 497,2320.8 500.6,2291.6 504.1,2308 507.7,2287.7 511.3,2282 514.8,2287.2 518.4,2313.3 521.9,2290.3 525.5,2277.8 529,2292.9 532.6,2286.7 536.2,2290.8 539.7,2282 543.3,2283.8 546.8,2288 550.4,2294.7 554,2291.6 557.5,2283 561.1,2252.2 564.6,2284.3 568.2,2268.6 571.8,2277.3" fill="none" stroke="#ee6b8e" stroke-width="4.2" stroke-linejoin="round" stroke-linecap="butt" marker-start="url(#mee6b8e)" marker-mid="url(#mee6b8e)" marker-end="url(#mee6b8e)" />
</g>
<line x1="123.4" y1="2347.7" x2="593.1" y2="2347.7" stroke="#000" stroke-width="2.65" stroke-dasharray="9.19 3.97"/>
<line x1="358.25" y1="2634.7" x2="358.25" y2="2217.25" stroke="#000" stroke-width="2.65" stroke-dasharray="9.19 3.97"/>
<rect x="123.4" y="2217.25" width="469.7" height="417.45" fill="none" stroke="#000" stroke-width="2.6"/>
<g stroke="#000" stroke-width="2.3">
<line x1="144.75" y1="2634.7" x2="144.75" y2="2643.1"/>
<line x1="251.5" y1="2634.7" x2="251.5" y2="2643.1"/>
<line x1="358.25" y1="2634.7" x2="358.25" y2="2643.1"/>
<line x1="465" y1="2634.7" x2="465" y2="2643.1"/>
<line x1="571.75" y1="2634.7" x2="571.75" y2="2643.1"/>
<line x1="123.4" y1="2608.61" x2="115" y2="2608.61"/>
<line x1="123.4" y1="2556.43" x2="115" y2="2556.43"/>
<line x1="123.4" y1="2504.25" x2="115" y2="2504.25"/>
<line x1="123.4" y1="2452.07" x2="115" y2="2452.07"/>
<line x1="123.4" y1="2399.88" x2="115" y2="2399.88"/>
<line x1="123.4" y1="2347.7" x2="115" y2="2347.7"/>
<line x1="123.4" y1="2295.52" x2="115" y2="2295.52"/>
<line x1="123.4" y1="2243.34" x2="115" y2="2243.34"/>
</g>
<text x="144.75" y="2679.9" text-anchor="middle" font-size="29" font-weight="normal">0</text>
<text x="251.5" y="2679.9" text-anchor="middle" font-size="29" font-weight="normal">450</text>
<text x="358.25" y="2679.9" text-anchor="middle" font-size="29" font-weight="normal">900</text>
<text x="465" y="2679.9" text-anchor="middle" font-size="29" font-weight="normal">1350</text>
<text x="571.75" y="2679.9" text-anchor="middle" font-size="29" font-weight="normal">1800</text>
<text x="100.6" y="2620.01" text-anchor="end" font-size="29" font-weight="normal">0.6</text>
<text x="100.6" y="2567.83" text-anchor="end" font-size="29" font-weight="normal">0.8</text>
<text x="100.6" y="2515.65" text-anchor="end" font-size="29" font-weight="normal">1.0</text>
<text x="100.6" y="2463.47" text-anchor="end" font-size="29" font-weight="normal">1.2</text>
<text x="100.6" y="2411.28" text-anchor="end" font-size="29" font-weight="normal">1.4</text>
<text x="100.6" y="2359.1" text-anchor="end" font-size="29" font-weight="normal">1.6</text>
<text x="100.6" y="2306.92" text-anchor="end" font-size="29" font-weight="normal">1.8</text>
<text x="100.6" y="2254.74" text-anchor="end" font-size="29" font-weight="normal">2.0</text>
<text x="358.25" y="2712.1" text-anchor="middle" font-size="29" font-weight="normal">Time (s)</text>
<text x="40.4" y="2425.97" text-anchor="middle" font-size="29" font-weight="normal" transform="rotate(-90 40.4 2425.97)">F340/F380</text>
<clipPath id="c8"><rect x="747.15" y="2217.25" width="469.7" height="417.45"/></clipPath>
<g clip-path="url(#c8)">
<polyline points="768.5,2627.4 772.1,2628.3 775.6,2630.9 779.2,2627.4 782.7,2628.6 786.3,2628.9 789.9,2632.1 793.4,2628.9 797,2628.1 800.5,2629.4 804.1,2625.4 807.6,2621.9 811.2,2626.5 814.8,2624.4 818.3,2621.7 821.9,2626 825.4,2622.6 829,2630.2 832.5,2627.8 836.1,2623.3 839.7,2625.3 843.2,2627.3 846.8,2624.5 850.3,2626.2 853.9,2625.8 857.5,2628.5 861,2626.7 864.6,2626.4 868.1,2629 871.7,2633.7 875.2,2627.6 878.8,2620.2 882.4,2633.7 885.9,2630.3 889.5,2628.1 893,2626.6 896.6,2623.9 900.2,2624.1 903.7,2623.3 907.3,2623 910.8,2629.2 914.4,2627.6 918,2629 921.5,2626 925.1,2628.6 928.6,2630.3 932.2,2621.4 935.7,2627.9 939.3,2629.4 942.9,2624.8 946.4,2631.2 950,2629 953.5,2629.5 957.1,2633.6 960.6,2633.7 964.2,2627.6 967.8,2629.4 971.3,2629.5 974.9,2625 978.4,2630.2 982,2605.5 985.6,2577.3 989.1,2558.8 992.7,2551.2 996.2,2541.8 999.8,2529.3 1003.3,2516.8 1006.9,2525.1 1010.5,2499.6 1014,2493.8 1017.6,2485.5 1021.1,2473.5 1024.7,2485.2 1028.3,2464.9 1031.8,2459.1 1035.4,2452.8 1038.9,2449.7 1042.5,2445.8 1046,2439.3 1049.6,2441.1 1053.2,2447.9 1056.7,2457.8 1060.3,2438 1063.8,2440.3 1067.4,2436.7 1071,2434.1 1074.5,2438 1078.1,2419.7 1081.6,2427.5 1085.2,2427.3 1088.8,2423.9 1092.3,2412.4 1095.9,2406.7 1099.4,2422.3 1103,2410.3 1106.5,2414.5 1110.1,2422.1 1113.7,2413.7 1117.2,2410.8 1120.8,2399.6 1124.3,2383.7 1127.9,2396.8 1131.5,2397.3 1135,2406.7 1138.6,2406.1 1142.1,2394.9 1145.7,2388.1 1149.2,2396.8 1152.8,2380.1 1156.4,2384.8 1159.9,2382.9 1163.5,2380.1 1167,2371.7 1170.6,2370.7 1174.2,2372.5 1177.7,2359.4 1181.3,2379 1184.8,2367.5 1188.4,2354.7 1191.9,2374.3 1195.5,2353.2" fill="none" stroke="#828282" stroke-width="4.2" stroke-linejoin="round" stroke-linecap="butt" marker-start="url(#m828282)" marker-mid="url(#m828282)" marker-end="url(#m828282)" />
<polyline points="768.5,2619.2 772.1,2624.5 775.6,2625 779.2,2629 782.7,2623.8 786.3,2624.6 789.9,2625.1 793.4,2622.9 797,2622.6 800.5,2626.5 804.1,2626.1 807.6,2625 811.2,2621.9 814.8,2622.3 818.3,2627.1 821.9,2626.7 825.4,2621.8 829,2619.6 832.5,2623.8 836.1,2625.5 839.7,2620.4 843.2,2624.5 846.8,2621.8 850.3,2619.7 853.9,2622.1 857.5,2623.6 861,2620.5 864.6,2625.4 868.1,2624.2 871.7,2625.2 875.2,2624.3 878.8,2625 882.4,2624.2 885.9,2624.7 889.5,2623.5 893,2623.6 896.6,2623 900.2,2620.1 903.7,2627.8 907.3,2620.4 910.8,2624.4 914.4,2627 918,2624.2 921.5,2623.5 925.1,2621 928.6,2626.5 932.2,2623.2 935.7,2623.4 939.3,2628.1 942.9,2626.8 946.4,2622.2 950,2621.9 953.5,2620.9 957.1,2621.7 960.6,2622.7 964.2,2623.4 967.8,2620.6 971.3,2625.9 974.9,2624.1 978.4,2622.7 982,2581.7 985.6,2514.4 989.1,2499.6 992.7,2468.8 996.2,2457 999.8,2443.5 1003.3,2429.9 1006.9,2406.1 1010.5,2413.7 1014,2383.7 1017.6,2387.4 1021.1,2372.5 1024.7,2364.4 1028.3,2350.1 1031.8,2358.9 1035.4,2349.3 1038.9,2337.5 1042.5,2324.5 1046,2323.4 1049.6,2326.8 1053.2,2313.8 1056.7,2330.5 1060.3,2328.4 1063.8,2302 1067.4,2279.6 1071,2297.9 1074.5,2301.5 1078.1,2286.1 1081.6,2297.3 1085.2,2302.8 1088.8,2310.9 1092.3,2305.4 1095.9,2273.6 1099.4,2291.6 1103,2273.1 1106.5,2277.8 1110.1,2255.9 1113.7,2284.8 1117.2,2266 1120.8,2296.8 1124.3,2257.7 1127.9,2285.6 1131.5,2276.5 1135,2297.9 1138.6,2271.3 1142.1,2260.6 1145.7,2268.4 1149.2,2276 1152.8,2258 1156.4,2260 1159.9,2255.9 1163.5,2251.2 1167,2261.1 1170.6,2239.9 1174.2,2285.6 1177.7,2273.6 1181.3,2263.2 1184.8,2254 1188.4,2235.3 1191.9,2246.5 1195.5,2266.6" fill="none" stroke="#ee6b8e" stroke-width="4.2" stroke-linejoin="round" stroke-linecap="butt" marker-start="url(#mee6b8e)" marker-mid="url(#mee6b8e)" marker-end="url(#mee6b8e)" />
</g>
<line x1="747.15" y1="2347.7" x2="1216.85" y2="2347.7" stroke="#000" stroke-width="2.65" stroke-dasharray="9.19 3.97"/>
<line x1="982" y1="2634.7" x2="982" y2="2217.25" stroke="#000" stroke-width="2.65" stroke-dasharray="9.19 3.97"/>
<rect x="747.15" y="2217.25" width="469.7" height="417.45" fill="none" stroke="#000" stroke-width="2.6"/>
<g stroke="#000" stroke-width="2.3">
<line x1="768.5" y1="2634.7" x2="768.5" y2="2643.1"/>
<line x1="875.25" y1="2634.7" x2="875.25" y2="2643.1"/>
<line x1="982" y1="2634.7" x2="982" y2="2643.1"/>
<line x1="1088.75" y1="2634.7" x2="1088.75" y2="2643.1"/>
<line x1="1195.5" y1="2634.7" x2="1195.5" y2="2643.1"/>
<line x1="747.15" y1="2608.61" x2="738.75" y2="2608.61"/>
<line x1="747.15" y1="2556.43" x2="738.75" y2="2556.43"/>
<line x1="747.15" y1="2504.25" x2="738.75" y2="2504.25"/>
<line x1="747.15" y1="2452.07" x2="738.75" y2="2452.07"/>
<line x1="747.15" y1="2399.88" x2="738.75" y2="2399.88"/>
<line x1="747.15" y1="2347.7" x2="738.75" y2="2347.7"/>
<line x1="747.15" y1="2295.52" x2="738.75" y2="2295.52"/>
<line x1="747.15" y1="2243.34" x2="738.75" y2="2243.34"/>
</g>
<text x="768.5" y="2679.9" text-anchor="middle" font-size="29" font-weight="normal">0</text>
<text x="875.25" y="2679.9" text-anchor="middle" font-size="29" font-weight="normal">450</text>
<text x="982" y="2679.9" text-anchor="middle" font-size="29" font-weight="normal">900</text>
<text x="1088.75" y="2679.9" text-anchor="middle" font-size="29" font-weight="normal">1350</text>
<text x="1195.5" y="2679.9" text-anchor="middle" font-size="29" font-weight="normal">1800</text>
<text x="724.35" y="2620.01" text-anchor="end" font-size="29" font-weight="normal">0.6</text>
<text x="724.35" y="2567.83" text-anchor="end" font-size="29" font-weight="normal">0.8</text>
<text x="724.35" y="2515.65" text-anchor="end" font-size="29" font-weight="normal">1.0</text>
<text x="724.35" y="2463.47" text-anchor="end" font-size="29" font-weight="normal">1.2</text>
<text x="724.35" y="2411.28" text-anchor="end" font-size="29" font-weight="normal">1.4</text>
<text x="724.35" y="2359.1" text-anchor="end" font-size="29" font-weight="normal">1.6</text>
<text x="724.35" y="2306.92" text-anchor="end" font-size="29" font-weight="normal">1.8</text>
<text x="724.35" y="2254.74" text-anchor="end" font-size="29" font-weight="normal">2.0</text>
<text x="982" y="2712.1" text-anchor="middle" font-size="29" font-weight="normal">Time (s)</text>
<text x="664.15" y="2425.97" text-anchor="middle" font-size="29" font-weight="normal" transform="rotate(-90 664.15 2425.97)">F340/F380</text>
<clipPath id="c9"><rect x="1371.2" y="2217.25" width="469.7" height="417.45"/></clipPath>
<g clip-path="url(#c9)">
<polyline points="1392.5,2627.4 1396.1,2628.3 1399.7,2630.9 1403.2,2627.4 1406.8,2628.6 1410.3,2628.9 1413.9,2632.1 1417.5,2628.9 1421,2628.1 1424.6,2629.4 1428.1,2625.4 1431.7,2621.9 1435.2,2626.5 1438.8,2624.4 1442.4,2621.7 1445.9,2626 1449.5,2622.6 1453,2630.2 1456.6,2627.8 1460.2,2623.3 1463.7,2625.3 1467.3,2627.3 1470.8,2624.5 1474.4,2626.2 1478,2625.8 1481.5,2628.5 1485.1,2626.7 1488.6,2626.4 1492.2,2629 1495.7,2633.7 1499.3,2627.6 1502.9,2620.2 1506.4,2633.7 1510,2630.3 1513.5,2628.1 1517.1,2626.6 1520.7,2623.9 1524.2,2624.1 1527.8,2623.3 1531.3,2623 1534.9,2629.2 1538.4,2627.6 1542,2629 1545.6,2626 1549.1,2628.6 1552.7,2630.3 1556.2,2621.4 1559.8,2627.9 1563.4,2629.4 1566.9,2624.8 1570.5,2631.2 1574,2629 1577.6,2629.5 1581.1,2633.6 1584.7,2633.7 1588.3,2627.6 1591.8,2629.4 1595.4,2629.5 1598.9,2625 1602.5,2630.2 1606,2605.5 1609.6,2577.3 1613.2,2558.8 1616.7,2551.2 1620.3,2541.8 1623.8,2529.3 1627.4,2516.8 1631,2525.1 1634.5,2499.6 1638.1,2493.8 1641.6,2485.5 1645.2,2473.5 1648.8,2485.2 1652.3,2464.9 1655.9,2459.1 1659.4,2452.8 1663,2449.7 1666.5,2445.8 1670.1,2439.3 1673.7,2441.1 1677.2,2447.9 1680.8,2457.8 1684.3,2438 1687.9,2440.3 1691.5,2436.7 1695,2434.1 1698.6,2438 1702.1,2419.7 1705.7,2427.5 1709.2,2427.3 1712.8,2423.9 1716.4,2412.4 1719.9,2406.7 1723.5,2422.3 1727,2410.3 1730.6,2414.5 1734.2,2422.1 1737.7,2413.7 1741.3,2410.8 1744.8,2399.6 1748.4,2383.7 1751.9,2396.8 1755.5,2397.3 1759.1,2406.7 1762.6,2406.1 1766.2,2394.9 1769.7,2388.1 1773.3,2396.8 1776.8,2380.1 1780.4,2384.8 1784,2382.9 1787.5,2380.1 1791.1,2371.7 1794.6,2370.7 1798.2,2372.5 1801.8,2359.4 1805.3,2379 1808.9,2367.5 1812.4,2354.7 1816,2374.3 1819.6,2353.2" fill="none" stroke="#828282" stroke-width="4.2" stroke-linejoin="round" stroke-linecap="butt" marker-start="url(#m828282)" marker-mid="url(#m828282)" marker-end="url(#m828282)" />
<polyline points="1392.5,2622.9 1396.1,2626.2 1399.7,2623.6 1403.2,2629.1 1406.8,2622.1 1410.3,2628.7 1413.9,2624.2 1417.5,2624.6 1421,2626.6 1424.6,2617.7 1428.1,2626 1431.7,2622.8 1435.2,2621.1 1438.8,2626.9 1442.4,2620.4 1445.9,2624.6 1449.5,2621.4 1453,2626.9 1456.6,2627.2 1460.2,2620.8 1463.7,2622.8 1467.3,2623.9 1470.8,2622.4 1474.4,2620.9 1478,2627.6 1481.5,2630 1485.1,2629.1 1488.6,2629.4 1492.2,2630 1495.7,2626.1 1499.3,2625.8 1502.9,2624.4 1506.4,2623.6 1510,2625.4 1513.5,2625 1517.1,2624.1 1520.7,2627.1 1524.2,2626.3 1527.8,2624.2 1531.3,2626.2 1534.9,2625.9 1538.4,2624.6 1542,2620.4 1545.6,2623.3 1549.1,2625.2 1552.7,2625.9 1556.2,2624.6 1559.8,2616.3 1563.4,2630 1566.9,2622.7 1570.5,2623.6 1574,2621.8 1577.6,2627.6 1581.1,2618.2 1584.7,2621.4 1588.3,2624.4 1591.8,2623.8 1595.4,2626.3 1598.9,2624.1 1602.5,2624.7 1606,2578.1 1609.6,2503.7 1613.2,2480.2 1616.7,2459.6 1620.3,2461.2 1623.8,2448.2 1627.4,2423.6 1631,2412.7 1634.5,2408 1638.1,2411.1 1641.6,2381.4 1645.2,2381.9 1648.8,2388.4 1652.3,2378.8 1655.9,2361.3 1659.4,2351.9 1663,2362.6 1666.5,2339.9 1670.1,2338.8 1673.7,2328.4 1677.2,2317.7 1680.8,2335.7 1684.3,2340.9 1687.9,2307.8 1691.5,2328.7 1695,2319.8 1698.6,2320.3 1702.1,2293.2 1705.7,2290.3 1709.2,2315.9 1712.8,2296.6 1716.4,2292.1 1719.9,2322.1 1723.5,2305.4 1727,2292.9 1730.6,2292.1 1734.2,2308 1737.7,2303.3 1741.3,2280.9 1744.8,2300.2 1748.4,2279.1 1751.9,2286.7 1755.5,2271.8 1759.1,2285.6 1762.6,2268.9 1766.2,2266.6 1769.7,2276 1773.3,2281.7 1776.8,2272.3 1780.4,2286.1 1784,2279.1 1787.5,2275.4 1791.1,2247.5 1794.6,2258.7 1798.2,2279.6 1801.8,2279.1 1805.3,2256.6 1808.9,2256.6 1812.4,2270 1816,2276.7 1819.6,2252.5" fill="none" stroke="#ee6b8e" stroke-width="4.2" stroke-linejoin="round" stroke-linecap="butt" marker-start="url(#mee6b8e)" marker-mid="url(#mee6b8e)" marker-end="url(#mee6b8e)" />
</g>
<line x1="1371.2" y1="2347.7" x2="1840.9" y2="2347.7" stroke="#000" stroke-width="2.65" stroke-dasharray="9.19 3.97"/>
<line x1="1606.05" y1="2634.7" x2="1606.05" y2="2217.25" stroke="#000" stroke-width="2.65" stroke-dasharray="9.19 3.97"/>
<rect x="1371.2" y="2217.25" width="469.7" height="417.45" fill="none" stroke="#000" stroke-width="2.6"/>
<g stroke="#000" stroke-width="2.3">
<line x1="1392.55" y1="2634.7" x2="1392.55" y2="2643.1"/>
<line x1="1499.3" y1="2634.7" x2="1499.3" y2="2643.1"/>
<line x1="1606.05" y1="2634.7" x2="1606.05" y2="2643.1"/>
<line x1="1712.8" y1="2634.7" x2="1712.8" y2="2643.1"/>
<line x1="1819.55" y1="2634.7" x2="1819.55" y2="2643.1"/>
<line x1="1371.2" y1="2608.61" x2="1362.8" y2="2608.61"/>
<line x1="1371.2" y1="2556.43" x2="1362.8" y2="2556.43"/>
<line x1="1371.2" y1="2504.25" x2="1362.8" y2="2504.25"/>
<line x1="1371.2" y1="2452.07" x2="1362.8" y2="2452.07"/>
<line x1="1371.2" y1="2399.88" x2="1362.8" y2="2399.88"/>
<line x1="1371.2" y1="2347.7" x2="1362.8" y2="2347.7"/>
<line x1="1371.2" y1="2295.52" x2="1362.8" y2="2295.52"/>
<line x1="1371.2" y1="2243.34" x2="1362.8" y2="2243.34"/>
</g>
<text x="1392.55" y="2679.9" text-anchor="middle" font-size="29" font-weight="normal">0</text>
<text x="1499.3" y="2679.9" text-anchor="middle" font-size="29" font-weight="normal">450</text>
<text x="1606.05" y="2679.9" text-anchor="middle" font-size="29" font-weight="normal">900</text>
<text x="1712.8" y="2679.9" text-anchor="middle" font-size="29" font-weight="normal">1350</text>
<text x="1819.55" y="2679.9" text-anchor="middle" font-size="29" font-weight="normal">1800</text>
<text x="1348.4" y="2620.01" text-anchor="end" font-size="29" font-weight="normal">0.6</text>
<text x="1348.4" y="2567.83" text-anchor="end" font-size="29" font-weight="normal">0.8</text>
<text x="1348.4" y="2515.65" text-anchor="end" font-size="29" font-weight="normal">1.0</text>
<text x="1348.4" y="2463.47" text-anchor="end" font-size="29" font-weight="normal">1.2</text>
<text x="1348.4" y="2411.28" text-anchor="end" font-size="29" font-weight="normal">1.4</text>
<text x="1348.4" y="2359.1" text-anchor="end" font-size="29" font-weight="normal">1.6</text>
<text x="1348.4" y="2306.92" text-anchor="end" font-size="29" font-weight="normal">1.8</text>
<text x="1348.4" y="2254.74" text-anchor="end" font-size="29" font-weight="normal">2.0</text>
<text x="1606.05" y="2712.1" text-anchor="middle" font-size="29" font-weight="normal">Time (s)</text>
<text x="1288.2" y="2425.97" text-anchor="middle" font-size="29" font-weight="normal" transform="rotate(-90 1288.2 2425.97)">F340/F380</text>
<text x="1.8" y="17.5" text-anchor="start" font-size="28.4" font-weight="bold">a</text>
<text x="0.9" y="368.3" text-anchor="start" font-size="28.4" font-weight="bold">b</text>
<text x="1.8" y="920.75" text-anchor="start" font-size="28.4" font-weight="bold">c</text>
<text x="1.8" y="1282" text-anchor="start" font-size="28.4" font-weight="bold">d</text>
<text x="1.8" y="1842.5" text-anchor="start" font-size="28.4" font-weight="bold">e</text>
<text x="4.6" y="2226.5" text-anchor="start" font-size="28.4" font-weight="bold">f</text>
</svg>
</body></html>
